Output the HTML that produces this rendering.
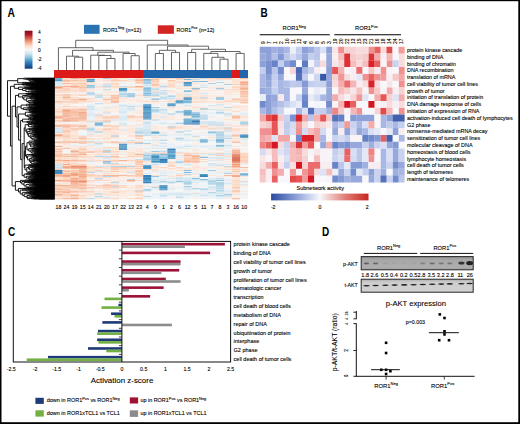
<!DOCTYPE html>
<html><head><meta charset="utf-8"><style>
html,body{margin:0;padding:0;background:#fff;}
body{width:520px;height:424px;overflow:hidden;}
svg{display:block;font-family:"Liberation Sans", sans-serif;}
text{stroke:#000;stroke-width:0.1px;}
</style></head><body>
<svg width="520" height="424" viewBox="0 0 520 424" shape-rendering="auto">
<rect x="0" y="0" width="520" height="424" fill="#fff"/>
<text transform="translate(7.5,16.75) scale(0.86,1)" font-size="11.9" font-weight="bold" fill="#000" style="stroke:none">A</text>
<rect x="84" y="24.8" width="15.6" height="9" fill="#2c73b4" />
<text x="103" y="31.6" font-size="5.3" fill="#000">ROR1<tspan font-size="3.6" dy="-2.4">Neg</tspan><tspan dy="2.4"> (n=12)</tspan></text>
<rect x="157.8" y="25.3" width="16.1" height="8.5" fill="#d42424" />
<text x="176.5" y="31.6" font-size="5.3" fill="#000">ROR1<tspan font-size="3.6" dy="-2.4">Pos</tspan><tspan dy="2.4"> (n=12)</tspan></text>
<defs><linearGradient id="keyA" x1="0" y1="0" x2="0" y2="1"><stop offset="0.00" stop-color="#7a0d22"/><stop offset="0.10" stop-color="#b2182b"/><stop offset="0.20" stop-color="#d6604d"/><stop offset="0.30" stop-color="#f4a582"/><stop offset="0.40" stop-color="#fddbc7"/><stop offset="0.50" stop-color="#f7f7f7"/><stop offset="0.60" stop-color="#d1e5f0"/><stop offset="0.70" stop-color="#92c5de"/><stop offset="0.80" stop-color="#4393c3"/><stop offset="0.90" stop-color="#2166ac"/><stop offset="1.00" stop-color="#0f3a6e"/></linearGradient></defs>
<rect x="24.7" y="30.7" width="7.8" height="38" fill="url(#keyA)" />
<text x="39.3" y="34" font-size="4.8" text-anchor="middle" font-weight="normal" fill="#000" >4</text>
<text x="39.3" y="43.2" font-size="4.8" text-anchor="middle" font-weight="normal" fill="#000" >2</text>
<text x="39.3" y="52.1" font-size="4.8" text-anchor="middle" font-weight="normal" fill="#000" >0</text>
<text x="39.3" y="60.9" font-size="4.8" text-anchor="middle" font-weight="normal" fill="#000" >-2</text>
<text x="39.3" y="70.1" font-size="4.8" text-anchor="middle" font-weight="normal" fill="#000" >-4</text>
<rect x="54.4" y="70.1" width="88.82" height="7.5" fill="#dc1a1a" shape-rendering="crispEdges"/>
<rect x="143.22" y="70.1" width="88.82" height="7.5" fill="#2166aa" shape-rendering="crispEdges"/>
<rect x="232.05" y="70.1" width="8.07" height="7.5" fill="#dc1a1a" shape-rendering="crispEdges"/>
<rect x="240.12" y="70.1" width="8.07" height="7.5" fill="#2166aa" shape-rendering="crispEdges"/>
<path d="M74.59 70.1V57.2H82.66V70.1" fill="none" stroke="#4a4a4a" stroke-width="0.85"/>
<path d="M66.51 70.1V56.2H78.62V57.2" fill="none" stroke="#4a4a4a" stroke-width="0.85"/>
<path d="M106.89 70.1V58.5H114.96V70.1" fill="none" stroke="#4a4a4a" stroke-width="0.85"/>
<path d="M98.81 70.1V55.5H110.92V58.5" fill="none" stroke="#4a4a4a" stroke-width="0.85"/>
<path d="M90.74 70.1V55.2H104.87V55.5" fill="none" stroke="#4a4a4a" stroke-width="0.85"/>
<path d="M131.11 70.1V55.7H139.19V70.1" fill="none" stroke="#4a4a4a" stroke-width="0.85"/>
<path d="M123.04 70.1V53.5H135.15V55.7" fill="none" stroke="#4a4a4a" stroke-width="0.85"/>
<path d="M97.8 55.2V52.2H129.09V53.5" fill="none" stroke="#4a4a4a" stroke-width="0.85"/>
<path d="M72.57 56.2V50.35H113.45V52.2" fill="none" stroke="#4a4a4a" stroke-width="0.85"/>
<path d="M58.44 70.1V47.7H93.01V50.35" fill="none" stroke="#4a4a4a" stroke-width="0.85"/>
<path d="M155.34 70.1V53.5H163.41V70.1" fill="none" stroke="#4a4a4a" stroke-width="0.85"/>
<path d="M171.49 70.1V52.4H179.56V70.1" fill="none" stroke="#4a4a4a" stroke-width="0.85"/>
<path d="M159.38 53.5V50.3H175.52V52.4" fill="none" stroke="#4a4a4a" stroke-width="0.85"/>
<path d="M187.64 70.1V52.5H195.71V70.1" fill="none" stroke="#4a4a4a" stroke-width="0.85"/>
<path d="M219.94 70.1V59.2H228.01V70.1" fill="none" stroke="#4a4a4a" stroke-width="0.85"/>
<path d="M211.86 70.1V57.3H223.97V59.2" fill="none" stroke="#4a4a4a" stroke-width="0.85"/>
<path d="M203.79 70.1V53.4H217.92V57.3" fill="none" stroke="#4a4a4a" stroke-width="0.85"/>
<path d="M236.09 70.1V53.4H244.16V70.1" fill="none" stroke="#4a4a4a" stroke-width="0.85"/>
<path d="M210.85 53.4V51.5H240.12V53.4" fill="none" stroke="#4a4a4a" stroke-width="0.85"/>
<path d="M191.68 52.5V49.3H225.49V51.5" fill="none" stroke="#4a4a4a" stroke-width="0.85"/>
<path d="M167.45 50.3V46.2H208.58V49.3" fill="none" stroke="#4a4a4a" stroke-width="0.85"/>
<path d="M147.26 70.1V45H188.02V46.2" fill="none" stroke="#4a4a4a" stroke-width="0.85"/>
<path d="M75.72 47.7V40.3H167.64V45" fill="none" stroke="#4a4a4a" stroke-width="0.85"/>
<text x="58.44" y="208.9" font-size="5.2" text-anchor="middle" font-weight="normal" fill="#000" >18</text>
<text x="66.51" y="208.9" font-size="5.2" text-anchor="middle" font-weight="normal" fill="#000" >24</text>
<text x="74.59" y="208.9" font-size="5.2" text-anchor="middle" font-weight="normal" fill="#000" >19</text>
<text x="82.66" y="208.9" font-size="5.2" text-anchor="middle" font-weight="normal" fill="#000" >15</text>
<text x="90.74" y="208.9" font-size="5.2" text-anchor="middle" font-weight="normal" fill="#000" >14</text>
<text x="98.81" y="208.9" font-size="5.2" text-anchor="middle" font-weight="normal" fill="#000" >21</text>
<text x="106.89" y="208.9" font-size="5.2" text-anchor="middle" font-weight="normal" fill="#000" >20</text>
<text x="114.96" y="208.9" font-size="5.2" text-anchor="middle" font-weight="normal" fill="#000" >17</text>
<text x="123.04" y="208.9" font-size="5.2" text-anchor="middle" font-weight="normal" fill="#000" >22</text>
<text x="131.11" y="208.9" font-size="5.2" text-anchor="middle" font-weight="normal" fill="#000" >13</text>
<text x="139.19" y="208.9" font-size="5.2" text-anchor="middle" font-weight="normal" fill="#000" >23</text>
<text x="147.26" y="208.9" font-size="5.2" text-anchor="middle" font-weight="normal" fill="#000" >4</text>
<text x="155.34" y="208.9" font-size="5.2" text-anchor="middle" font-weight="normal" fill="#000" >9</text>
<text x="163.41" y="208.9" font-size="5.2" text-anchor="middle" font-weight="normal" fill="#000" >1</text>
<text x="171.49" y="208.9" font-size="5.2" text-anchor="middle" font-weight="normal" fill="#000" >2</text>
<text x="179.56" y="208.9" font-size="5.2" text-anchor="middle" font-weight="normal" fill="#000" >6</text>
<text x="187.64" y="208.9" font-size="5.2" text-anchor="middle" font-weight="normal" fill="#000" >12</text>
<text x="195.71" y="208.9" font-size="5.2" text-anchor="middle" font-weight="normal" fill="#000" >5</text>
<text x="203.79" y="208.9" font-size="5.2" text-anchor="middle" font-weight="normal" fill="#000" >11</text>
<text x="211.86" y="208.9" font-size="5.2" text-anchor="middle" font-weight="normal" fill="#000" >7</text>
<text x="219.94" y="208.9" font-size="5.2" text-anchor="middle" font-weight="normal" fill="#000" >8</text>
<text x="228.01" y="208.9" font-size="5.2" text-anchor="middle" font-weight="normal" fill="#000" >3</text>
<text x="236.09" y="208.9" font-size="5.2" text-anchor="middle" font-weight="normal" fill="#000" >16</text>
<text x="244.16" y="208.9" font-size="5.2" text-anchor="middle" font-weight="normal" fill="#000" >10</text>
<defs><filter id="blA" x="-2%" y="-2%" width="104%" height="104%"><feGaussianBlur stdDeviation="0.35"/></filter></defs>
<g filter="url(#blA)"><path fill="#72aed2" d="M54.4 78h8.12v1.06h-8.12zM183.6 91.14h8.12v1.06h-8.12zM199.75 139.66h8.12v1.06h-8.12zM151.3 154.82h8.12v1.06h-8.12z"/>
<path fill="#fcdecc" d="M62.47 78h8.12v1.06h-8.12zM110.92 78h8.12v1.06h-8.12zM135.15 78h8.12v1.06h-8.12zM183.6 78h8.12v1.06h-8.12zM191.67 78h8.12v1.06h-8.12zM110.92 81.03h8.12v1.06h-8.12zM167.45 81.03h8.12v1.06h-8.12zM232.05 81.03h8.12v1.06h-8.12zM70.55 82.04h8.12v1.06h-8.12zM78.62 82.04h8.12v1.06h-8.12zM151.3 82.04h8.12v1.06h-8.12zM167.45 82.04h8.12v1.06h-8.12zM175.52 82.04h8.12v1.06h-8.12zM102.85 83.05h8.12v1.06h-8.12zM151.3 83.05h8.12v1.06h-8.12zM119 87.1h8.12v1.06h-8.12zM86.7 89.12h8.12v1.06h-8.12zM191.67 90.13h8.12v1.06h-8.12zM62.47 91.14h8.12v1.06h-8.12zM110.92 91.14h8.12v1.06h-8.12zM54.4 92.15h8.12v1.06h-8.12zM102.85 92.15h8.12v1.06h-8.12zM232.05 92.15h8.12v1.06h-8.12zM135.15 94.17h8.12v1.06h-8.12zM232.05 94.17h8.12v1.06h-8.12zM70.55 95.18h8.12v1.06h-8.12zM175.52 95.18h8.12v1.06h-8.12zM215.9 96.2h8.12v1.06h-8.12zM191.67 97.21h8.12v1.06h-8.12zM191.67 98.22h8.12v1.06h-8.12zM207.82 98.22h8.12v1.06h-8.12zM175.52 99.23h8.12v1.06h-8.12zM54.4 100.24h8.12v1.06h-8.12zM102.85 101.25h8.12v1.06h-8.12zM215.9 101.25h8.12v1.06h-8.12zM215.9 102.26h8.12v1.06h-8.12zM62.47 104.28h8.12v1.06h-8.12zM215.9 107.31h8.12v1.06h-8.12zM54.4 110.35h8.12v1.06h-8.12zM232.05 110.35h8.12v1.06h-8.12zM240.12 110.35h8.12v1.06h-8.12zM54.4 112.37h8.12v1.06h-8.12zM135.15 113.38h8.12v1.06h-8.12zM167.45 115.4h8.12v1.06h-8.12zM183.6 115.4h8.12v1.06h-8.12zM94.78 119.44h8.12v1.06h-8.12zM135.15 119.44h8.12v1.06h-8.12zM127.07 120.46h8.12v1.06h-8.12zM54.4 122.48h8.12v1.06h-8.12zM62.47 123.49h8.12v1.06h-8.12zM135.15 124.5h8.12v1.06h-8.12zM240.12 124.5h8.12v1.06h-8.12zM207.82 125.51h8.12v1.06h-8.12zM223.97 125.51h8.12v1.06h-8.12zM54.4 126.52h8.12v1.06h-8.12zM175.52 126.52h8.12v1.06h-8.12zM215.9 126.52h8.12v1.06h-8.12zM207.82 127.53h8.12v1.06h-8.12zM94.78 128.54h8.12v1.06h-8.12zM127.07 129.55h8.12v1.06h-8.12zM167.45 129.55h8.12v1.06h-8.12zM94.78 130.56h8.12v1.06h-8.12zM110.92 131.57h8.12v1.06h-8.12zM240.12 131.57h8.12v1.06h-8.12zM54.4 133.6h8.12v1.06h-8.12zM110.92 134.61h8.12v1.06h-8.12zM54.4 136.63h8.12v1.06h-8.12zM191.67 136.63h8.12v1.06h-8.12zM240.12 137.64h8.12v1.06h-8.12zM78.62 138.65h8.12v1.06h-8.12zM102.85 138.65h8.12v1.06h-8.12zM78.62 139.66h8.12v1.06h-8.12zM102.85 140.67h8.12v1.06h-8.12zM54.4 142.69h8.12v1.06h-8.12zM70.55 147.75h8.12v1.06h-8.12zM110.92 148.76h8.12v1.06h-8.12zM135.15 148.76h8.12v1.06h-8.12zM215.9 148.76h8.12v1.06h-8.12zM127.07 153.81h8.12v1.06h-8.12zM86.7 155.83h8.12v1.06h-8.12zM223.97 155.83h8.12v1.06h-8.12zM86.7 156.85h8.12v1.06h-8.12zM183.6 156.85h8.12v1.06h-8.12zM70.55 157.86h8.12v1.06h-8.12zM54.4 160.89h8.12v1.06h-8.12zM62.47 162.91h8.12v1.06h-8.12zM70.55 163.92h8.12v1.06h-8.12zM62.47 164.93h8.12v1.06h-8.12zM127.07 164.93h8.12v1.06h-8.12zM223.97 166.95h8.12v1.06h-8.12zM102.85 167.96h8.12v1.06h-8.12zM167.45 167.96h8.12v1.06h-8.12zM143.22 168.98h8.12v1.06h-8.12zM151.3 168.98h8.12v1.06h-8.12zM223.97 168.98h8.12v1.06h-8.12zM102.85 171h8.12v1.06h-8.12zM232.05 174.03h8.12v1.06h-8.12zM151.3 175.04h8.12v1.06h-8.12zM86.7 176.05h8.12v1.06h-8.12zM54.4 178.07h8.12v1.06h-8.12zM62.47 183.13h8.12v1.06h-8.12zM232.05 183.13h8.12v1.06h-8.12zM94.78 186.16h8.12v1.06h-8.12zM102.85 186.16h8.12v1.06h-8.12zM232.05 186.16h8.12v1.06h-8.12zM86.7 188.18h8.12v1.06h-8.12zM102.85 188.18h8.12v1.06h-8.12zM127.07 188.18h8.12v1.06h-8.12zM54.4 190.2h8.12v1.06h-8.12zM94.78 191.21h8.12v1.06h-8.12zM78.62 192.22h8.12v1.06h-8.12zM135.15 192.22h8.12v1.06h-8.12zM86.7 193.24h8.12v1.06h-8.12zM78.62 194.25h8.12v1.06h-8.12zM94.78 194.25h8.12v1.06h-8.12zM102.85 194.25h8.12v1.06h-8.12zM127.07 194.25h8.12v1.06h-8.12zM62.47 195.26h8.12v1.06h-8.12zM135.15 195.26h8.12v1.06h-8.12zM70.55 196.27h8.12v1.06h-8.12zM78.62 197.28h8.12v1.06h-8.12z"/>
<path fill="#f6a884" d="M70.55 78h8.12v1.06h-8.12zM62.47 94.17h8.12v1.06h-8.12zM54.4 115.4h8.12v1.06h-8.12zM78.62 115.4h8.12v1.06h-8.12zM102.85 117.42h8.12v1.06h-8.12zM54.4 141.68h8.12v1.06h-8.12zM102.85 150.78h8.12v1.06h-8.12zM78.62 151.79h8.12v1.06h-8.12zM62.47 159.88h8.12v1.06h-8.12zM70.55 175.04h8.12v1.06h-8.12zM78.62 176.05h8.12v1.06h-8.12zM232.05 176.05h8.12v1.06h-8.12zM78.62 184.14h8.12v1.06h-8.12zM54.4 191.21h8.12v1.06h-8.12z"/>
<path fill="#f6c0a2" d="M78.62 78h8.12v1.06h-8.12zM240.12 78h8.12v1.06h-8.12zM151.3 79.01h8.12v1.06h-8.12zM70.55 80.02h8.12v1.06h-8.12zM78.62 87.1h8.12v1.06h-8.12zM240.12 87.1h8.12v1.06h-8.12zM240.12 89.12h8.12v1.06h-8.12zM62.47 96.2h8.12v1.06h-8.12zM110.92 100.24h8.12v1.06h-8.12zM62.47 111.36h8.12v1.06h-8.12zM78.62 111.36h8.12v1.06h-8.12zM102.85 116.41h8.12v1.06h-8.12zM135.15 116.41h8.12v1.06h-8.12zM54.4 119.44h8.12v1.06h-8.12zM54.4 124.5h8.12v1.06h-8.12zM207.82 128.54h8.12v1.06h-8.12zM54.4 135.62h8.12v1.06h-8.12zM70.55 151.79h8.12v1.06h-8.12zM191.67 152.8h8.12v1.06h-8.12zM191.67 154.82h8.12v1.06h-8.12zM54.4 155.83h8.12v1.06h-8.12zM232.05 162.91h8.12v1.06h-8.12zM62.47 167.96h8.12v1.06h-8.12zM135.15 171h8.12v1.06h-8.12zM70.55 172.01h8.12v1.06h-8.12zM78.62 173.02h8.12v1.06h-8.12zM78.62 178.07h8.12v1.06h-8.12zM94.78 185.15h8.12v1.06h-8.12zM119 185.15h8.12v1.06h-8.12zM62.47 187.17h8.12v1.06h-8.12zM86.7 191.21h8.12v1.06h-8.12zM232.05 191.21h8.12v1.06h-8.12zM54.4 192.22h8.12v1.06h-8.12zM54.4 195.26h8.12v1.06h-8.12z"/>
<path fill="#fcccb4" d="M86.7 78h8.12v1.06h-8.12zM78.62 80.02h8.12v1.06h-8.12zM110.92 80.02h8.12v1.06h-8.12zM151.3 85.08h8.12v1.06h-8.12zM78.62 86.09h8.12v1.06h-8.12zM54.4 90.13h8.12v1.06h-8.12zM78.62 94.17h8.12v1.06h-8.12zM240.12 94.17h8.12v1.06h-8.12zM240.12 95.18h8.12v1.06h-8.12zM110.92 96.2h8.12v1.06h-8.12zM232.05 98.22h8.12v1.06h-8.12zM240.12 98.22h8.12v1.06h-8.12zM62.47 99.23h8.12v1.06h-8.12zM78.62 101.25h8.12v1.06h-8.12zM232.05 106.3h8.12v1.06h-8.12zM70.55 108.33h8.12v1.06h-8.12zM199.75 109.34h8.12v1.06h-8.12zM54.4 111.36h8.12v1.06h-8.12zM94.78 115.4h8.12v1.06h-8.12zM127.07 117.42h8.12v1.06h-8.12zM102.85 119.44h8.12v1.06h-8.12zM94.78 120.46h8.12v1.06h-8.12zM86.7 125.51h8.12v1.06h-8.12zM119 125.51h8.12v1.06h-8.12zM127.07 125.51h8.12v1.06h-8.12zM232.05 125.51h8.12v1.06h-8.12zM240.12 125.51h8.12v1.06h-8.12zM110.92 127.53h8.12v1.06h-8.12zM175.52 127.53h8.12v1.06h-8.12zM199.75 128.54h8.12v1.06h-8.12zM215.9 128.54h8.12v1.06h-8.12zM62.47 129.55h8.12v1.06h-8.12zM232.05 129.55h8.12v1.06h-8.12zM62.47 131.57h8.12v1.06h-8.12zM62.47 136.63h8.12v1.06h-8.12zM78.62 140.67h8.12v1.06h-8.12zM78.62 149.77h8.12v1.06h-8.12zM94.78 150.78h8.12v1.06h-8.12zM110.92 150.78h8.12v1.06h-8.12zM54.4 151.79h8.12v1.06h-8.12zM175.52 151.79h8.12v1.06h-8.12zM78.62 152.8h8.12v1.06h-8.12zM183.6 152.8h8.12v1.06h-8.12zM240.12 152.8h8.12v1.06h-8.12zM94.78 153.81h8.12v1.06h-8.12zM78.62 156.85h8.12v1.06h-8.12zM240.12 156.85h8.12v1.06h-8.12zM183.6 157.86h8.12v1.06h-8.12zM183.6 158.87h8.12v1.06h-8.12zM191.67 158.87h8.12v1.06h-8.12zM110.92 159.88h8.12v1.06h-8.12zM191.67 159.88h8.12v1.06h-8.12zM78.62 163.92h8.12v1.06h-8.12zM135.15 165.94h8.12v1.06h-8.12zM94.78 166.95h8.12v1.06h-8.12zM119 166.95h8.12v1.06h-8.12zM135.15 167.96h8.12v1.06h-8.12zM54.4 168.98h8.12v1.06h-8.12zM110.92 168.98h8.12v1.06h-8.12zM232.05 168.98h8.12v1.06h-8.12zM94.78 169.99h8.12v1.06h-8.12zM135.15 169.99h8.12v1.06h-8.12zM135.15 175.04h8.12v1.06h-8.12zM175.52 175.04h8.12v1.06h-8.12zM70.55 177.06h8.12v1.06h-8.12zM78.62 179.08h8.12v1.06h-8.12zM86.7 180.09h8.12v1.06h-8.12zM62.47 181.11h8.12v1.06h-8.12zM86.7 185.15h8.12v1.06h-8.12zM62.47 186.16h8.12v1.06h-8.12zM78.62 186.16h8.12v1.06h-8.12zM151.3 186.16h8.12v1.06h-8.12zM119 187.17h8.12v1.06h-8.12zM62.47 188.18h8.12v1.06h-8.12zM70.55 188.18h8.12v1.06h-8.12zM62.47 189.19h8.12v1.06h-8.12zM62.47 190.2h8.12v1.06h-8.12zM70.55 190.2h8.12v1.06h-8.12zM110.92 191.21h8.12v1.06h-8.12zM70.55 192.22h8.12v1.06h-8.12zM110.92 192.22h8.12v1.06h-8.12zM54.4 193.24h8.12v1.06h-8.12zM232.05 194.25h8.12v1.06h-8.12zM70.55 197.28h8.12v1.06h-8.12zM78.62 198.29h8.12v1.06h-8.12z"/>
<path fill="#fceade" d="M94.78 78h8.12v1.06h-8.12zM143.22 78h8.12v1.06h-8.12zM232.05 78h8.12v1.06h-8.12zM94.78 79.01h8.12v1.06h-8.12zM102.85 79.01h8.12v1.06h-8.12zM159.38 79.01h8.12v1.06h-8.12zM207.82 79.01h8.12v1.06h-8.12zM183.6 80.02h8.12v1.06h-8.12zM240.12 80.02h8.12v1.06h-8.12zM62.47 82.04h8.12v1.06h-8.12zM86.7 83.05h8.12v1.06h-8.12zM191.67 84.06h8.12v1.06h-8.12zM175.52 86.09h8.12v1.06h-8.12zM62.47 87.1h8.12v1.06h-8.12zM175.52 87.1h8.12v1.06h-8.12zM151.3 90.13h8.12v1.06h-8.12zM135.15 91.14h8.12v1.06h-8.12zM232.05 91.14h8.12v1.06h-8.12zM110.92 92.15h8.12v1.06h-8.12zM191.67 93.16h8.12v1.06h-8.12zM191.67 95.18h8.12v1.06h-8.12zM70.55 96.2h8.12v1.06h-8.12zM207.82 96.2h8.12v1.06h-8.12zM223.97 96.2h8.12v1.06h-8.12zM119 97.21h8.12v1.06h-8.12zM232.05 97.21h8.12v1.06h-8.12zM119 98.22h8.12v1.06h-8.12zM143.22 99.23h8.12v1.06h-8.12zM199.75 99.23h8.12v1.06h-8.12zM86.7 100.24h8.12v1.06h-8.12zM94.78 100.24h8.12v1.06h-8.12zM143.22 100.24h8.12v1.06h-8.12zM127.07 101.25h8.12v1.06h-8.12zM167.45 102.26h8.12v1.06h-8.12zM199.75 102.26h8.12v1.06h-8.12zM207.82 102.26h8.12v1.06h-8.12zM232.05 102.26h8.12v1.06h-8.12zM151.3 103.27h8.12v1.06h-8.12zM215.9 103.27h8.12v1.06h-8.12zM223.97 104.28h8.12v1.06h-8.12zM62.47 105.29h8.12v1.06h-8.12zM183.6 106.3h8.12v1.06h-8.12zM199.75 106.3h8.12v1.06h-8.12zM70.55 107.31h8.12v1.06h-8.12zM86.7 107.31h8.12v1.06h-8.12zM232.05 107.31h8.12v1.06h-8.12zM232.05 108.33h8.12v1.06h-8.12zM175.52 109.34h8.12v1.06h-8.12zM110.92 110.35h8.12v1.06h-8.12zM110.92 111.36h8.12v1.06h-8.12zM102.85 113.38h8.12v1.06h-8.12zM159.38 114.39h8.12v1.06h-8.12zM175.52 114.39h8.12v1.06h-8.12zM223.97 114.39h8.12v1.06h-8.12zM94.78 118.43h8.12v1.06h-8.12zM110.92 118.43h8.12v1.06h-8.12zM207.82 118.43h8.12v1.06h-8.12zM127.07 119.44h8.12v1.06h-8.12zM240.12 119.44h8.12v1.06h-8.12zM240.12 120.46h8.12v1.06h-8.12zM54.4 123.49h8.12v1.06h-8.12zM232.05 123.49h8.12v1.06h-8.12zM102.85 124.5h8.12v1.06h-8.12zM199.75 124.5h8.12v1.06h-8.12zM183.6 125.51h8.12v1.06h-8.12zM102.85 126.52h8.12v1.06h-8.12zM119 126.52h8.12v1.06h-8.12zM127.07 126.52h8.12v1.06h-8.12zM151.3 126.52h8.12v1.06h-8.12zM223.97 126.52h8.12v1.06h-8.12zM110.92 130.56h8.12v1.06h-8.12zM215.9 130.56h8.12v1.06h-8.12zM191.67 132.59h8.12v1.06h-8.12zM240.12 132.59h8.12v1.06h-8.12zM127.07 133.6h8.12v1.06h-8.12zM127.07 134.61h8.12v1.06h-8.12zM102.85 136.63h8.12v1.06h-8.12zM127.07 136.63h8.12v1.06h-8.12zM135.15 136.63h8.12v1.06h-8.12zM110.92 137.64h8.12v1.06h-8.12zM135.15 138.65h8.12v1.06h-8.12zM167.45 138.65h8.12v1.06h-8.12zM127.07 140.67h8.12v1.06h-8.12zM240.12 141.68h8.12v1.06h-8.12zM70.55 142.69h8.12v1.06h-8.12zM102.85 142.69h8.12v1.06h-8.12zM54.4 143.7h8.12v1.06h-8.12zM191.67 143.7h8.12v1.06h-8.12zM70.55 146.74h8.12v1.06h-8.12zM70.55 148.76h8.12v1.06h-8.12zM143.22 148.76h8.12v1.06h-8.12zM191.67 148.76h8.12v1.06h-8.12zM110.92 149.77h8.12v1.06h-8.12zM207.82 149.77h8.12v1.06h-8.12zM191.67 151.79h8.12v1.06h-8.12zM207.82 151.79h8.12v1.06h-8.12zM240.12 151.79h8.12v1.06h-8.12zM102.85 152.8h8.12v1.06h-8.12zM207.82 152.8h8.12v1.06h-8.12zM86.7 154.82h8.12v1.06h-8.12zM135.15 154.82h8.12v1.06h-8.12zM62.47 156.85h8.12v1.06h-8.12zM127.07 156.85h8.12v1.06h-8.12zM86.7 157.86h8.12v1.06h-8.12zM94.78 160.89h8.12v1.06h-8.12zM127.07 160.89h8.12v1.06h-8.12zM191.67 162.91h8.12v1.06h-8.12zM240.12 163.92h8.12v1.06h-8.12zM102.85 164.93h8.12v1.06h-8.12zM119 164.93h8.12v1.06h-8.12zM215.9 165.94h8.12v1.06h-8.12zM207.82 166.95h8.12v1.06h-8.12zM94.78 167.96h8.12v1.06h-8.12zM215.9 167.96h8.12v1.06h-8.12zM62.47 168.98h8.12v1.06h-8.12zM94.78 168.98h8.12v1.06h-8.12zM191.67 168.98h8.12v1.06h-8.12zM102.85 169.99h8.12v1.06h-8.12zM119 169.99h8.12v1.06h-8.12zM199.75 169.99h8.12v1.06h-8.12zM102.85 172.01h8.12v1.06h-8.12zM119 172.01h8.12v1.06h-8.12zM215.9 172.01h8.12v1.06h-8.12zM119 176.05h8.12v1.06h-8.12zM175.52 176.05h8.12v1.06h-8.12zM223.97 176.05h8.12v1.06h-8.12zM135.15 178.07h8.12v1.06h-8.12zM127.07 183.13h8.12v1.06h-8.12zM191.67 183.13h8.12v1.06h-8.12zM94.78 184.14h8.12v1.06h-8.12zM223.97 186.16h8.12v1.06h-8.12zM94.78 188.18h8.12v1.06h-8.12zM232.05 189.19h8.12v1.06h-8.12zM94.78 192.22h8.12v1.06h-8.12zM102.85 192.22h8.12v1.06h-8.12zM78.62 193.24h8.12v1.06h-8.12zM127.07 195.26h8.12v1.06h-8.12zM135.15 196.27h8.12v1.06h-8.12zM94.78 197.28h8.12v1.06h-8.12zM119 198.29h8.12v1.06h-8.12z"/>
<path fill="#a8d2e4" d="M102.85 78h8.12v1.06h-8.12zM86.7 86.09h8.12v1.06h-8.12zM143.22 92.15h8.12v1.06h-8.12zM143.22 94.17h8.12v1.06h-8.12zM94.78 95.18h8.12v1.06h-8.12zM94.78 97.21h8.12v1.06h-8.12zM86.7 106.3h8.12v1.06h-8.12zM159.38 116.41h8.12v1.06h-8.12zM86.7 121.47h8.12v1.06h-8.12zM240.12 121.47h8.12v1.06h-8.12zM240.12 122.48h8.12v1.06h-8.12zM223.97 127.53h8.12v1.06h-8.12zM183.6 133.6h8.12v1.06h-8.12zM135.15 134.61h8.12v1.06h-8.12zM151.3 134.61h8.12v1.06h-8.12zM110.92 135.62h8.12v1.06h-8.12zM183.6 145.73h8.12v1.06h-8.12zM102.85 149.77h8.12v1.06h-8.12zM102.85 151.79h8.12v1.06h-8.12zM207.82 153.81h8.12v1.06h-8.12zM159.38 155.83h8.12v1.06h-8.12zM159.38 157.86h8.12v1.06h-8.12zM102.85 162.91h8.12v1.06h-8.12zM119 165.94h8.12v1.06h-8.12zM127.07 179.08h8.12v1.06h-8.12zM167.45 182.12h8.12v1.06h-8.12zM215.9 185.15h8.12v1.06h-8.12zM110.92 186.16h8.12v1.06h-8.12zM151.3 187.17h8.12v1.06h-8.12zM215.9 188.18h8.12v1.06h-8.12zM175.52 197.28h8.12v1.06h-8.12z"/>
<path fill="#fce4d2" d="M119 78h8.12v1.06h-8.12zM232.05 79.01h8.12v1.06h-8.12zM232.05 80.02h8.12v1.06h-8.12zM232.05 83.05h8.12v1.06h-8.12zM86.7 84.06h8.12v1.06h-8.12zM110.92 87.1h8.12v1.06h-8.12zM167.45 87.1h8.12v1.06h-8.12zM191.67 87.1h8.12v1.06h-8.12zM207.82 87.1h8.12v1.06h-8.12zM183.6 88.11h8.12v1.06h-8.12zM54.4 89.12h8.12v1.06h-8.12zM102.85 90.13h8.12v1.06h-8.12zM175.52 92.15h8.12v1.06h-8.12zM223.97 93.16h8.12v1.06h-8.12zM102.85 94.17h8.12v1.06h-8.12zM110.92 94.17h8.12v1.06h-8.12zM183.6 95.18h8.12v1.06h-8.12zM207.82 95.18h8.12v1.06h-8.12zM191.67 96.2h8.12v1.06h-8.12zM78.62 97.21h8.12v1.06h-8.12zM54.4 98.22h8.12v1.06h-8.12zM70.55 98.22h8.12v1.06h-8.12zM54.4 99.23h8.12v1.06h-8.12zM191.67 99.23h8.12v1.06h-8.12zM62.47 100.24h8.12v1.06h-8.12zM232.05 100.24h8.12v1.06h-8.12zM78.62 102.26h8.12v1.06h-8.12zM102.85 102.26h8.12v1.06h-8.12zM191.67 102.26h8.12v1.06h-8.12zM54.4 103.27h8.12v1.06h-8.12zM70.55 103.27h8.12v1.06h-8.12zM102.85 103.27h8.12v1.06h-8.12zM102.85 106.3h8.12v1.06h-8.12zM54.4 113.38h8.12v1.06h-8.12zM54.4 114.39h8.12v1.06h-8.12zM183.6 116.41h8.12v1.06h-8.12zM240.12 116.41h8.12v1.06h-8.12zM240.12 117.42h8.12v1.06h-8.12zM54.4 118.43h8.12v1.06h-8.12zM102.85 118.43h8.12v1.06h-8.12zM127.07 118.43h8.12v1.06h-8.12zM151.3 118.43h8.12v1.06h-8.12zM223.97 119.44h8.12v1.06h-8.12zM232.05 120.46h8.12v1.06h-8.12zM70.55 131.57h8.12v1.06h-8.12zM54.4 132.59h8.12v1.06h-8.12zM119 137.64h8.12v1.06h-8.12zM54.4 138.65h8.12v1.06h-8.12zM86.7 142.69h8.12v1.06h-8.12zM70.55 145.73h8.12v1.06h-8.12zM86.7 145.73h8.12v1.06h-8.12zM54.4 147.75h8.12v1.06h-8.12zM102.85 147.75h8.12v1.06h-8.12zM232.05 147.75h8.12v1.06h-8.12zM240.12 148.76h8.12v1.06h-8.12zM54.4 149.77h8.12v1.06h-8.12zM191.67 149.77h8.12v1.06h-8.12zM119 151.79h8.12v1.06h-8.12zM135.15 151.79h8.12v1.06h-8.12zM151.3 151.79h8.12v1.06h-8.12zM86.7 153.81h8.12v1.06h-8.12zM175.52 154.82h8.12v1.06h-8.12zM223.97 154.82h8.12v1.06h-8.12zM135.15 156.85h8.12v1.06h-8.12zM54.4 157.86h8.12v1.06h-8.12zM167.45 162.91h8.12v1.06h-8.12zM119 163.92h8.12v1.06h-8.12zM135.15 164.93h8.12v1.06h-8.12zM151.3 165.94h8.12v1.06h-8.12zM183.6 167.96h8.12v1.06h-8.12zM232.05 167.96h8.12v1.06h-8.12zM70.55 168.98h8.12v1.06h-8.12zM119 168.98h8.12v1.06h-8.12zM240.12 168.98h8.12v1.06h-8.12zM86.7 169.99h8.12v1.06h-8.12zM110.92 169.99h8.12v1.06h-8.12zM232.05 169.99h8.12v1.06h-8.12zM127.07 171h8.12v1.06h-8.12zM62.47 172.01h8.12v1.06h-8.12zM183.6 175.04h8.12v1.06h-8.12zM207.82 175.04h8.12v1.06h-8.12zM54.4 177.06h8.12v1.06h-8.12zM102.85 177.06h8.12v1.06h-8.12zM54.4 179.08h8.12v1.06h-8.12zM232.05 179.08h8.12v1.06h-8.12zM62.47 184.14h8.12v1.06h-8.12zM127.07 187.17h8.12v1.06h-8.12zM135.15 189.19h8.12v1.06h-8.12zM86.7 190.2h8.12v1.06h-8.12zM110.92 190.2h8.12v1.06h-8.12zM191.67 192.22h8.12v1.06h-8.12zM70.55 193.24h8.12v1.06h-8.12zM86.7 195.26h8.12v1.06h-8.12zM62.47 197.28h8.12v1.06h-8.12zM135.15 197.28h8.12v1.06h-8.12zM94.78 198.29h8.12v1.06h-8.12z"/>
<path fill="#fcf0e4" d="M127.07 78h8.12v1.06h-8.12zM119 79.01h8.12v1.06h-8.12zM175.52 80.02h8.12v1.06h-8.12zM159.38 81.03h8.12v1.06h-8.12zM135.15 97.21h8.12v1.06h-8.12zM207.82 99.23h8.12v1.06h-8.12zM240.12 103.27h8.12v1.06h-8.12zM207.82 106.3h8.12v1.06h-8.12zM183.6 107.31h8.12v1.06h-8.12zM207.82 108.33h8.12v1.06h-8.12zM151.3 124.5h8.12v1.06h-8.12zM240.12 126.52h8.12v1.06h-8.12zM119 131.57h8.12v1.06h-8.12zM119 135.62h8.12v1.06h-8.12zM199.75 136.63h8.12v1.06h-8.12zM127.07 137.64h8.12v1.06h-8.12zM62.47 144.72h8.12v1.06h-8.12zM143.22 149.77h8.12v1.06h-8.12zM199.75 149.77h8.12v1.06h-8.12zM127.07 150.78h8.12v1.06h-8.12zM94.78 161.9h8.12v1.06h-8.12zM167.45 166.95h8.12v1.06h-8.12zM215.9 166.95h8.12v1.06h-8.12zM110.92 172.01h8.12v1.06h-8.12zM86.7 178.07h8.12v1.06h-8.12zM119 179.08h8.12v1.06h-8.12zM175.52 186.16h8.12v1.06h-8.12zM119 196.27h8.12v1.06h-8.12z"/>
<path fill="#fcd8c0" d="M151.3 78h8.12v1.06h-8.12zM110.92 83.05h8.12v1.06h-8.12zM135.15 83.05h8.12v1.06h-8.12zM94.78 86.09h8.12v1.06h-8.12zM110.92 86.09h8.12v1.06h-8.12zM127.07 87.1h8.12v1.06h-8.12zM78.62 89.12h8.12v1.06h-8.12zM62.47 92.15h8.12v1.06h-8.12zM54.4 97.21h8.12v1.06h-8.12zM86.7 98.22h8.12v1.06h-8.12zM167.45 101.25h8.12v1.06h-8.12zM207.82 101.25h8.12v1.06h-8.12zM240.12 101.25h8.12v1.06h-8.12zM54.4 106.3h8.12v1.06h-8.12zM78.62 106.3h8.12v1.06h-8.12zM240.12 106.3h8.12v1.06h-8.12zM191.67 107.31h8.12v1.06h-8.12zM183.6 109.34h8.12v1.06h-8.12zM102.85 115.4h8.12v1.06h-8.12zM240.12 115.4h8.12v1.06h-8.12zM94.78 117.42h8.12v1.06h-8.12zM223.97 118.43h8.12v1.06h-8.12zM62.47 132.59h8.12v1.06h-8.12zM62.47 134.61h8.12v1.06h-8.12zM70.55 135.62h8.12v1.06h-8.12zM110.92 136.63h8.12v1.06h-8.12zM127.07 142.69h8.12v1.06h-8.12zM232.05 145.73h8.12v1.06h-8.12zM78.62 150.78h8.12v1.06h-8.12zM110.92 151.79h8.12v1.06h-8.12zM159.38 152.8h8.12v1.06h-8.12zM175.52 152.8h8.12v1.06h-8.12zM102.85 153.81h8.12v1.06h-8.12zM240.12 154.82h8.12v1.06h-8.12zM78.62 155.83h8.12v1.06h-8.12zM135.15 155.83h8.12v1.06h-8.12zM62.47 157.86h8.12v1.06h-8.12zM240.12 157.86h8.12v1.06h-8.12zM240.12 158.87h8.12v1.06h-8.12zM240.12 160.89h8.12v1.06h-8.12zM167.45 161.9h8.12v1.06h-8.12zM54.4 162.91h8.12v1.06h-8.12zM70.55 162.91h8.12v1.06h-8.12zM110.92 163.92h8.12v1.06h-8.12zM167.45 165.94h8.12v1.06h-8.12zM86.7 166.95h8.12v1.06h-8.12zM159.38 166.95h8.12v1.06h-8.12zM175.52 166.95h8.12v1.06h-8.12zM119 167.96h8.12v1.06h-8.12zM135.15 172.01h8.12v1.06h-8.12zM94.78 176.05h8.12v1.06h-8.12zM127.07 176.05h8.12v1.06h-8.12zM62.47 178.07h8.12v1.06h-8.12zM232.05 180.09h8.12v1.06h-8.12zM110.92 181.11h8.12v1.06h-8.12zM54.4 184.14h8.12v1.06h-8.12zM232.05 185.15h8.12v1.06h-8.12zM135.15 187.17h8.12v1.06h-8.12zM78.62 189.19h8.12v1.06h-8.12z"/>
<path fill="#fcd2c0" d="M159.38 78h8.12v1.06h-8.12zM167.45 78h8.12v1.06h-8.12zM151.3 80.02h8.12v1.06h-8.12zM135.15 81.03h8.12v1.06h-8.12zM70.55 84.06h8.12v1.06h-8.12zM240.12 86.09h8.12v1.06h-8.12zM78.62 88.11h8.12v1.06h-8.12zM191.67 89.12h8.12v1.06h-8.12zM240.12 90.13h8.12v1.06h-8.12zM70.55 97.21h8.12v1.06h-8.12zM86.7 101.25h8.12v1.06h-8.12zM159.38 101.25h8.12v1.06h-8.12zM232.05 101.25h8.12v1.06h-8.12zM135.15 115.4h8.12v1.06h-8.12zM135.15 117.42h8.12v1.06h-8.12zM159.38 126.52h8.12v1.06h-8.12zM70.55 127.53h8.12v1.06h-8.12zM86.7 131.57h8.12v1.06h-8.12zM102.85 141.68h8.12v1.06h-8.12zM78.62 145.73h8.12v1.06h-8.12zM110.92 146.74h8.12v1.06h-8.12zM70.55 152.8h8.12v1.06h-8.12zM119 153.81h8.12v1.06h-8.12zM240.12 153.81h8.12v1.06h-8.12zM102.85 156.85h8.12v1.06h-8.12zM102.85 159.88h8.12v1.06h-8.12zM62.47 160.89h8.12v1.06h-8.12zM62.47 161.9h8.12v1.06h-8.12zM183.6 161.9h8.12v1.06h-8.12zM167.45 164.93h8.12v1.06h-8.12zM94.78 175.04h8.12v1.06h-8.12zM62.47 179.08h8.12v1.06h-8.12zM102.85 180.09h8.12v1.06h-8.12zM135.15 180.09h8.12v1.06h-8.12z"/>
<path fill="#fcc6ae" d="M175.52 78h8.12v1.06h-8.12zM135.15 79.01h8.12v1.06h-8.12zM62.47 81.03h8.12v1.06h-8.12zM240.12 81.03h8.12v1.06h-8.12zM78.62 83.05h8.12v1.06h-8.12zM70.55 87.1h8.12v1.06h-8.12zM70.55 90.13h8.12v1.06h-8.12zM78.62 91.14h8.12v1.06h-8.12zM240.12 92.15h8.12v1.06h-8.12zM62.47 95.18h8.12v1.06h-8.12zM78.62 98.22h8.12v1.06h-8.12zM110.92 99.23h8.12v1.06h-8.12zM240.12 99.23h8.12v1.06h-8.12zM240.12 100.24h8.12v1.06h-8.12zM62.47 101.25h8.12v1.06h-8.12zM70.55 101.25h8.12v1.06h-8.12zM151.3 101.25h8.12v1.06h-8.12zM78.62 108.33h8.12v1.06h-8.12zM70.55 109.34h8.12v1.06h-8.12zM62.47 117.42h8.12v1.06h-8.12zM78.62 119.44h8.12v1.06h-8.12zM191.67 128.54h8.12v1.06h-8.12zM78.62 135.62h8.12v1.06h-8.12zM70.55 137.64h8.12v1.06h-8.12zM127.07 141.68h8.12v1.06h-8.12zM78.62 147.75h8.12v1.06h-8.12zM70.55 149.77h8.12v1.06h-8.12zM86.7 150.78h8.12v1.06h-8.12zM183.6 153.81h8.12v1.06h-8.12zM78.62 159.88h8.12v1.06h-8.12zM183.6 159.88h8.12v1.06h-8.12zM135.15 160.89h8.12v1.06h-8.12zM135.15 163.92h8.12v1.06h-8.12zM110.92 166.95h8.12v1.06h-8.12zM232.05 166.95h8.12v1.06h-8.12zM70.55 169.99h8.12v1.06h-8.12zM110.92 171h8.12v1.06h-8.12zM232.05 171h8.12v1.06h-8.12zM62.47 174.03h8.12v1.06h-8.12zM127.07 175.04h8.12v1.06h-8.12zM110.92 176.05h8.12v1.06h-8.12zM110.92 185.15h8.12v1.06h-8.12zM135.15 185.15h8.12v1.06h-8.12zM127.07 190.2h8.12v1.06h-8.12zM135.15 198.29h8.12v1.06h-8.12z"/>
<path fill="#c6deea" d="M199.75 78h8.12v1.06h-8.12zM199.75 87.1h8.12v1.06h-8.12zM151.3 93.16h8.12v1.06h-8.12zM151.3 94.17h8.12v1.06h-8.12zM175.52 103.27h8.12v1.06h-8.12zM207.82 109.34h8.12v1.06h-8.12zM175.52 123.49h8.12v1.06h-8.12zM207.82 124.5h8.12v1.06h-8.12zM143.22 125.51h8.12v1.06h-8.12zM135.15 128.54h8.12v1.06h-8.12zM54.4 129.55h8.12v1.06h-8.12zM175.52 138.65h8.12v1.06h-8.12zM143.22 155.83h8.12v1.06h-8.12zM135.15 158.87h8.12v1.06h-8.12zM110.92 162.91h8.12v1.06h-8.12zM151.3 163.92h8.12v1.06h-8.12zM54.4 164.93h8.12v1.06h-8.12zM151.3 180.09h8.12v1.06h-8.12zM183.6 184.14h8.12v1.06h-8.12zM207.82 184.14h8.12v1.06h-8.12zM143.22 186.16h8.12v1.06h-8.12z"/>
<path fill="#fcd2ba" d="M207.82 78h8.12v1.06h-8.12zM119 80.02h8.12v1.06h-8.12zM70.55 83.05h8.12v1.06h-8.12zM232.05 84.06h8.12v1.06h-8.12zM70.55 85.08h8.12v1.06h-8.12zM78.62 85.08h8.12v1.06h-8.12zM127.07 86.09h8.12v1.06h-8.12zM232.05 87.1h8.12v1.06h-8.12zM62.47 88.11h8.12v1.06h-8.12zM62.47 89.12h8.12v1.06h-8.12zM62.47 90.13h8.12v1.06h-8.12zM78.62 90.13h8.12v1.06h-8.12zM54.4 91.14h8.12v1.06h-8.12zM151.3 91.14h8.12v1.06h-8.12zM54.4 95.18h8.12v1.06h-8.12zM183.6 96.2h8.12v1.06h-8.12zM62.47 98.22h8.12v1.06h-8.12zM175.52 98.22h8.12v1.06h-8.12zM199.75 98.22h8.12v1.06h-8.12zM70.55 100.24h8.12v1.06h-8.12zM199.75 101.25h8.12v1.06h-8.12zM54.4 102.26h8.12v1.06h-8.12zM62.47 102.26h8.12v1.06h-8.12zM70.55 102.26h8.12v1.06h-8.12zM167.45 107.31h8.12v1.06h-8.12zM54.4 108.33h8.12v1.06h-8.12zM62.47 108.33h8.12v1.06h-8.12zM110.92 116.41h8.12v1.06h-8.12zM86.7 120.46h8.12v1.06h-8.12zM78.62 122.48h8.12v1.06h-8.12zM70.55 124.5h8.12v1.06h-8.12zM110.92 128.54h8.12v1.06h-8.12zM78.62 136.63h8.12v1.06h-8.12zM86.7 137.64h8.12v1.06h-8.12zM102.85 137.64h8.12v1.06h-8.12zM232.05 137.64h8.12v1.06h-8.12zM54.4 140.67h8.12v1.06h-8.12zM70.55 140.67h8.12v1.06h-8.12zM110.92 140.67h8.12v1.06h-8.12zM62.47 142.69h8.12v1.06h-8.12zM102.85 146.74h8.12v1.06h-8.12zM151.3 152.8h8.12v1.06h-8.12zM199.75 152.8h8.12v1.06h-8.12zM70.55 154.82h8.12v1.06h-8.12zM127.07 155.83h8.12v1.06h-8.12zM240.12 155.83h8.12v1.06h-8.12zM110.92 156.85h8.12v1.06h-8.12zM54.4 158.87h8.12v1.06h-8.12zM127.07 159.88h8.12v1.06h-8.12zM135.15 159.88h8.12v1.06h-8.12zM78.62 160.89h8.12v1.06h-8.12zM110.92 160.89h8.12v1.06h-8.12zM240.12 161.9h8.12v1.06h-8.12zM110.92 167.96h8.12v1.06h-8.12zM62.47 169.99h8.12v1.06h-8.12zM70.55 171h8.12v1.06h-8.12zM70.55 176.05h8.12v1.06h-8.12zM135.15 176.05h8.12v1.06h-8.12zM62.47 177.06h8.12v1.06h-8.12zM94.78 180.09h8.12v1.06h-8.12zM240.12 181.11h8.12v1.06h-8.12zM54.4 183.13h8.12v1.06h-8.12zM78.62 183.13h8.12v1.06h-8.12zM110.92 184.14h8.12v1.06h-8.12zM232.05 184.14h8.12v1.06h-8.12zM54.4 186.16h8.12v1.06h-8.12zM94.78 187.17h8.12v1.06h-8.12zM78.62 195.26h8.12v1.06h-8.12zM62.47 196.27h8.12v1.06h-8.12z"/>
<path fill="#fcccae" d="M215.9 78h8.12v1.06h-8.12zM151.3 81.03h8.12v1.06h-8.12zM135.15 82.04h8.12v1.06h-8.12zM78.62 95.18h8.12v1.06h-8.12zM78.62 110.35h8.12v1.06h-8.12zM78.62 126.52h8.12v1.06h-8.12zM183.6 128.54h8.12v1.06h-8.12zM70.55 129.55h8.12v1.06h-8.12zM191.67 156.85h8.12v1.06h-8.12zM135.15 173.02h8.12v1.06h-8.12zM86.7 175.04h8.12v1.06h-8.12zM135.15 194.25h8.12v1.06h-8.12zM127.07 198.29h8.12v1.06h-8.12z"/>
<path fill="#fcc6a8" d="M223.97 78h8.12v1.06h-8.12zM167.45 80.02h8.12v1.06h-8.12zM54.4 94.17h8.12v1.06h-8.12zM191.67 101.25h8.12v1.06h-8.12zM223.97 101.25h8.12v1.06h-8.12zM62.47 106.3h8.12v1.06h-8.12zM223.97 109.34h8.12v1.06h-8.12zM78.62 127.53h8.12v1.06h-8.12zM102.85 129.55h8.12v1.06h-8.12zM135.15 137.64h8.12v1.06h-8.12zM86.7 141.68h8.12v1.06h-8.12zM78.62 148.76h8.12v1.06h-8.12zM54.4 152.8h8.12v1.06h-8.12zM135.15 161.9h8.12v1.06h-8.12zM135.15 174.03h8.12v1.06h-8.12zM102.85 187.17h8.12v1.06h-8.12zM54.4 198.29h8.12v1.06h-8.12zM110.92 198.29h8.12v1.06h-8.12z"/>
<path fill="#6caed2" d="M54.4 79.01h8.12v1.06h-8.12zM183.6 84.06h8.12v1.06h-8.12zM183.6 90.13h8.12v1.06h-8.12zM183.6 102.26h8.12v1.06h-8.12zM143.22 110.35h8.12v1.06h-8.12zM215.9 138.65h8.12v1.06h-8.12zM199.75 141.68h8.12v1.06h-8.12zM215.9 141.68h8.12v1.06h-8.12zM135.15 142.69h8.12v1.06h-8.12zM167.45 152.8h8.12v1.06h-8.12zM167.45 156.85h8.12v1.06h-8.12z"/>
<path fill="#fcd8c6" d="M62.47 79.01h8.12v1.06h-8.12zM78.62 79.01h8.12v1.06h-8.12zM110.92 79.01h8.12v1.06h-8.12zM175.52 79.01h8.12v1.06h-8.12zM78.62 81.03h8.12v1.06h-8.12zM86.7 82.04h8.12v1.06h-8.12zM78.62 84.06h8.12v1.06h-8.12zM167.45 84.06h8.12v1.06h-8.12zM167.45 85.08h8.12v1.06h-8.12zM167.45 86.09h8.12v1.06h-8.12zM223.97 89.12h8.12v1.06h-8.12zM232.05 89.12h8.12v1.06h-8.12zM94.78 94.17h8.12v1.06h-8.12zM102.85 95.18h8.12v1.06h-8.12zM135.15 95.18h8.12v1.06h-8.12zM143.22 101.25h8.12v1.06h-8.12zM70.55 106.3h8.12v1.06h-8.12zM135.15 106.3h8.12v1.06h-8.12zM232.05 111.36h8.12v1.06h-8.12zM151.3 115.4h8.12v1.06h-8.12zM167.45 118.43h8.12v1.06h-8.12zM70.55 123.49h8.12v1.06h-8.12zM223.97 124.5h8.12v1.06h-8.12zM199.75 125.51h8.12v1.06h-8.12zM62.47 127.53h8.12v1.06h-8.12zM62.47 128.54h8.12v1.06h-8.12zM110.92 129.55h8.12v1.06h-8.12zM70.55 130.56h8.12v1.06h-8.12zM232.05 130.56h8.12v1.06h-8.12zM102.85 131.57h8.12v1.06h-8.12zM62.47 133.6h8.12v1.06h-8.12zM54.4 137.64h8.12v1.06h-8.12zM94.78 137.64h8.12v1.06h-8.12zM94.78 141.68h8.12v1.06h-8.12zM110.92 142.69h8.12v1.06h-8.12zM94.78 151.79h8.12v1.06h-8.12zM127.07 151.79h8.12v1.06h-8.12zM143.22 151.79h8.12v1.06h-8.12zM159.38 151.79h8.12v1.06h-8.12zM183.6 155.83h8.12v1.06h-8.12zM54.4 156.85h8.12v1.06h-8.12zM70.55 156.85h8.12v1.06h-8.12zM70.55 158.87h8.12v1.06h-8.12zM199.75 158.87h8.12v1.06h-8.12zM94.78 159.88h8.12v1.06h-8.12zM70.55 160.89h8.12v1.06h-8.12zM135.15 162.91h8.12v1.06h-8.12zM127.07 167.96h8.12v1.06h-8.12zM86.7 171h8.12v1.06h-8.12zM86.7 174.03h8.12v1.06h-8.12zM127.07 181.11h8.12v1.06h-8.12zM86.7 184.14h8.12v1.06h-8.12zM135.15 186.16h8.12v1.06h-8.12zM110.92 188.18h8.12v1.06h-8.12zM232.05 188.18h8.12v1.06h-8.12zM102.85 189.19h8.12v1.06h-8.12zM78.62 190.2h8.12v1.06h-8.12zM119 191.21h8.12v1.06h-8.12zM102.85 198.29h8.12v1.06h-8.12z"/>
<path fill="#fcded2" d="M70.55 79.01h8.12v1.06h-8.12zM215.9 79.01h8.12v1.06h-8.12zM223.97 79.01h8.12v1.06h-8.12zM102.85 80.02h8.12v1.06h-8.12zM175.52 81.03h8.12v1.06h-8.12zM215.9 87.1h8.12v1.06h-8.12zM70.55 88.11h8.12v1.06h-8.12zM70.55 91.14h8.12v1.06h-8.12zM86.7 91.14h8.12v1.06h-8.12zM223.97 91.14h8.12v1.06h-8.12zM191.67 92.15h8.12v1.06h-8.12zM191.67 94.17h8.12v1.06h-8.12zM240.12 97.21h8.12v1.06h-8.12zM102.85 98.22h8.12v1.06h-8.12zM86.7 99.23h8.12v1.06h-8.12zM223.97 100.24h8.12v1.06h-8.12zM94.78 101.25h8.12v1.06h-8.12zM102.85 108.33h8.12v1.06h-8.12zM232.05 119.44h8.12v1.06h-8.12zM110.92 120.46h8.12v1.06h-8.12zM223.97 121.47h8.12v1.06h-8.12zM102.85 123.49h8.12v1.06h-8.12zM191.67 124.5h8.12v1.06h-8.12zM215.9 125.51h8.12v1.06h-8.12zM151.3 128.54h8.12v1.06h-8.12zM240.12 129.55h8.12v1.06h-8.12zM102.85 130.56h8.12v1.06h-8.12zM86.7 134.61h8.12v1.06h-8.12zM127.07 135.62h8.12v1.06h-8.12zM62.47 143.7h8.12v1.06h-8.12zM232.05 148.76h8.12v1.06h-8.12zM94.78 149.77h8.12v1.06h-8.12zM119 150.78h8.12v1.06h-8.12zM135.15 150.78h8.12v1.06h-8.12zM119 156.85h8.12v1.06h-8.12zM78.62 158.87h8.12v1.06h-8.12zM102.85 166.95h8.12v1.06h-8.12zM127.07 166.95h8.12v1.06h-8.12zM151.3 166.95h8.12v1.06h-8.12zM102.85 173.02h8.12v1.06h-8.12zM232.05 173.02h8.12v1.06h-8.12zM232.05 181.11h8.12v1.06h-8.12zM127.07 185.15h8.12v1.06h-8.12zM135.15 188.18h8.12v1.06h-8.12zM70.55 189.19h8.12v1.06h-8.12zM240.12 191.21h8.12v1.06h-8.12zM86.7 192.22h8.12v1.06h-8.12zM110.92 195.26h8.12v1.06h-8.12zM78.62 196.27h8.12v1.06h-8.12zM54.4 197.28h8.12v1.06h-8.12z"/>
<path fill="#5aa2cc" d="M86.7 79.01h8.12v1.06h-8.12zM86.7 81.03h8.12v1.06h-8.12zM183.6 114.39h8.12v1.06h-8.12zM183.6 120.46h8.12v1.06h-8.12z"/>
<path fill="#d8eaf0" d="M127.07 79.01h8.12v1.06h-8.12zM54.4 83.05h8.12v1.06h-8.12zM143.22 84.06h8.12v1.06h-8.12zM119 91.14h8.12v1.06h-8.12zM94.78 93.16h8.12v1.06h-8.12zM159.38 99.23h8.12v1.06h-8.12zM183.6 103.27h8.12v1.06h-8.12zM127.07 105.29h8.12v1.06h-8.12zM215.9 105.29h8.12v1.06h-8.12zM102.85 107.31h8.12v1.06h-8.12zM86.7 111.36h8.12v1.06h-8.12zM119 111.36h8.12v1.06h-8.12zM207.82 112.37h8.12v1.06h-8.12zM86.7 117.42h8.12v1.06h-8.12zM119 117.42h8.12v1.06h-8.12zM119 119.44h8.12v1.06h-8.12zM207.82 120.46h8.12v1.06h-8.12zM119 122.48h8.12v1.06h-8.12zM167.45 122.48h8.12v1.06h-8.12zM199.75 122.48h8.12v1.06h-8.12zM86.7 123.49h8.12v1.06h-8.12zM119 123.49h8.12v1.06h-8.12zM119 124.5h8.12v1.06h-8.12zM135.15 125.51h8.12v1.06h-8.12zM143.22 127.53h8.12v1.06h-8.12zM143.22 133.6h8.12v1.06h-8.12zM240.12 138.65h8.12v1.06h-8.12zM127.07 143.7h8.12v1.06h-8.12zM223.97 145.73h8.12v1.06h-8.12zM183.6 147.75h8.12v1.06h-8.12zM86.7 148.76h8.12v1.06h-8.12zM102.85 148.76h8.12v1.06h-8.12zM199.75 153.81h8.12v1.06h-8.12zM223.97 153.81h8.12v1.06h-8.12zM183.6 163.92h8.12v1.06h-8.12zM207.82 163.92h8.12v1.06h-8.12zM215.9 163.92h8.12v1.06h-8.12zM54.4 165.94h8.12v1.06h-8.12zM175.52 173.02h8.12v1.06h-8.12zM175.52 179.08h8.12v1.06h-8.12zM207.82 179.08h8.12v1.06h-8.12zM215.9 179.08h8.12v1.06h-8.12zM175.52 180.09h8.12v1.06h-8.12zM191.67 182.12h8.12v1.06h-8.12zM167.45 183.13h8.12v1.06h-8.12zM151.3 188.18h8.12v1.06h-8.12zM199.75 191.21h8.12v1.06h-8.12zM215.9 192.22h8.12v1.06h-8.12zM151.3 193.24h8.12v1.06h-8.12zM159.38 194.25h8.12v1.06h-8.12zM199.75 194.25h8.12v1.06h-8.12zM94.78 195.26h8.12v1.06h-8.12zM175.52 195.26h8.12v1.06h-8.12zM207.82 195.26h8.12v1.06h-8.12zM175.52 196.27h8.12v1.06h-8.12zM191.67 196.27h8.12v1.06h-8.12zM215.9 196.27h8.12v1.06h-8.12z"/>
<path fill="#84bad8" d="M143.22 79.01h8.12v1.06h-8.12zM143.22 95.18h8.12v1.06h-8.12zM151.3 99.23h8.12v1.06h-8.12zM175.52 122.48h8.12v1.06h-8.12zM207.82 132.59h8.12v1.06h-8.12zM151.3 150.78h8.12v1.06h-8.12zM183.6 172.01h8.12v1.06h-8.12zM223.97 194.25h8.12v1.06h-8.12z"/>
<path fill="#f6f6f6" d="M167.45 79.01h8.12v1.06h-8.12zM215.9 81.03h8.12v1.06h-8.12zM94.78 82.04h8.12v1.06h-8.12zM102.85 82.04h8.12v1.06h-8.12zM127.07 82.04h8.12v1.06h-8.12zM159.38 82.04h8.12v1.06h-8.12zM119 84.06h8.12v1.06h-8.12zM135.15 84.06h8.12v1.06h-8.12zM215.9 84.06h8.12v1.06h-8.12zM119 85.08h8.12v1.06h-8.12zM191.67 85.08h8.12v1.06h-8.12zM207.82 86.09h8.12v1.06h-8.12zM94.78 88.11h8.12v1.06h-8.12zM167.45 88.11h8.12v1.06h-8.12zM199.75 88.11h8.12v1.06h-8.12zM110.92 89.12h8.12v1.06h-8.12zM183.6 89.12h8.12v1.06h-8.12zM207.82 89.12h8.12v1.06h-8.12zM94.78 90.13h8.12v1.06h-8.12zM127.07 92.15h8.12v1.06h-8.12zM207.82 92.15h8.12v1.06h-8.12zM199.75 94.17h8.12v1.06h-8.12zM207.82 94.17h8.12v1.06h-8.12zM215.9 94.17h8.12v1.06h-8.12zM78.62 96.2h8.12v1.06h-8.12zM86.7 96.2h8.12v1.06h-8.12zM119 102.26h8.12v1.06h-8.12zM127.07 102.26h8.12v1.06h-8.12zM86.7 103.27h8.12v1.06h-8.12zM119 103.27h8.12v1.06h-8.12zM232.05 103.27h8.12v1.06h-8.12zM110.92 104.28h8.12v1.06h-8.12zM199.75 104.28h8.12v1.06h-8.12zM240.12 104.28h8.12v1.06h-8.12zM78.62 105.29h8.12v1.06h-8.12zM199.75 105.29h8.12v1.06h-8.12zM223.97 105.29h8.12v1.06h-8.12zM159.38 106.3h8.12v1.06h-8.12zM135.15 109.34h8.12v1.06h-8.12zM207.82 110.35h8.12v1.06h-8.12zM215.9 110.35h8.12v1.06h-8.12zM127.07 111.36h8.12v1.06h-8.12zM207.82 111.36h8.12v1.06h-8.12zM240.12 111.36h8.12v1.06h-8.12zM110.92 112.37h8.12v1.06h-8.12zM135.15 114.39h8.12v1.06h-8.12zM207.82 117.42h8.12v1.06h-8.12zM207.82 119.44h8.12v1.06h-8.12zM199.75 120.46h8.12v1.06h-8.12zM127.07 121.47h8.12v1.06h-8.12zM135.15 121.47h8.12v1.06h-8.12zM167.45 121.47h8.12v1.06h-8.12zM175.52 121.47h8.12v1.06h-8.12zM232.05 121.47h8.12v1.06h-8.12zM135.15 122.48h8.12v1.06h-8.12zM175.52 124.5h8.12v1.06h-8.12zM159.38 125.51h8.12v1.06h-8.12zM86.7 126.52h8.12v1.06h-8.12zM94.78 126.52h8.12v1.06h-8.12zM135.15 126.52h8.12v1.06h-8.12zM119 127.53h8.12v1.06h-8.12zM78.62 130.56h8.12v1.06h-8.12zM159.38 130.56h8.12v1.06h-8.12zM191.67 130.56h8.12v1.06h-8.12zM199.75 130.56h8.12v1.06h-8.12zM167.45 131.57h8.12v1.06h-8.12zM183.6 131.57h8.12v1.06h-8.12zM78.62 132.59h8.12v1.06h-8.12zM183.6 132.59h8.12v1.06h-8.12zM207.82 133.6h8.12v1.06h-8.12zM232.05 133.6h8.12v1.06h-8.12zM199.75 135.62h8.12v1.06h-8.12zM94.78 136.63h8.12v1.06h-8.12zM119 136.63h8.12v1.06h-8.12zM143.22 136.63h8.12v1.06h-8.12zM54.4 139.66h8.12v1.06h-8.12zM110.92 139.66h8.12v1.06h-8.12zM167.45 139.66h8.12v1.06h-8.12zM191.67 140.67h8.12v1.06h-8.12zM167.45 141.68h8.12v1.06h-8.12zM207.82 142.69h8.12v1.06h-8.12zM175.52 143.7h8.12v1.06h-8.12zM207.82 143.7h8.12v1.06h-8.12zM223.97 143.7h8.12v1.06h-8.12zM54.4 144.72h8.12v1.06h-8.12zM102.85 144.72h8.12v1.06h-8.12zM110.92 144.72h8.12v1.06h-8.12zM199.75 144.72h8.12v1.06h-8.12zM232.05 144.72h8.12v1.06h-8.12zM94.78 145.73h8.12v1.06h-8.12zM110.92 145.73h8.12v1.06h-8.12zM232.05 146.74h8.12v1.06h-8.12zM240.12 146.74h8.12v1.06h-8.12zM127.07 147.75h8.12v1.06h-8.12zM151.3 148.76h8.12v1.06h-8.12zM159.38 148.76h8.12v1.06h-8.12zM223.97 148.76h8.12v1.06h-8.12zM62.47 149.77h8.12v1.06h-8.12zM151.3 149.77h8.12v1.06h-8.12zM175.52 149.77h8.12v1.06h-8.12zM240.12 149.77h8.12v1.06h-8.12zM207.82 150.78h8.12v1.06h-8.12zM215.9 150.78h8.12v1.06h-8.12zM240.12 150.78h8.12v1.06h-8.12zM62.47 152.8h8.12v1.06h-8.12zM199.75 154.82h8.12v1.06h-8.12zM207.82 155.83h8.12v1.06h-8.12zM135.15 157.86h8.12v1.06h-8.12zM167.45 159.88h8.12v1.06h-8.12zM199.75 159.88h8.12v1.06h-8.12zM119 161.9h8.12v1.06h-8.12zM207.82 161.9h8.12v1.06h-8.12zM86.7 162.91h8.12v1.06h-8.12zM94.78 162.91h8.12v1.06h-8.12zM199.75 162.91h8.12v1.06h-8.12zM94.78 163.92h8.12v1.06h-8.12zM191.67 163.92h8.12v1.06h-8.12zM86.7 164.93h8.12v1.06h-8.12zM159.38 164.93h8.12v1.06h-8.12zM240.12 164.93h8.12v1.06h-8.12zM159.38 165.94h8.12v1.06h-8.12zM175.52 165.94h8.12v1.06h-8.12zM240.12 165.94h8.12v1.06h-8.12zM175.52 172.01h8.12v1.06h-8.12zM240.12 172.01h8.12v1.06h-8.12zM199.75 173.02h8.12v1.06h-8.12zM215.9 174.03h8.12v1.06h-8.12zM191.67 175.04h8.12v1.06h-8.12zM207.82 176.05h8.12v1.06h-8.12zM199.75 177.06h8.12v1.06h-8.12zM199.75 178.07h8.12v1.06h-8.12zM240.12 179.08h8.12v1.06h-8.12zM94.78 181.11h8.12v1.06h-8.12zM102.85 181.11h8.12v1.06h-8.12zM119 181.11h8.12v1.06h-8.12zM127.07 182.12h8.12v1.06h-8.12zM86.7 183.13h8.12v1.06h-8.12zM94.78 183.13h8.12v1.06h-8.12zM135.15 183.13h8.12v1.06h-8.12zM159.38 183.13h8.12v1.06h-8.12zM175.52 183.13h8.12v1.06h-8.12zM240.12 183.13h8.12v1.06h-8.12zM127.07 184.14h8.12v1.06h-8.12zM143.22 184.14h8.12v1.06h-8.12zM167.45 184.14h8.12v1.06h-8.12zM143.22 187.17h8.12v1.06h-8.12zM127.07 189.19h8.12v1.06h-8.12zM159.38 190.2h8.12v1.06h-8.12zM175.52 190.2h8.12v1.06h-8.12zM199.75 190.2h8.12v1.06h-8.12zM143.22 191.21h8.12v1.06h-8.12zM167.45 191.21h8.12v1.06h-8.12zM175.52 191.21h8.12v1.06h-8.12zM143.22 192.22h8.12v1.06h-8.12zM151.3 192.22h8.12v1.06h-8.12zM240.12 192.22h8.12v1.06h-8.12zM232.05 195.26h8.12v1.06h-8.12zM240.12 195.26h8.12v1.06h-8.12zM127.07 196.27h8.12v1.06h-8.12zM159.38 197.28h8.12v1.06h-8.12zM240.12 197.28h8.12v1.06h-8.12zM207.82 198.29h8.12v1.06h-8.12zM240.12 198.29h8.12v1.06h-8.12z"/>
<path fill="#7ebad8" d="M183.6 79.01h8.12v1.06h-8.12zM143.22 88.11h8.12v1.06h-8.12zM215.9 98.22h8.12v1.06h-8.12zM159.38 109.34h8.12v1.06h-8.12zM199.75 138.65h8.12v1.06h-8.12zM143.22 142.69h8.12v1.06h-8.12zM151.3 153.81h8.12v1.06h-8.12z"/>
<path fill="#c0deea" d="M191.67 79.01h8.12v1.06h-8.12zM54.4 81.03h8.12v1.06h-8.12zM102.85 89.12h8.12v1.06h-8.12zM151.3 92.15h8.12v1.06h-8.12zM159.38 94.17h8.12v1.06h-8.12zM119 95.18h8.12v1.06h-8.12zM94.78 96.2h8.12v1.06h-8.12zM119 96.2h8.12v1.06h-8.12zM159.38 96.2h8.12v1.06h-8.12zM143.22 97.21h8.12v1.06h-8.12zM159.38 97.21h8.12v1.06h-8.12zM183.6 105.29h8.12v1.06h-8.12zM215.9 109.34h8.12v1.06h-8.12zM143.22 121.47h8.12v1.06h-8.12zM159.38 123.49h8.12v1.06h-8.12zM86.7 127.53h8.12v1.06h-8.12zM143.22 130.56h8.12v1.06h-8.12zM54.4 131.57h8.12v1.06h-8.12zM191.67 135.62h8.12v1.06h-8.12zM127.07 139.66h8.12v1.06h-8.12zM143.22 139.66h8.12v1.06h-8.12zM86.7 140.67h8.12v1.06h-8.12zM151.3 144.72h8.12v1.06h-8.12zM223.97 144.72h8.12v1.06h-8.12zM143.22 152.8h8.12v1.06h-8.12zM223.97 165.94h8.12v1.06h-8.12zM54.4 166.95h8.12v1.06h-8.12zM207.82 182.12h8.12v1.06h-8.12zM223.97 183.13h8.12v1.06h-8.12zM207.82 187.17h8.12v1.06h-8.12zM167.45 193.24h8.12v1.06h-8.12zM199.75 195.26h8.12v1.06h-8.12zM223.97 195.26h8.12v1.06h-8.12z"/>
<path fill="#f6f0f0" d="M199.75 79.01h8.12v1.06h-8.12zM207.82 82.04h8.12v1.06h-8.12zM199.75 83.05h8.12v1.06h-8.12zM159.38 84.06h8.12v1.06h-8.12zM207.82 84.06h8.12v1.06h-8.12zM232.05 85.08h8.12v1.06h-8.12zM199.75 86.09h8.12v1.06h-8.12zM215.9 86.09h8.12v1.06h-8.12zM223.97 86.09h8.12v1.06h-8.12zM86.7 88.11h8.12v1.06h-8.12zM127.07 88.11h8.12v1.06h-8.12zM159.38 88.11h8.12v1.06h-8.12zM199.75 89.12h8.12v1.06h-8.12zM199.75 91.14h8.12v1.06h-8.12zM199.75 92.15h8.12v1.06h-8.12zM102.85 93.16h8.12v1.06h-8.12zM167.45 93.16h8.12v1.06h-8.12zM86.7 95.18h8.12v1.06h-8.12zM102.85 96.2h8.12v1.06h-8.12zM207.82 97.21h8.12v1.06h-8.12zM127.07 98.22h8.12v1.06h-8.12zM159.38 100.24h8.12v1.06h-8.12zM191.67 100.24h8.12v1.06h-8.12zM191.67 103.27h8.12v1.06h-8.12zM207.82 103.27h8.12v1.06h-8.12zM102.85 104.28h8.12v1.06h-8.12zM70.55 105.29h8.12v1.06h-8.12zM215.9 106.3h8.12v1.06h-8.12zM127.07 107.31h8.12v1.06h-8.12zM110.92 108.33h8.12v1.06h-8.12zM151.3 108.33h8.12v1.06h-8.12zM175.52 108.33h8.12v1.06h-8.12zM110.92 109.34h8.12v1.06h-8.12zM223.97 111.36h8.12v1.06h-8.12zM110.92 113.38h8.12v1.06h-8.12zM240.12 114.39h8.12v1.06h-8.12zM175.52 115.4h8.12v1.06h-8.12zM207.82 115.4h8.12v1.06h-8.12zM215.9 116.41h8.12v1.06h-8.12zM167.45 117.42h8.12v1.06h-8.12zM62.47 122.48h8.12v1.06h-8.12zM78.62 123.49h8.12v1.06h-8.12zM110.92 123.49h8.12v1.06h-8.12zM191.67 125.51h8.12v1.06h-8.12zM191.67 127.53h8.12v1.06h-8.12zM223.97 129.55h8.12v1.06h-8.12zM175.52 130.56h8.12v1.06h-8.12zM223.97 131.57h8.12v1.06h-8.12zM127.07 132.59h8.12v1.06h-8.12zM167.45 132.59h8.12v1.06h-8.12zM223.97 132.59h8.12v1.06h-8.12zM167.45 133.6h8.12v1.06h-8.12zM102.85 134.61h8.12v1.06h-8.12zM119 134.61h8.12v1.06h-8.12zM143.22 135.62h8.12v1.06h-8.12zM86.7 136.63h8.12v1.06h-8.12zM159.38 136.63h8.12v1.06h-8.12zM207.82 137.64h8.12v1.06h-8.12zM110.92 138.65h8.12v1.06h-8.12zM223.97 138.65h8.12v1.06h-8.12zM86.7 139.66h8.12v1.06h-8.12zM135.15 139.66h8.12v1.06h-8.12zM167.45 140.67h8.12v1.06h-8.12zM159.38 141.68h8.12v1.06h-8.12zM191.67 142.69h8.12v1.06h-8.12zM199.75 142.69h8.12v1.06h-8.12zM78.62 143.7h8.12v1.06h-8.12zM135.15 146.74h8.12v1.06h-8.12zM127.07 149.77h8.12v1.06h-8.12zM159.38 149.77h8.12v1.06h-8.12zM191.67 150.78h8.12v1.06h-8.12zM175.52 155.83h8.12v1.06h-8.12zM127.07 157.86h8.12v1.06h-8.12zM94.78 158.87h8.12v1.06h-8.12zM86.7 161.9h8.12v1.06h-8.12zM119 162.91h8.12v1.06h-8.12zM143.22 162.91h8.12v1.06h-8.12zM223.97 162.91h8.12v1.06h-8.12zM199.75 165.94h8.12v1.06h-8.12zM151.3 172.01h8.12v1.06h-8.12zM94.78 173.02h8.12v1.06h-8.12zM159.38 174.03h8.12v1.06h-8.12zM223.97 174.03h8.12v1.06h-8.12zM110.92 178.07h8.12v1.06h-8.12zM119 178.07h8.12v1.06h-8.12zM86.7 179.08h8.12v1.06h-8.12zM110.92 183.13h8.12v1.06h-8.12zM175.52 185.15h8.12v1.06h-8.12zM86.7 186.16h8.12v1.06h-8.12zM183.6 187.17h8.12v1.06h-8.12zM175.52 188.18h8.12v1.06h-8.12zM94.78 189.19h8.12v1.06h-8.12zM167.45 189.19h8.12v1.06h-8.12zM159.38 191.21h8.12v1.06h-8.12zM159.38 192.22h8.12v1.06h-8.12zM183.6 192.22h8.12v1.06h-8.12zM86.7 196.27h8.12v1.06h-8.12zM102.85 196.27h8.12v1.06h-8.12zM167.45 198.29h8.12v1.06h-8.12z"/>
<path fill="#fce4d8" d="M240.12 79.01h8.12v1.06h-8.12zM127.07 80.02h8.12v1.06h-8.12zM207.82 80.02h8.12v1.06h-8.12zM119 81.03h8.12v1.06h-8.12zM127.07 81.03h8.12v1.06h-8.12zM183.6 81.03h8.12v1.06h-8.12zM159.38 83.05h8.12v1.06h-8.12zM167.45 83.05h8.12v1.06h-8.12zM191.67 83.05h8.12v1.06h-8.12zM62.47 84.06h8.12v1.06h-8.12zM62.47 85.08h8.12v1.06h-8.12zM110.92 85.08h8.12v1.06h-8.12zM151.3 86.09h8.12v1.06h-8.12zM183.6 86.09h8.12v1.06h-8.12zM94.78 87.1h8.12v1.06h-8.12zM102.85 87.1h8.12v1.06h-8.12zM151.3 87.1h8.12v1.06h-8.12zM175.52 88.11h8.12v1.06h-8.12zM232.05 88.11h8.12v1.06h-8.12zM199.75 90.13h8.12v1.06h-8.12zM207.82 90.13h8.12v1.06h-8.12zM215.9 90.13h8.12v1.06h-8.12zM223.97 90.13h8.12v1.06h-8.12zM167.45 91.14h8.12v1.06h-8.12zM191.67 91.14h8.12v1.06h-8.12zM70.55 92.15h8.12v1.06h-8.12zM223.97 92.15h8.12v1.06h-8.12zM175.52 93.16h8.12v1.06h-8.12zM175.52 94.17h8.12v1.06h-8.12zM223.97 94.17h8.12v1.06h-8.12zM54.4 96.2h8.12v1.06h-8.12zM143.22 96.2h8.12v1.06h-8.12zM151.3 96.2h8.12v1.06h-8.12zM199.75 96.2h8.12v1.06h-8.12zM119 99.23h8.12v1.06h-8.12zM135.15 99.23h8.12v1.06h-8.12zM223.97 99.23h8.12v1.06h-8.12zM135.15 100.24h8.12v1.06h-8.12zM151.3 100.24h8.12v1.06h-8.12zM199.75 100.24h8.12v1.06h-8.12zM119 101.25h8.12v1.06h-8.12zM135.15 102.26h8.12v1.06h-8.12zM54.4 104.28h8.12v1.06h-8.12zM110.92 106.3h8.12v1.06h-8.12zM191.67 106.3h8.12v1.06h-8.12zM78.62 107.31h8.12v1.06h-8.12zM110.92 107.31h8.12v1.06h-8.12zM199.75 107.31h8.12v1.06h-8.12zM127.07 109.34h8.12v1.06h-8.12zM167.45 109.34h8.12v1.06h-8.12zM191.67 109.34h8.12v1.06h-8.12zM135.15 110.35h8.12v1.06h-8.12zM135.15 112.37h8.12v1.06h-8.12zM127.07 113.38h8.12v1.06h-8.12zM232.05 113.38h8.12v1.06h-8.12zM151.3 114.39h8.12v1.06h-8.12zM151.3 116.41h8.12v1.06h-8.12zM167.45 116.41h8.12v1.06h-8.12zM215.9 118.43h8.12v1.06h-8.12zM232.05 118.43h8.12v1.06h-8.12zM143.22 119.44h8.12v1.06h-8.12zM167.45 119.44h8.12v1.06h-8.12zM54.4 121.47h8.12v1.06h-8.12zM135.15 123.49h8.12v1.06h-8.12zM151.3 125.51h8.12v1.06h-8.12zM167.45 125.51h8.12v1.06h-8.12zM175.52 125.51h8.12v1.06h-8.12zM207.82 126.52h8.12v1.06h-8.12zM232.05 126.52h8.12v1.06h-8.12zM102.85 127.53h8.12v1.06h-8.12zM127.07 127.53h8.12v1.06h-8.12zM151.3 127.53h8.12v1.06h-8.12zM119 128.54h8.12v1.06h-8.12zM159.38 128.54h8.12v1.06h-8.12zM175.52 128.54h8.12v1.06h-8.12zM119 130.56h8.12v1.06h-8.12zM127.07 130.56h8.12v1.06h-8.12zM127.07 131.57h8.12v1.06h-8.12zM70.55 132.59h8.12v1.06h-8.12zM110.92 132.59h8.12v1.06h-8.12zM199.75 132.59h8.12v1.06h-8.12zM110.92 133.6h8.12v1.06h-8.12zM86.7 135.62h8.12v1.06h-8.12zM102.85 135.62h8.12v1.06h-8.12zM70.55 138.65h8.12v1.06h-8.12zM232.05 138.65h8.12v1.06h-8.12zM62.47 139.66h8.12v1.06h-8.12zM70.55 139.66h8.12v1.06h-8.12zM94.78 140.67h8.12v1.06h-8.12zM135.15 140.67h8.12v1.06h-8.12zM151.3 143.7h8.12v1.06h-8.12zM62.47 145.73h8.12v1.06h-8.12zM54.4 146.74h8.12v1.06h-8.12zM78.62 146.74h8.12v1.06h-8.12zM94.78 147.75h8.12v1.06h-8.12zM94.78 148.76h8.12v1.06h-8.12zM127.07 148.76h8.12v1.06h-8.12zM135.15 149.77h8.12v1.06h-8.12zM183.6 151.79h8.12v1.06h-8.12zM127.07 154.82h8.12v1.06h-8.12zM94.78 156.85h8.12v1.06h-8.12zM62.47 158.87h8.12v1.06h-8.12zM110.92 158.87h8.12v1.06h-8.12zM175.52 158.87h8.12v1.06h-8.12zM215.9 158.87h8.12v1.06h-8.12zM223.97 158.87h8.12v1.06h-8.12zM119 160.89h8.12v1.06h-8.12zM143.22 160.89h8.12v1.06h-8.12zM70.55 161.9h8.12v1.06h-8.12zM143.22 161.9h8.12v1.06h-8.12zM78.62 162.91h8.12v1.06h-8.12zM102.85 163.92h8.12v1.06h-8.12zM167.45 163.92h8.12v1.06h-8.12zM110.92 164.93h8.12v1.06h-8.12zM191.67 164.93h8.12v1.06h-8.12zM135.15 166.95h8.12v1.06h-8.12zM191.67 166.95h8.12v1.06h-8.12zM175.52 167.96h8.12v1.06h-8.12zM86.7 168.98h8.12v1.06h-8.12zM127.07 168.98h8.12v1.06h-8.12zM183.6 168.98h8.12v1.06h-8.12zM151.3 169.99h8.12v1.06h-8.12zM175.52 169.99h8.12v1.06h-8.12zM240.12 169.99h8.12v1.06h-8.12zM119 171h8.12v1.06h-8.12zM240.12 171h8.12v1.06h-8.12zM232.05 172.01h8.12v1.06h-8.12zM110.92 173.02h8.12v1.06h-8.12zM127.07 173.02h8.12v1.06h-8.12zM119 174.03h8.12v1.06h-8.12zM191.67 174.03h8.12v1.06h-8.12zM167.45 176.05h8.12v1.06h-8.12zM86.7 177.06h8.12v1.06h-8.12zM232.05 178.07h8.12v1.06h-8.12zM119 180.09h8.12v1.06h-8.12zM54.4 181.11h8.12v1.06h-8.12zM86.7 181.11h8.12v1.06h-8.12zM62.47 182.12h8.12v1.06h-8.12zM86.7 182.12h8.12v1.06h-8.12zM240.12 185.15h8.12v1.06h-8.12zM119 190.2h8.12v1.06h-8.12zM119 192.22h8.12v1.06h-8.12zM62.47 193.24h8.12v1.06h-8.12zM119 193.24h8.12v1.06h-8.12zM135.15 193.24h8.12v1.06h-8.12zM102.85 195.26h8.12v1.06h-8.12zM119 195.26h8.12v1.06h-8.12zM54.4 196.27h8.12v1.06h-8.12z"/>
<path fill="#4e9cc6" d="M54.4 80.02h8.12v1.06h-8.12zM175.52 100.24h8.12v1.06h-8.12zM183.6 112.37h8.12v1.06h-8.12zM119 146.74h8.12v1.06h-8.12zM167.45 153.81h8.12v1.06h-8.12zM199.75 174.03h8.12v1.06h-8.12z"/>
<path fill="#f6ba9c" d="M62.47 80.02h8.12v1.06h-8.12zM135.15 80.02h8.12v1.06h-8.12zM62.47 83.05h8.12v1.06h-8.12zM240.12 83.05h8.12v1.06h-8.12zM54.4 86.09h8.12v1.06h-8.12zM70.55 99.23h8.12v1.06h-8.12zM232.05 99.23h8.12v1.06h-8.12zM110.92 102.26h8.12v1.06h-8.12zM70.55 111.36h8.12v1.06h-8.12zM70.55 115.4h8.12v1.06h-8.12zM110.92 115.4h8.12v1.06h-8.12zM54.4 120.46h8.12v1.06h-8.12zM78.62 120.46h8.12v1.06h-8.12zM102.85 120.46h8.12v1.06h-8.12zM199.75 126.52h8.12v1.06h-8.12zM102.85 128.54h8.12v1.06h-8.12zM135.15 135.62h8.12v1.06h-8.12zM232.05 135.62h8.12v1.06h-8.12zM62.47 140.67h8.12v1.06h-8.12zM78.62 141.68h8.12v1.06h-8.12zM110.92 141.68h8.12v1.06h-8.12zM119 141.68h8.12v1.06h-8.12zM70.55 153.81h8.12v1.06h-8.12zM110.92 153.81h8.12v1.06h-8.12zM62.47 155.83h8.12v1.06h-8.12zM110.92 155.83h8.12v1.06h-8.12zM191.67 157.86h8.12v1.06h-8.12zM70.55 159.88h8.12v1.06h-8.12zM78.62 172.01h8.12v1.06h-8.12zM62.47 173.02h8.12v1.06h-8.12zM223.97 175.04h8.12v1.06h-8.12zM54.4 176.05h8.12v1.06h-8.12zM78.62 177.06h8.12v1.06h-8.12zM70.55 187.17h8.12v1.06h-8.12zM78.62 187.17h8.12v1.06h-8.12z"/>
<path fill="#78b4d8" d="M86.7 80.02h8.12v1.06h-8.12zM215.9 139.66h8.12v1.06h-8.12zM215.9 140.67h8.12v1.06h-8.12zM151.3 161.9h8.12v1.06h-8.12zM240.12 174.03h8.12v1.06h-8.12z"/>
<path fill="#fceae4" d="M94.78 80.02h8.12v1.06h-8.12zM191.67 80.02h8.12v1.06h-8.12zM94.78 81.03h8.12v1.06h-8.12zM207.82 81.03h8.12v1.06h-8.12zM223.97 82.04h8.12v1.06h-8.12zM232.05 82.04h8.12v1.06h-8.12zM94.78 83.05h8.12v1.06h-8.12zM94.78 84.06h8.12v1.06h-8.12zM175.52 84.06h8.12v1.06h-8.12zM135.15 85.08h8.12v1.06h-8.12zM159.38 87.1h8.12v1.06h-8.12zM110.92 88.11h8.12v1.06h-8.12zM207.82 88.11h8.12v1.06h-8.12zM94.78 89.12h8.12v1.06h-8.12zM215.9 89.12h8.12v1.06h-8.12zM127.07 90.13h8.12v1.06h-8.12zM102.85 91.14h8.12v1.06h-8.12zM175.52 91.14h8.12v1.06h-8.12zM207.82 91.14h8.12v1.06h-8.12zM167.45 92.15h8.12v1.06h-8.12zM215.9 92.15h8.12v1.06h-8.12zM207.82 93.16h8.12v1.06h-8.12zM159.38 95.18h8.12v1.06h-8.12zM215.9 95.18h8.12v1.06h-8.12zM223.97 95.18h8.12v1.06h-8.12zM135.15 96.2h8.12v1.06h-8.12zM86.7 97.21h8.12v1.06h-8.12zM127.07 97.21h8.12v1.06h-8.12zM135.15 98.22h8.12v1.06h-8.12zM223.97 98.22h8.12v1.06h-8.12zM94.78 99.23h8.12v1.06h-8.12zM127.07 99.23h8.12v1.06h-8.12zM119 100.24h8.12v1.06h-8.12zM127.07 100.24h8.12v1.06h-8.12zM135.15 101.25h8.12v1.06h-8.12zM143.22 102.26h8.12v1.06h-8.12zM151.3 102.26h8.12v1.06h-8.12zM223.97 102.26h8.12v1.06h-8.12zM62.47 103.27h8.12v1.06h-8.12zM127.07 103.27h8.12v1.06h-8.12zM191.67 104.28h8.12v1.06h-8.12zM232.05 105.29h8.12v1.06h-8.12zM240.12 105.29h8.12v1.06h-8.12zM94.78 106.3h8.12v1.06h-8.12zM175.52 106.3h8.12v1.06h-8.12zM54.4 107.31h8.12v1.06h-8.12zM62.47 107.31h8.12v1.06h-8.12zM159.38 107.31h8.12v1.06h-8.12zM175.52 107.31h8.12v1.06h-8.12zM240.12 107.31h8.12v1.06h-8.12zM94.78 108.33h8.12v1.06h-8.12zM240.12 108.33h8.12v1.06h-8.12zM240.12 109.34h8.12v1.06h-8.12zM191.67 110.35h8.12v1.06h-8.12zM135.15 111.36h8.12v1.06h-8.12zM94.78 112.37h8.12v1.06h-8.12zM94.78 113.38h8.12v1.06h-8.12zM102.85 114.39h8.12v1.06h-8.12zM159.38 115.4h8.12v1.06h-8.12zM151.3 117.42h8.12v1.06h-8.12zM135.15 118.43h8.12v1.06h-8.12zM175.52 118.43h8.12v1.06h-8.12zM175.52 119.44h8.12v1.06h-8.12zM78.62 121.47h8.12v1.06h-8.12zM127.07 124.5h8.12v1.06h-8.12zM167.45 124.5h8.12v1.06h-8.12zM183.6 124.5h8.12v1.06h-8.12zM232.05 124.5h8.12v1.06h-8.12zM191.67 126.52h8.12v1.06h-8.12zM94.78 127.53h8.12v1.06h-8.12zM199.75 127.53h8.12v1.06h-8.12zM151.3 129.55h8.12v1.06h-8.12zM159.38 129.55h8.12v1.06h-8.12zM215.9 129.55h8.12v1.06h-8.12zM151.3 130.56h8.12v1.06h-8.12zM119 132.59h8.12v1.06h-8.12zM70.55 133.6h8.12v1.06h-8.12zM119 133.6h8.12v1.06h-8.12zM70.55 136.63h8.12v1.06h-8.12zM223.97 136.63h8.12v1.06h-8.12zM94.78 138.65h8.12v1.06h-8.12zM151.3 138.65h8.12v1.06h-8.12zM175.52 141.68h8.12v1.06h-8.12zM191.67 141.68h8.12v1.06h-8.12zM223.97 141.68h8.12v1.06h-8.12zM232.05 142.69h8.12v1.06h-8.12zM240.12 142.69h8.12v1.06h-8.12zM143.22 143.7h8.12v1.06h-8.12zM240.12 143.7h8.12v1.06h-8.12zM143.22 144.72h8.12v1.06h-8.12zM240.12 145.73h8.12v1.06h-8.12zM86.7 146.74h8.12v1.06h-8.12zM86.7 147.75h8.12v1.06h-8.12zM183.6 148.76h8.12v1.06h-8.12zM86.7 149.77h8.12v1.06h-8.12zM110.92 152.8h8.12v1.06h-8.12zM207.82 154.82h8.12v1.06h-8.12zM119 155.83h8.12v1.06h-8.12zM199.75 155.83h8.12v1.06h-8.12zM110.92 157.86h8.12v1.06h-8.12zM127.07 158.87h8.12v1.06h-8.12zM167.45 158.87h8.12v1.06h-8.12zM223.97 160.89h8.12v1.06h-8.12zM86.7 163.92h8.12v1.06h-8.12zM191.67 165.94h8.12v1.06h-8.12zM199.75 166.95h8.12v1.06h-8.12zM191.67 167.96h8.12v1.06h-8.12zM199.75 167.96h8.12v1.06h-8.12zM240.12 167.96h8.12v1.06h-8.12zM167.45 168.98h8.12v1.06h-8.12zM199.75 168.98h8.12v1.06h-8.12zM127.07 169.99h8.12v1.06h-8.12zM159.38 169.99h8.12v1.06h-8.12zM191.67 169.99h8.12v1.06h-8.12zM94.78 172.01h8.12v1.06h-8.12zM86.7 173.02h8.12v1.06h-8.12zM102.85 174.03h8.12v1.06h-8.12zM175.52 174.03h8.12v1.06h-8.12zM167.45 175.04h8.12v1.06h-8.12zM191.67 176.05h8.12v1.06h-8.12zM215.9 176.05h8.12v1.06h-8.12zM110.92 177.06h8.12v1.06h-8.12zM135.15 177.06h8.12v1.06h-8.12zM232.05 177.06h8.12v1.06h-8.12zM102.85 178.07h8.12v1.06h-8.12zM127.07 178.07h8.12v1.06h-8.12zM102.85 179.08h8.12v1.06h-8.12zM135.15 184.14h8.12v1.06h-8.12zM143.22 185.15h8.12v1.06h-8.12zM127.07 186.16h8.12v1.06h-8.12zM167.45 186.16h8.12v1.06h-8.12zM240.12 186.16h8.12v1.06h-8.12zM110.92 189.19h8.12v1.06h-8.12zM207.82 190.2h8.12v1.06h-8.12zM127.07 191.21h8.12v1.06h-8.12zM127.07 192.22h8.12v1.06h-8.12zM119 194.25h8.12v1.06h-8.12zM232.05 196.27h8.12v1.06h-8.12zM119 197.28h8.12v1.06h-8.12zM223.97 197.28h8.12v1.06h-8.12zM191.67 198.29h8.12v1.06h-8.12zM223.97 198.29h8.12v1.06h-8.12z"/>
<path fill="#96c6de" d="M143.22 80.02h8.12v1.06h-8.12zM143.22 87.1h8.12v1.06h-8.12zM143.22 89.12h8.12v1.06h-8.12zM143.22 90.13h8.12v1.06h-8.12zM215.9 99.23h8.12v1.06h-8.12zM223.97 107.31h8.12v1.06h-8.12zM151.3 110.35h8.12v1.06h-8.12zM167.45 126.52h8.12v1.06h-8.12zM86.7 128.54h8.12v1.06h-8.12zM135.15 131.57h8.12v1.06h-8.12zM175.52 131.57h8.12v1.06h-8.12zM143.22 154.82h8.12v1.06h-8.12zM151.3 176.05h8.12v1.06h-8.12zM159.38 181.11h8.12v1.06h-8.12zM175.52 181.11h8.12v1.06h-8.12zM143.22 196.27h8.12v1.06h-8.12z"/>
<path fill="#f6f6f0" d="M159.38 80.02h8.12v1.06h-8.12zM223.97 81.03h8.12v1.06h-8.12zM135.15 88.11h8.12v1.06h-8.12zM167.45 89.12h8.12v1.06h-8.12zM175.52 90.13h8.12v1.06h-8.12zM215.9 91.14h8.12v1.06h-8.12zM232.05 93.16h8.12v1.06h-8.12zM232.05 95.18h8.12v1.06h-8.12zM232.05 96.2h8.12v1.06h-8.12zM151.3 97.21h8.12v1.06h-8.12zM207.82 100.24h8.12v1.06h-8.12zM159.38 102.26h8.12v1.06h-8.12zM70.55 104.28h8.12v1.06h-8.12zM78.62 104.28h8.12v1.06h-8.12zM94.78 104.28h8.12v1.06h-8.12zM167.45 106.3h8.12v1.06h-8.12zM223.97 108.33h8.12v1.06h-8.12zM232.05 109.34h8.12v1.06h-8.12zM167.45 110.35h8.12v1.06h-8.12zM94.78 111.36h8.12v1.06h-8.12zM207.82 114.39h8.12v1.06h-8.12zM175.52 117.42h8.12v1.06h-8.12zM223.97 117.42h8.12v1.06h-8.12zM151.3 120.46h8.12v1.06h-8.12zM223.97 120.46h8.12v1.06h-8.12zM110.92 121.47h8.12v1.06h-8.12zM110.92 122.48h8.12v1.06h-8.12zM159.38 124.5h8.12v1.06h-8.12zM232.05 127.53h8.12v1.06h-8.12zM86.7 132.59h8.12v1.06h-8.12zM94.78 133.6h8.12v1.06h-8.12zM167.45 136.63h8.12v1.06h-8.12zM143.22 137.64h8.12v1.06h-8.12zM191.67 137.64h8.12v1.06h-8.12zM127.07 138.65h8.12v1.06h-8.12zM183.6 141.68h8.12v1.06h-8.12zM191.67 146.74h8.12v1.06h-8.12zM183.6 149.77h8.12v1.06h-8.12zM215.9 151.79h8.12v1.06h-8.12zM86.7 152.8h8.12v1.06h-8.12zM135.15 152.8h8.12v1.06h-8.12zM119 154.82h8.12v1.06h-8.12zM78.62 157.86h8.12v1.06h-8.12zM223.97 159.88h8.12v1.06h-8.12zM78.62 161.9h8.12v1.06h-8.12zM127.07 163.92h8.12v1.06h-8.12zM199.75 164.93h8.12v1.06h-8.12zM183.6 165.94h8.12v1.06h-8.12zM223.97 169.99h8.12v1.06h-8.12zM143.22 171h8.12v1.06h-8.12zM119 173.02h8.12v1.06h-8.12zM127.07 177.06h8.12v1.06h-8.12zM240.12 177.06h8.12v1.06h-8.12zM167.45 179.08h8.12v1.06h-8.12zM119 184.14h8.12v1.06h-8.12zM175.52 184.14h8.12v1.06h-8.12zM223.97 185.15h8.12v1.06h-8.12zM199.75 186.16h8.12v1.06h-8.12zM119 188.18h8.12v1.06h-8.12zM151.3 191.21h8.12v1.06h-8.12zM127.07 197.28h8.12v1.06h-8.12zM191.67 197.28h8.12v1.06h-8.12z"/>
<path fill="#f6f0ea" d="M199.75 80.02h8.12v1.06h-8.12zM110.92 82.04h8.12v1.06h-8.12zM199.75 82.04h8.12v1.06h-8.12zM119 83.05h8.12v1.06h-8.12zM215.9 83.05h8.12v1.06h-8.12zM223.97 83.05h8.12v1.06h-8.12zM127.07 84.06h8.12v1.06h-8.12zM183.6 87.1h8.12v1.06h-8.12zM223.97 87.1h8.12v1.06h-8.12zM102.85 88.11h8.12v1.06h-8.12zM175.52 89.12h8.12v1.06h-8.12zM86.7 90.13h8.12v1.06h-8.12zM110.92 90.13h8.12v1.06h-8.12zM135.15 90.13h8.12v1.06h-8.12zM127.07 91.14h8.12v1.06h-8.12zM159.38 91.14h8.12v1.06h-8.12zM78.62 92.15h8.12v1.06h-8.12zM183.6 92.15h8.12v1.06h-8.12zM54.4 93.16h8.12v1.06h-8.12zM110.92 93.16h8.12v1.06h-8.12zM183.6 93.16h8.12v1.06h-8.12zM215.9 93.16h8.12v1.06h-8.12zM167.45 94.17h8.12v1.06h-8.12zM94.78 98.22h8.12v1.06h-8.12zM167.45 99.23h8.12v1.06h-8.12zM102.85 100.24h8.12v1.06h-8.12zM215.9 100.24h8.12v1.06h-8.12zM86.7 102.26h8.12v1.06h-8.12zM78.62 103.27h8.12v1.06h-8.12zM223.97 103.27h8.12v1.06h-8.12zM159.38 104.28h8.12v1.06h-8.12zM191.67 105.29h8.12v1.06h-8.12zM151.3 106.3h8.12v1.06h-8.12zM223.97 106.3h8.12v1.06h-8.12zM94.78 107.31h8.12v1.06h-8.12zM135.15 107.31h8.12v1.06h-8.12zM207.82 107.31h8.12v1.06h-8.12zM135.15 108.33h8.12v1.06h-8.12zM167.45 108.33h8.12v1.06h-8.12zM191.67 108.33h8.12v1.06h-8.12zM215.9 108.33h8.12v1.06h-8.12zM102.85 109.34h8.12v1.06h-8.12zM102.85 110.35h8.12v1.06h-8.12zM223.97 110.35h8.12v1.06h-8.12zM127.07 112.37h8.12v1.06h-8.12zM110.92 114.39h8.12v1.06h-8.12zM167.45 114.39h8.12v1.06h-8.12zM215.9 115.4h8.12v1.06h-8.12zM175.52 116.41h8.12v1.06h-8.12zM223.97 116.41h8.12v1.06h-8.12zM191.67 118.43h8.12v1.06h-8.12zM240.12 118.43h8.12v1.06h-8.12zM199.75 119.44h8.12v1.06h-8.12zM159.38 120.46h8.12v1.06h-8.12zM70.55 121.47h8.12v1.06h-8.12zM102.85 122.48h8.12v1.06h-8.12zM86.7 124.5h8.12v1.06h-8.12zM110.92 124.5h8.12v1.06h-8.12zM159.38 127.53h8.12v1.06h-8.12zM240.12 127.53h8.12v1.06h-8.12zM175.52 129.55h8.12v1.06h-8.12zM191.67 129.55h8.12v1.06h-8.12zM199.75 129.55h8.12v1.06h-8.12zM240.12 130.56h8.12v1.06h-8.12zM102.85 132.59h8.12v1.06h-8.12zM175.52 132.59h8.12v1.06h-8.12zM191.67 133.6h8.12v1.06h-8.12zM240.12 133.6h8.12v1.06h-8.12zM175.52 136.63h8.12v1.06h-8.12zM183.6 136.63h8.12v1.06h-8.12zM232.05 136.63h8.12v1.06h-8.12zM151.3 137.64h8.12v1.06h-8.12zM159.38 137.64h8.12v1.06h-8.12zM167.45 137.64h8.12v1.06h-8.12zM183.6 137.64h8.12v1.06h-8.12zM191.67 138.65h8.12v1.06h-8.12zM207.82 138.65h8.12v1.06h-8.12zM102.85 139.66h8.12v1.06h-8.12zM232.05 139.66h8.12v1.06h-8.12zM151.3 141.68h8.12v1.06h-8.12zM119 142.69h8.12v1.06h-8.12zM151.3 142.69h8.12v1.06h-8.12zM135.15 145.73h8.12v1.06h-8.12zM62.47 146.74h8.12v1.06h-8.12zM151.3 146.74h8.12v1.06h-8.12zM199.75 147.75h8.12v1.06h-8.12zM62.47 148.76h8.12v1.06h-8.12zM119 149.77h8.12v1.06h-8.12zM223.97 149.77h8.12v1.06h-8.12zM62.47 150.78h8.12v1.06h-8.12zM199.75 151.79h8.12v1.06h-8.12zM223.97 151.79h8.12v1.06h-8.12zM94.78 154.82h8.12v1.06h-8.12zM102.85 154.82h8.12v1.06h-8.12zM110.92 154.82h8.12v1.06h-8.12zM94.78 157.86h8.12v1.06h-8.12zM207.82 158.87h8.12v1.06h-8.12zM207.82 160.89h8.12v1.06h-8.12zM215.9 160.89h8.12v1.06h-8.12zM110.92 161.9h8.12v1.06h-8.12zM127.07 161.9h8.12v1.06h-8.12zM199.75 161.9h8.12v1.06h-8.12zM215.9 161.9h8.12v1.06h-8.12zM223.97 161.9h8.12v1.06h-8.12zM94.78 164.93h8.12v1.06h-8.12zM183.6 166.95h8.12v1.06h-8.12zM151.3 167.96h8.12v1.06h-8.12zM159.38 167.96h8.12v1.06h-8.12zM223.97 167.96h8.12v1.06h-8.12zM102.85 168.98h8.12v1.06h-8.12zM159.38 168.98h8.12v1.06h-8.12zM175.52 168.98h8.12v1.06h-8.12zM167.45 169.99h8.12v1.06h-8.12zM215.9 169.99h8.12v1.06h-8.12zM167.45 171h8.12v1.06h-8.12zM175.52 171h8.12v1.06h-8.12zM94.78 174.03h8.12v1.06h-8.12zM110.92 174.03h8.12v1.06h-8.12zM151.3 174.03h8.12v1.06h-8.12zM215.9 175.04h8.12v1.06h-8.12zM119 177.06h8.12v1.06h-8.12zM159.38 177.06h8.12v1.06h-8.12zM240.12 178.07h8.12v1.06h-8.12zM110.92 179.08h8.12v1.06h-8.12zM110.92 180.09h8.12v1.06h-8.12zM54.4 182.12h8.12v1.06h-8.12zM119 182.12h8.12v1.06h-8.12zM135.15 182.12h8.12v1.06h-8.12zM102.85 183.13h8.12v1.06h-8.12zM191.67 186.16h8.12v1.06h-8.12zM167.45 187.17h8.12v1.06h-8.12zM191.67 187.17h8.12v1.06h-8.12zM223.97 187.17h8.12v1.06h-8.12zM240.12 187.17h8.12v1.06h-8.12zM119 189.19h8.12v1.06h-8.12zM94.78 190.2h8.12v1.06h-8.12zM102.85 190.2h8.12v1.06h-8.12zM183.6 190.2h8.12v1.06h-8.12zM110.92 193.24h8.12v1.06h-8.12zM127.07 193.24h8.12v1.06h-8.12zM232.05 193.24h8.12v1.06h-8.12zM110.92 196.27h8.12v1.06h-8.12zM86.7 197.28h8.12v1.06h-8.12zM110.92 197.28h8.12v1.06h-8.12zM232.05 197.28h8.12v1.06h-8.12z"/>
<path fill="#eaf0f6" d="M215.9 80.02h8.12v1.06h-8.12zM191.67 82.04h8.12v1.06h-8.12zM175.52 83.05h8.12v1.06h-8.12zM199.75 84.06h8.12v1.06h-8.12zM94.78 85.08h8.12v1.06h-8.12zM175.52 85.08h8.12v1.06h-8.12zM143.22 86.09h8.12v1.06h-8.12zM127.07 89.12h8.12v1.06h-8.12zM70.55 93.16h8.12v1.06h-8.12zM78.62 93.16h8.12v1.06h-8.12zM175.52 97.21h8.12v1.06h-8.12zM223.97 97.21h8.12v1.06h-8.12zM143.22 103.27h8.12v1.06h-8.12zM159.38 103.27h8.12v1.06h-8.12zM127.07 104.28h8.12v1.06h-8.12zM135.15 104.28h8.12v1.06h-8.12zM183.6 104.28h8.12v1.06h-8.12zM54.4 105.29h8.12v1.06h-8.12zM110.92 105.29h8.12v1.06h-8.12zM183.6 108.33h8.12v1.06h-8.12zM94.78 110.35h8.12v1.06h-8.12zM191.67 111.36h8.12v1.06h-8.12zM199.75 112.37h8.12v1.06h-8.12zM223.97 112.37h8.12v1.06h-8.12zM240.12 112.37h8.12v1.06h-8.12zM119 113.38h8.12v1.06h-8.12zM175.52 113.38h8.12v1.06h-8.12zM199.75 113.38h8.12v1.06h-8.12zM207.82 113.38h8.12v1.06h-8.12zM159.38 117.42h8.12v1.06h-8.12zM159.38 119.44h8.12v1.06h-8.12zM151.3 121.47h8.12v1.06h-8.12zM159.38 121.47h8.12v1.06h-8.12zM127.07 122.48h8.12v1.06h-8.12zM232.05 122.48h8.12v1.06h-8.12zM151.3 123.49h8.12v1.06h-8.12zM78.62 129.55h8.12v1.06h-8.12zM207.82 129.55h8.12v1.06h-8.12zM167.45 130.56h8.12v1.06h-8.12zM207.82 130.56h8.12v1.06h-8.12zM199.75 131.57h8.12v1.06h-8.12zM232.05 132.59h8.12v1.06h-8.12zM135.15 133.6h8.12v1.06h-8.12zM78.62 134.61h8.12v1.06h-8.12zM191.67 134.61h8.12v1.06h-8.12zM151.3 135.62h8.12v1.06h-8.12zM159.38 135.62h8.12v1.06h-8.12zM167.45 135.62h8.12v1.06h-8.12zM159.38 138.65h8.12v1.06h-8.12zM240.12 140.67h8.12v1.06h-8.12zM110.92 143.7h8.12v1.06h-8.12zM167.45 143.7h8.12v1.06h-8.12zM183.6 143.7h8.12v1.06h-8.12zM127.07 144.72h8.12v1.06h-8.12zM159.38 144.72h8.12v1.06h-8.12zM167.45 144.72h8.12v1.06h-8.12zM175.52 144.72h8.12v1.06h-8.12zM183.6 144.72h8.12v1.06h-8.12zM191.67 144.72h8.12v1.06h-8.12zM143.22 145.73h8.12v1.06h-8.12zM151.3 145.73h8.12v1.06h-8.12zM167.45 146.74h8.12v1.06h-8.12zM199.75 146.74h8.12v1.06h-8.12zM207.82 146.74h8.12v1.06h-8.12zM215.9 146.74h8.12v1.06h-8.12zM223.97 146.74h8.12v1.06h-8.12zM223.97 147.75h8.12v1.06h-8.12zM207.82 148.76h8.12v1.06h-8.12zM175.52 150.78h8.12v1.06h-8.12zM215.9 155.83h8.12v1.06h-8.12zM119 157.86h8.12v1.06h-8.12zM223.97 157.86h8.12v1.06h-8.12zM102.85 158.87h8.12v1.06h-8.12zM167.45 160.89h8.12v1.06h-8.12zM127.07 162.91h8.12v1.06h-8.12zM151.3 162.91h8.12v1.06h-8.12zM159.38 162.91h8.12v1.06h-8.12zM183.6 162.91h8.12v1.06h-8.12zM151.3 164.93h8.12v1.06h-8.12zM175.52 164.93h8.12v1.06h-8.12zM143.22 169.99h8.12v1.06h-8.12zM215.9 171h8.12v1.06h-8.12zM159.38 172.01h8.12v1.06h-8.12zM167.45 173.02h8.12v1.06h-8.12zM183.6 173.02h8.12v1.06h-8.12zM207.82 173.02h8.12v1.06h-8.12zM159.38 176.05h8.12v1.06h-8.12zM207.82 177.06h8.12v1.06h-8.12zM151.3 178.07h8.12v1.06h-8.12zM135.15 179.08h8.12v1.06h-8.12zM159.38 180.09h8.12v1.06h-8.12zM240.12 180.09h8.12v1.06h-8.12zM199.75 181.11h8.12v1.06h-8.12zM223.97 181.11h8.12v1.06h-8.12zM94.78 182.12h8.12v1.06h-8.12zM199.75 182.12h8.12v1.06h-8.12zM223.97 182.12h8.12v1.06h-8.12zM119 183.13h8.12v1.06h-8.12zM151.3 183.13h8.12v1.06h-8.12zM191.67 184.14h8.12v1.06h-8.12zM151.3 185.15h8.12v1.06h-8.12zM167.45 185.15h8.12v1.06h-8.12zM183.6 185.15h8.12v1.06h-8.12zM223.97 188.18h8.12v1.06h-8.12zM151.3 189.19h8.12v1.06h-8.12zM167.45 190.2h8.12v1.06h-8.12zM183.6 191.21h8.12v1.06h-8.12zM191.67 191.21h8.12v1.06h-8.12zM207.82 191.21h8.12v1.06h-8.12zM167.45 192.22h8.12v1.06h-8.12zM199.75 192.22h8.12v1.06h-8.12zM240.12 193.24h8.12v1.06h-8.12zM143.22 194.25h8.12v1.06h-8.12zM240.12 194.25h8.12v1.06h-8.12zM151.3 195.26h8.12v1.06h-8.12zM183.6 196.27h8.12v1.06h-8.12zM199.75 196.27h8.12v1.06h-8.12zM240.12 196.27h8.12v1.06h-8.12zM151.3 198.29h8.12v1.06h-8.12zM159.38 198.29h8.12v1.06h-8.12zM175.52 198.29h8.12v1.06h-8.12zM183.6 198.29h8.12v1.06h-8.12zM199.75 198.29h8.12v1.06h-8.12z"/>
<path fill="#f0f6f6" d="M223.97 80.02h8.12v1.06h-8.12zM127.07 83.05h8.12v1.06h-8.12zM127.07 85.08h8.12v1.06h-8.12zM223.97 85.08h8.12v1.06h-8.12zM223.97 88.11h8.12v1.06h-8.12zM159.38 89.12h8.12v1.06h-8.12zM94.78 91.14h8.12v1.06h-8.12zM94.78 92.15h8.12v1.06h-8.12zM135.15 92.15h8.12v1.06h-8.12zM62.47 93.16h8.12v1.06h-8.12zM167.45 97.21h8.12v1.06h-8.12zM143.22 98.22h8.12v1.06h-8.12zM94.78 102.26h8.12v1.06h-8.12zM135.15 103.27h8.12v1.06h-8.12zM199.75 103.27h8.12v1.06h-8.12zM207.82 104.28h8.12v1.06h-8.12zM94.78 105.29h8.12v1.06h-8.12zM102.85 105.29h8.12v1.06h-8.12zM151.3 105.29h8.12v1.06h-8.12zM199.75 110.35h8.12v1.06h-8.12zM167.45 111.36h8.12v1.06h-8.12zM151.3 112.37h8.12v1.06h-8.12zM167.45 112.37h8.12v1.06h-8.12zM232.05 112.37h8.12v1.06h-8.12zM127.07 114.39h8.12v1.06h-8.12zM215.9 114.39h8.12v1.06h-8.12zM183.6 117.42h8.12v1.06h-8.12zM86.7 118.43h8.12v1.06h-8.12zM167.45 120.46h8.12v1.06h-8.12zM175.52 120.46h8.12v1.06h-8.12zM62.47 121.47h8.12v1.06h-8.12zM70.55 122.48h8.12v1.06h-8.12zM86.7 122.48h8.12v1.06h-8.12zM223.97 122.48h8.12v1.06h-8.12zM127.07 123.49h8.12v1.06h-8.12zM183.6 127.53h8.12v1.06h-8.12zM183.6 129.55h8.12v1.06h-8.12zM78.62 131.57h8.12v1.06h-8.12zM191.67 131.57h8.12v1.06h-8.12zM94.78 132.59h8.12v1.06h-8.12zM78.62 133.6h8.12v1.06h-8.12zM151.3 133.6h8.12v1.06h-8.12zM159.38 133.6h8.12v1.06h-8.12zM199.75 133.6h8.12v1.06h-8.12zM175.52 135.62h8.12v1.06h-8.12zM207.82 135.62h8.12v1.06h-8.12zM119 138.65h8.12v1.06h-8.12zM143.22 138.65h8.12v1.06h-8.12zM143.22 140.67h8.12v1.06h-8.12zM159.38 140.67h8.12v1.06h-8.12zM175.52 140.67h8.12v1.06h-8.12zM207.82 140.67h8.12v1.06h-8.12zM143.22 141.68h8.12v1.06h-8.12zM207.82 141.68h8.12v1.06h-8.12zM175.52 142.69h8.12v1.06h-8.12zM183.6 142.69h8.12v1.06h-8.12zM102.85 143.7h8.12v1.06h-8.12zM135.15 143.7h8.12v1.06h-8.12zM199.75 143.7h8.12v1.06h-8.12zM232.05 143.7h8.12v1.06h-8.12zM102.85 145.73h8.12v1.06h-8.12zM127.07 145.73h8.12v1.06h-8.12zM143.22 146.74h8.12v1.06h-8.12zM159.38 146.74h8.12v1.06h-8.12zM183.6 146.74h8.12v1.06h-8.12zM240.12 147.75h8.12v1.06h-8.12zM175.52 148.76h8.12v1.06h-8.12zM199.75 148.76h8.12v1.06h-8.12zM183.6 150.78h8.12v1.06h-8.12zM62.47 151.79h8.12v1.06h-8.12zM175.52 157.86h8.12v1.06h-8.12zM199.75 157.86h8.12v1.06h-8.12zM119 158.87h8.12v1.06h-8.12zM175.52 163.92h8.12v1.06h-8.12zM199.75 163.92h8.12v1.06h-8.12zM207.82 167.96h8.12v1.06h-8.12zM207.82 168.98h8.12v1.06h-8.12zM199.75 171h8.12v1.06h-8.12zM207.82 172.01h8.12v1.06h-8.12zM151.3 173.02h8.12v1.06h-8.12zM127.07 174.03h8.12v1.06h-8.12zM143.22 174.03h8.12v1.06h-8.12zM167.45 174.03h8.12v1.06h-8.12zM207.82 174.03h8.12v1.06h-8.12zM183.6 176.05h8.12v1.06h-8.12zM223.97 177.06h8.12v1.06h-8.12zM223.97 178.07h8.12v1.06h-8.12zM135.15 181.11h8.12v1.06h-8.12zM143.22 183.13h8.12v1.06h-8.12zM199.75 183.13h8.12v1.06h-8.12zM159.38 184.14h8.12v1.06h-8.12zM199.75 184.14h8.12v1.06h-8.12zM207.82 185.15h8.12v1.06h-8.12zM199.75 187.17h8.12v1.06h-8.12zM240.12 188.18h8.12v1.06h-8.12zM175.52 189.19h8.12v1.06h-8.12zM191.67 189.19h8.12v1.06h-8.12zM191.67 190.2h8.12v1.06h-8.12zM240.12 190.2h8.12v1.06h-8.12zM223.97 192.22h8.12v1.06h-8.12zM191.67 195.26h8.12v1.06h-8.12zM167.45 196.27h8.12v1.06h-8.12zM143.22 197.28h8.12v1.06h-8.12zM151.3 197.28h8.12v1.06h-8.12zM167.45 197.28h8.12v1.06h-8.12zM183.6 197.28h8.12v1.06h-8.12z"/>
<path fill="#fcdec6" d="M70.55 81.03h8.12v1.06h-8.12zM110.92 84.06h8.12v1.06h-8.12zM232.05 86.09h8.12v1.06h-8.12zM135.15 87.1h8.12v1.06h-8.12zM135.15 89.12h8.12v1.06h-8.12zM167.45 90.13h8.12v1.06h-8.12zM232.05 90.13h8.12v1.06h-8.12zM70.55 94.17h8.12v1.06h-8.12zM199.75 95.18h8.12v1.06h-8.12zM175.52 96.2h8.12v1.06h-8.12zM102.85 97.21h8.12v1.06h-8.12zM78.62 100.24h8.12v1.06h-8.12zM167.45 100.24h8.12v1.06h-8.12zM54.4 109.34h8.12v1.06h-8.12zM102.85 111.36h8.12v1.06h-8.12zM94.78 116.41h8.12v1.06h-8.12zM159.38 118.43h8.12v1.06h-8.12zM135.15 120.46h8.12v1.06h-8.12zM78.62 124.5h8.12v1.06h-8.12zM70.55 126.52h8.12v1.06h-8.12zM110.92 126.52h8.12v1.06h-8.12zM183.6 126.52h8.12v1.06h-8.12zM127.07 128.54h8.12v1.06h-8.12zM167.45 128.54h8.12v1.06h-8.12zM240.12 128.54h8.12v1.06h-8.12zM94.78 129.55h8.12v1.06h-8.12zM102.85 133.6h8.12v1.06h-8.12zM70.55 134.61h8.12v1.06h-8.12zM94.78 135.62h8.12v1.06h-8.12zM151.3 136.63h8.12v1.06h-8.12zM207.82 136.63h8.12v1.06h-8.12zM62.47 137.64h8.12v1.06h-8.12zM62.47 138.65h8.12v1.06h-8.12zM86.7 138.65h8.12v1.06h-8.12zM110.92 147.75h8.12v1.06h-8.12zM127.07 152.8h8.12v1.06h-8.12zM62.47 154.82h8.12v1.06h-8.12zM78.62 154.82h8.12v1.06h-8.12zM86.7 159.88h8.12v1.06h-8.12zM199.75 160.89h8.12v1.06h-8.12zM54.4 161.9h8.12v1.06h-8.12zM86.7 165.94h8.12v1.06h-8.12zM86.7 167.96h8.12v1.06h-8.12zM232.05 182.12h8.12v1.06h-8.12zM119 186.16h8.12v1.06h-8.12zM102.85 191.21h8.12v1.06h-8.12zM232.05 192.22h8.12v1.06h-8.12zM102.85 193.24h8.12v1.06h-8.12zM86.7 194.25h8.12v1.06h-8.12zM110.92 194.25h8.12v1.06h-8.12z"/>
<path fill="#fce4de" d="M102.85 81.03h8.12v1.06h-8.12zM70.55 89.12h8.12v1.06h-8.12zM232.05 131.57h8.12v1.06h-8.12zM159.38 132.59h8.12v1.06h-8.12zM94.78 134.61h8.12v1.06h-8.12zM135.15 147.75h8.12v1.06h-8.12zM215.9 149.77h8.12v1.06h-8.12zM94.78 152.8h8.12v1.06h-8.12zM86.7 158.87h8.12v1.06h-8.12zM135.15 168.98h8.12v1.06h-8.12zM240.12 176.05h8.12v1.06h-8.12zM94.78 177.06h8.12v1.06h-8.12zM94.78 179.08h8.12v1.06h-8.12zM102.85 182.12h8.12v1.06h-8.12z"/>
<path fill="#b4d8ea" d="M143.22 81.03h8.12v1.06h-8.12zM215.9 82.04h8.12v1.06h-8.12zM199.75 97.21h8.12v1.06h-8.12zM94.78 103.27h8.12v1.06h-8.12zM119 105.29h8.12v1.06h-8.12zM151.3 111.36h8.12v1.06h-8.12zM199.75 117.42h8.12v1.06h-8.12zM223.97 130.56h8.12v1.06h-8.12zM135.15 132.59h8.12v1.06h-8.12zM215.9 132.59h8.12v1.06h-8.12zM159.38 142.69h8.12v1.06h-8.12zM159.38 150.78h8.12v1.06h-8.12zM94.78 155.83h8.12v1.06h-8.12zM175.52 160.89h8.12v1.06h-8.12zM110.92 165.94h8.12v1.06h-8.12zM127.07 165.94h8.12v1.06h-8.12zM102.85 176.05h8.12v1.06h-8.12zM207.82 180.09h8.12v1.06h-8.12zM183.6 181.11h8.12v1.06h-8.12zM94.78 193.24h8.12v1.06h-8.12zM159.38 195.26h8.12v1.06h-8.12z"/>
<path fill="#90c6de" d="M191.67 81.03h8.12v1.06h-8.12zM86.7 85.08h8.12v1.06h-8.12zM159.38 156.85h8.12v1.06h-8.12zM215.9 180.09h8.12v1.06h-8.12zM183.6 183.13h8.12v1.06h-8.12zM215.9 183.13h8.12v1.06h-8.12zM191.67 188.18h8.12v1.06h-8.12z"/>
<path fill="#84c0d8" d="M199.75 81.03h8.12v1.06h-8.12zM191.67 178.07h8.12v1.06h-8.12zM199.75 179.08h8.12v1.06h-8.12z"/>
<path fill="#deeaf0" d="M54.4 82.04h8.12v1.06h-8.12zM54.4 84.06h8.12v1.06h-8.12zM54.4 85.08h8.12v1.06h-8.12zM159.38 85.08h8.12v1.06h-8.12zM199.75 85.08h8.12v1.06h-8.12zM86.7 104.28h8.12v1.06h-8.12zM119 104.28h8.12v1.06h-8.12zM135.15 105.29h8.12v1.06h-8.12zM119 106.3h8.12v1.06h-8.12zM86.7 109.34h8.12v1.06h-8.12zM127.07 110.35h8.12v1.06h-8.12zM159.38 110.35h8.12v1.06h-8.12zM159.38 111.36h8.12v1.06h-8.12zM199.75 111.36h8.12v1.06h-8.12zM215.9 111.36h8.12v1.06h-8.12zM159.38 113.38h8.12v1.06h-8.12zM86.7 114.39h8.12v1.06h-8.12zM207.82 116.41h8.12v1.06h-8.12zM86.7 119.44h8.12v1.06h-8.12zM119 120.46h8.12v1.06h-8.12zM215.9 120.46h8.12v1.06h-8.12zM94.78 121.47h8.12v1.06h-8.12zM215.9 123.49h8.12v1.06h-8.12zM143.22 124.5h8.12v1.06h-8.12zM159.38 131.57h8.12v1.06h-8.12zM183.6 134.61h8.12v1.06h-8.12zM223.97 140.67h8.12v1.06h-8.12zM94.78 143.7h8.12v1.06h-8.12zM86.7 144.72h8.12v1.06h-8.12zM94.78 144.72h8.12v1.06h-8.12zM135.15 144.72h8.12v1.06h-8.12zM191.67 145.73h8.12v1.06h-8.12zM127.07 146.74h8.12v1.06h-8.12zM143.22 147.75h8.12v1.06h-8.12zM175.52 147.75h8.12v1.06h-8.12zM207.82 147.75h8.12v1.06h-8.12zM215.9 147.75h8.12v1.06h-8.12zM223.97 150.78h8.12v1.06h-8.12zM207.82 156.85h8.12v1.06h-8.12zM215.9 156.85h8.12v1.06h-8.12zM207.82 157.86h8.12v1.06h-8.12zM207.82 159.88h8.12v1.06h-8.12zM215.9 159.88h8.12v1.06h-8.12zM175.52 162.91h8.12v1.06h-8.12zM143.22 163.92h8.12v1.06h-8.12zM223.97 163.92h8.12v1.06h-8.12zM207.82 164.93h8.12v1.06h-8.12zM151.3 171h8.12v1.06h-8.12zM223.97 171h8.12v1.06h-8.12zM159.38 173.02h8.12v1.06h-8.12zM191.67 173.02h8.12v1.06h-8.12zM167.45 178.07h8.12v1.06h-8.12zM207.82 178.07h8.12v1.06h-8.12zM159.38 179.08h8.12v1.06h-8.12zM183.6 179.08h8.12v1.06h-8.12zM191.67 180.09h8.12v1.06h-8.12zM175.52 182.12h8.12v1.06h-8.12zM240.12 182.12h8.12v1.06h-8.12zM143.22 188.18h8.12v1.06h-8.12zM207.82 188.18h8.12v1.06h-8.12zM175.52 192.22h8.12v1.06h-8.12zM199.75 193.24h8.12v1.06h-8.12zM215.9 194.25h8.12v1.06h-8.12zM215.9 198.29h8.12v1.06h-8.12z"/>
<path fill="#f0f0f6" d="M119 82.04h8.12v1.06h-8.12zM207.82 85.08h8.12v1.06h-8.12zM135.15 93.16h8.12v1.06h-8.12zM151.3 104.28h8.12v1.06h-8.12zM232.05 104.28h8.12v1.06h-8.12zM175.52 105.29h8.12v1.06h-8.12zM175.52 110.35h8.12v1.06h-8.12zM232.05 114.39h8.12v1.06h-8.12zM215.9 117.42h8.12v1.06h-8.12zM215.9 119.44h8.12v1.06h-8.12zM199.75 137.64h8.12v1.06h-8.12zM119 139.66h8.12v1.06h-8.12zM151.3 140.67h8.12v1.06h-8.12zM183.6 140.67h8.12v1.06h-8.12zM167.45 142.69h8.12v1.06h-8.12zM70.55 143.7h8.12v1.06h-8.12zM159.38 143.7h8.12v1.06h-8.12zM78.62 144.72h8.12v1.06h-8.12zM207.82 144.72h8.12v1.06h-8.12zM199.75 150.78h8.12v1.06h-8.12zM119 152.8h8.12v1.06h-8.12zM215.9 162.91h8.12v1.06h-8.12zM223.97 164.93h8.12v1.06h-8.12zM215.9 168.98h8.12v1.06h-8.12zM143.22 172.01h8.12v1.06h-8.12zM191.67 172.01h8.12v1.06h-8.12zM199.75 172.01h8.12v1.06h-8.12zM223.97 180.09h8.12v1.06h-8.12zM240.12 189.19h8.12v1.06h-8.12zM151.3 190.2h8.12v1.06h-8.12zM143.22 193.24h8.12v1.06h-8.12zM143.22 195.26h8.12v1.06h-8.12zM199.75 197.28h8.12v1.06h-8.12zM207.82 197.28h8.12v1.06h-8.12z"/>
<path fill="#a2cce4" d="M143.22 82.04h8.12v1.06h-8.12zM86.7 87.1h8.12v1.06h-8.12zM215.9 88.11h8.12v1.06h-8.12zM86.7 93.16h8.12v1.06h-8.12zM127.07 94.17h8.12v1.06h-8.12zM127.07 95.18h8.12v1.06h-8.12zM151.3 95.18h8.12v1.06h-8.12zM127.07 96.2h8.12v1.06h-8.12zM151.3 98.22h8.12v1.06h-8.12zM151.3 109.34h8.12v1.06h-8.12zM86.7 129.55h8.12v1.06h-8.12zM215.9 131.57h8.12v1.06h-8.12zM223.97 137.64h8.12v1.06h-8.12zM207.82 169.99h8.12v1.06h-8.12zM240.12 175.04h8.12v1.06h-8.12zM207.82 183.13h8.12v1.06h-8.12zM215.9 184.14h8.12v1.06h-8.12zM199.75 189.19h8.12v1.06h-8.12zM143.22 190.2h8.12v1.06h-8.12z"/>
<path fill="#4896c6" d="M183.6 82.04h8.12v1.06h-8.12zM119 88.11h8.12v1.06h-8.12zM119 89.12h8.12v1.06h-8.12zM175.52 102.26h8.12v1.06h-8.12zM183.6 122.48h8.12v1.06h-8.12zM94.78 123.49h8.12v1.06h-8.12zM167.45 149.77h8.12v1.06h-8.12zM151.3 155.83h8.12v1.06h-8.12zM143.22 165.94h8.12v1.06h-8.12zM54.4 173.02h8.12v1.06h-8.12zM143.22 177.06h8.12v1.06h-8.12zM143.22 179.08h8.12v1.06h-8.12zM143.22 180.09h8.12v1.06h-8.12z"/>
<path fill="#f6a88a" d="M240.12 82.04h8.12v1.06h-8.12zM240.12 91.14h8.12v1.06h-8.12zM62.47 97.21h8.12v1.06h-8.12zM70.55 113.38h8.12v1.06h-8.12zM78.62 118.43h8.12v1.06h-8.12zM62.47 126.52h8.12v1.06h-8.12zM70.55 141.68h8.12v1.06h-8.12zM232.05 149.77h8.12v1.06h-8.12zM62.47 163.92h8.12v1.06h-8.12zM62.47 176.05h8.12v1.06h-8.12zM78.62 180.09h8.12v1.06h-8.12zM102.85 185.15h8.12v1.06h-8.12zM62.47 198.29h8.12v1.06h-8.12z"/>
<path fill="#aed2e4" d="M143.22 83.05h8.12v1.06h-8.12zM207.82 83.05h8.12v1.06h-8.12zM223.97 84.06h8.12v1.06h-8.12zM86.7 92.15h8.12v1.06h-8.12zM127.07 106.3h8.12v1.06h-8.12zM199.75 115.4h8.12v1.06h-8.12zM143.22 122.48h8.12v1.06h-8.12zM215.9 124.5h8.12v1.06h-8.12zM94.78 131.57h8.12v1.06h-8.12zM215.9 133.6h8.12v1.06h-8.12zM215.9 135.62h8.12v1.06h-8.12zM159.38 139.66h8.12v1.06h-8.12zM94.78 142.69h8.12v1.06h-8.12zM159.38 154.82h8.12v1.06h-8.12zM102.85 161.9h8.12v1.06h-8.12zM223.97 173.02h8.12v1.06h-8.12zM207.82 181.11h8.12v1.06h-8.12zM183.6 182.12h8.12v1.06h-8.12zM215.9 186.16h8.12v1.06h-8.12zM94.78 196.27h8.12v1.06h-8.12zM86.7 198.29h8.12v1.06h-8.12z"/>
<path fill="#549cc6" d="M183.6 83.05h8.12v1.06h-8.12zM183.6 97.21h8.12v1.06h-8.12zM183.6 101.25h8.12v1.06h-8.12zM143.22 111.36h8.12v1.06h-8.12zM119 144.72h8.12v1.06h-8.12zM167.45 154.82h8.12v1.06h-8.12zM167.45 155.83h8.12v1.06h-8.12zM143.22 167.96h8.12v1.06h-8.12z"/>
<path fill="#d2e4f0" d="M102.85 84.06h8.12v1.06h-8.12zM102.85 85.08h8.12v1.06h-8.12zM143.22 85.08h8.12v1.06h-8.12zM119 108.33h8.12v1.06h-8.12zM119 110.35h8.12v1.06h-8.12zM102.85 112.37h8.12v1.06h-8.12zM119 112.37h8.12v1.06h-8.12zM175.52 112.37h8.12v1.06h-8.12zM86.7 115.4h8.12v1.06h-8.12zM223.97 115.4h8.12v1.06h-8.12zM110.92 119.44h8.12v1.06h-8.12zM159.38 122.48h8.12v1.06h-8.12zM207.82 122.48h8.12v1.06h-8.12zM143.22 123.49h8.12v1.06h-8.12zM54.4 127.53h8.12v1.06h-8.12zM135.15 127.53h8.12v1.06h-8.12zM54.4 128.54h8.12v1.06h-8.12zM143.22 128.54h8.12v1.06h-8.12zM54.4 130.56h8.12v1.06h-8.12zM86.7 133.6h8.12v1.06h-8.12zM151.3 139.66h8.12v1.06h-8.12zM191.67 139.66h8.12v1.06h-8.12zM207.82 139.66h8.12v1.06h-8.12zM159.38 145.73h8.12v1.06h-8.12zM199.75 145.73h8.12v1.06h-8.12zM175.52 146.74h8.12v1.06h-8.12zM159.38 147.75h8.12v1.06h-8.12zM223.97 152.8h8.12v1.06h-8.12zM215.9 157.86h8.12v1.06h-8.12zM207.82 162.91h8.12v1.06h-8.12zM215.9 164.93h8.12v1.06h-8.12zM94.78 171h8.12v1.06h-8.12zM127.07 172.01h8.12v1.06h-8.12zM175.52 177.06h8.12v1.06h-8.12zM183.6 178.07h8.12v1.06h-8.12zM191.67 179.08h8.12v1.06h-8.12zM167.45 181.11h8.12v1.06h-8.12zM240.12 184.14h8.12v1.06h-8.12zM167.45 188.18h8.12v1.06h-8.12zM183.6 188.18h8.12v1.06h-8.12zM207.82 189.19h8.12v1.06h-8.12zM223.97 191.21h8.12v1.06h-8.12zM159.38 193.24h8.12v1.06h-8.12zM175.52 193.24h8.12v1.06h-8.12zM183.6 193.24h8.12v1.06h-8.12zM191.67 193.24h8.12v1.06h-8.12zM223.97 193.24h8.12v1.06h-8.12zM167.45 194.25h8.12v1.06h-8.12zM183.6 194.25h8.12v1.06h-8.12zM159.38 196.27h8.12v1.06h-8.12zM223.97 196.27h8.12v1.06h-8.12zM102.85 197.28h8.12v1.06h-8.12z"/>
<path fill="#f6c0a8" d="M151.3 84.06h8.12v1.06h-8.12zM70.55 116.41h8.12v1.06h-8.12zM127.07 116.41h8.12v1.06h-8.12zM110.92 117.42h8.12v1.06h-8.12zM110.92 125.51h8.12v1.06h-8.12zM167.45 127.53h8.12v1.06h-8.12zM223.97 128.54h8.12v1.06h-8.12zM62.47 135.62h8.12v1.06h-8.12zM135.15 141.68h8.12v1.06h-8.12zM78.62 142.69h8.12v1.06h-8.12zM215.9 152.8h8.12v1.06h-8.12zM54.4 153.81h8.12v1.06h-8.12zM70.55 155.83h8.12v1.06h-8.12zM191.67 160.89h8.12v1.06h-8.12zM78.62 168.98h8.12v1.06h-8.12zM78.62 169.99h8.12v1.06h-8.12zM119 175.04h8.12v1.06h-8.12zM70.55 182.12h8.12v1.06h-8.12zM86.7 187.17h8.12v1.06h-8.12zM232.05 190.2h8.12v1.06h-8.12zM62.47 194.25h8.12v1.06h-8.12zM70.55 194.25h8.12v1.06h-8.12z"/>
<path fill="#f6b496" d="M240.12 84.06h8.12v1.06h-8.12zM240.12 93.16h8.12v1.06h-8.12zM62.47 109.34h8.12v1.06h-8.12zM78.62 109.34h8.12v1.06h-8.12zM62.47 112.37h8.12v1.06h-8.12zM62.47 113.38h8.12v1.06h-8.12zM70.55 114.39h8.12v1.06h-8.12zM62.47 116.41h8.12v1.06h-8.12zM70.55 117.42h8.12v1.06h-8.12zM70.55 118.43h8.12v1.06h-8.12zM62.47 124.5h8.12v1.06h-8.12zM102.85 125.51h8.12v1.06h-8.12zM70.55 128.54h8.12v1.06h-8.12zM78.62 128.54h8.12v1.06h-8.12zM232.05 141.68h8.12v1.06h-8.12zM62.47 147.75h8.12v1.06h-8.12zM54.4 150.78h8.12v1.06h-8.12zM86.7 151.79h8.12v1.06h-8.12zM62.47 153.81h8.12v1.06h-8.12zM191.67 155.83h8.12v1.06h-8.12zM119 159.88h8.12v1.06h-8.12zM183.6 160.89h8.12v1.06h-8.12zM232.05 164.93h8.12v1.06h-8.12zM70.55 167.96h8.12v1.06h-8.12zM78.62 167.96h8.12v1.06h-8.12zM78.62 171h8.12v1.06h-8.12zM54.4 174.03h8.12v1.06h-8.12zM78.62 175.04h8.12v1.06h-8.12zM102.85 175.04h8.12v1.06h-8.12zM70.55 179.08h8.12v1.06h-8.12zM62.47 180.09h8.12v1.06h-8.12zM70.55 180.09h8.12v1.06h-8.12zM78.62 182.12h8.12v1.06h-8.12zM70.55 184.14h8.12v1.06h-8.12zM70.55 186.16h8.12v1.06h-8.12zM54.4 188.18h8.12v1.06h-8.12zM62.47 191.21h8.12v1.06h-8.12zM70.55 191.21h8.12v1.06h-8.12zM62.47 192.22h8.12v1.06h-8.12z"/>
<path fill="#549ccc" d="M183.6 85.08h8.12v1.06h-8.12z"/>
<path fill="#e4f0f6" d="M215.9 85.08h8.12v1.06h-8.12zM191.67 86.09h8.12v1.06h-8.12zM110.92 103.27h8.12v1.06h-8.12zM175.52 104.28h8.12v1.06h-8.12zM86.7 105.29h8.12v1.06h-8.12zM159.38 105.29h8.12v1.06h-8.12zM119 107.31h8.12v1.06h-8.12zM159.38 108.33h8.12v1.06h-8.12zM94.78 109.34h8.12v1.06h-8.12zM119 109.34h8.12v1.06h-8.12zM86.7 110.35h8.12v1.06h-8.12zM151.3 113.38h8.12v1.06h-8.12zM215.9 113.38h8.12v1.06h-8.12zM119 114.39h8.12v1.06h-8.12zM119 115.4h8.12v1.06h-8.12zM86.7 116.41h8.12v1.06h-8.12zM119 121.47h8.12v1.06h-8.12zM215.9 121.47h8.12v1.06h-8.12zM151.3 122.48h8.12v1.06h-8.12zM175.52 133.6h8.12v1.06h-8.12zM223.97 133.6h8.12v1.06h-8.12zM167.45 134.61h8.12v1.06h-8.12zM175.52 134.61h8.12v1.06h-8.12zM199.75 134.61h8.12v1.06h-8.12zM223.97 134.61h8.12v1.06h-8.12zM183.6 135.62h8.12v1.06h-8.12zM183.6 138.65h8.12v1.06h-8.12zM94.78 139.66h8.12v1.06h-8.12zM240.12 139.66h8.12v1.06h-8.12zM119 140.67h8.12v1.06h-8.12zM215.9 142.69h8.12v1.06h-8.12zM223.97 142.69h8.12v1.06h-8.12zM86.7 143.7h8.12v1.06h-8.12zM70.55 144.72h8.12v1.06h-8.12zM240.12 144.72h8.12v1.06h-8.12zM167.45 145.73h8.12v1.06h-8.12zM175.52 145.73h8.12v1.06h-8.12zM94.78 146.74h8.12v1.06h-8.12zM191.67 147.75h8.12v1.06h-8.12zM143.22 150.78h8.12v1.06h-8.12zM175.52 153.81h8.12v1.06h-8.12zM191.67 153.81h8.12v1.06h-8.12zM223.97 156.85h8.12v1.06h-8.12zM175.52 159.88h8.12v1.06h-8.12zM240.12 162.91h8.12v1.06h-8.12zM159.38 163.92h8.12v1.06h-8.12zM183.6 164.93h8.12v1.06h-8.12zM207.82 165.94h8.12v1.06h-8.12zM159.38 171h8.12v1.06h-8.12zM183.6 171h8.12v1.06h-8.12zM191.67 171h8.12v1.06h-8.12zM207.82 171h8.12v1.06h-8.12zM167.45 172.01h8.12v1.06h-8.12zM223.97 172.01h8.12v1.06h-8.12zM215.9 173.02h8.12v1.06h-8.12zM151.3 177.06h8.12v1.06h-8.12zM167.45 177.06h8.12v1.06h-8.12zM183.6 177.06h8.12v1.06h-8.12zM191.67 177.06h8.12v1.06h-8.12zM215.9 177.06h8.12v1.06h-8.12zM159.38 178.07h8.12v1.06h-8.12zM151.3 179.08h8.12v1.06h-8.12zM167.45 180.09h8.12v1.06h-8.12zM151.3 181.11h8.12v1.06h-8.12zM191.67 181.11h8.12v1.06h-8.12zM215.9 181.11h8.12v1.06h-8.12zM151.3 184.14h8.12v1.06h-8.12zM223.97 184.14h8.12v1.06h-8.12zM191.67 185.15h8.12v1.06h-8.12zM199.75 185.15h8.12v1.06h-8.12zM175.52 187.17h8.12v1.06h-8.12zM86.7 189.19h8.12v1.06h-8.12zM223.97 189.19h8.12v1.06h-8.12zM223.97 190.2h8.12v1.06h-8.12zM207.82 193.24h8.12v1.06h-8.12zM151.3 194.25h8.12v1.06h-8.12zM207.82 194.25h8.12v1.06h-8.12zM167.45 195.26h8.12v1.06h-8.12zM183.6 195.26h8.12v1.06h-8.12zM151.3 196.27h8.12v1.06h-8.12zM207.82 196.27h8.12v1.06h-8.12zM215.9 197.28h8.12v1.06h-8.12zM143.22 198.29h8.12v1.06h-8.12z"/>
<path fill="#fcccba" d="M240.12 85.08h8.12v1.06h-8.12zM54.4 88.11h8.12v1.06h-8.12zM232.05 128.54h8.12v1.06h-8.12zM232.05 140.67h8.12v1.06h-8.12zM215.9 154.82h8.12v1.06h-8.12zM240.12 159.88h8.12v1.06h-8.12zM191.67 161.9h8.12v1.06h-8.12zM78.62 164.93h8.12v1.06h-8.12zM102.85 184.14h8.12v1.06h-8.12zM54.4 187.17h8.12v1.06h-8.12zM110.92 187.17h8.12v1.06h-8.12z"/>
<path fill="#f6ae90" d="M62.47 86.09h8.12v1.06h-8.12zM70.55 86.09h8.12v1.06h-8.12zM135.15 86.09h8.12v1.06h-8.12zM110.92 97.21h8.12v1.06h-8.12zM102.85 99.23h8.12v1.06h-8.12zM110.92 101.25h8.12v1.06h-8.12zM62.47 114.39h8.12v1.06h-8.12zM78.62 116.41h8.12v1.06h-8.12zM232.05 117.42h8.12v1.06h-8.12zM62.47 119.44h8.12v1.06h-8.12zM70.55 125.51h8.12v1.06h-8.12zM62.47 130.56h8.12v1.06h-8.12zM232.05 150.78h8.12v1.06h-8.12zM232.05 152.8h8.12v1.06h-8.12zM62.47 165.94h8.12v1.06h-8.12zM78.62 174.03h8.12v1.06h-8.12zM232.05 175.04h8.12v1.06h-8.12zM78.62 185.15h8.12v1.06h-8.12zM232.05 198.29h8.12v1.06h-8.12z"/>
<path fill="#bad8ea" d="M102.85 86.09h8.12v1.06h-8.12zM159.38 86.09h8.12v1.06h-8.12zM151.3 89.12h8.12v1.06h-8.12zM159.38 90.13h8.12v1.06h-8.12zM167.45 95.18h8.12v1.06h-8.12zM159.38 98.22h8.12v1.06h-8.12zM167.45 98.22h8.12v1.06h-8.12zM94.78 114.39h8.12v1.06h-8.12zM199.75 114.39h8.12v1.06h-8.12zM199.75 121.47h8.12v1.06h-8.12zM207.82 121.47h8.12v1.06h-8.12zM215.9 122.48h8.12v1.06h-8.12zM207.82 123.49h8.12v1.06h-8.12zM135.15 130.56h8.12v1.06h-8.12zM183.6 130.56h8.12v1.06h-8.12zM143.22 134.61h8.12v1.06h-8.12zM159.38 134.61h8.12v1.06h-8.12zM215.9 136.63h8.12v1.06h-8.12zM215.9 137.64h8.12v1.06h-8.12zM143.22 153.81h8.12v1.06h-8.12zM143.22 156.85h8.12v1.06h-8.12zM175.52 161.9h8.12v1.06h-8.12zM86.7 172.01h8.12v1.06h-8.12zM183.6 174.03h8.12v1.06h-8.12zM94.78 178.07h8.12v1.06h-8.12zM110.92 182.12h8.12v1.06h-8.12zM215.9 187.17h8.12v1.06h-8.12zM199.75 188.18h8.12v1.06h-8.12z"/>
<path fill="#c6def0" d="M119 86.09h8.12v1.06h-8.12zM119 92.15h8.12v1.06h-8.12zM199.75 93.16h8.12v1.06h-8.12zM183.6 94.17h8.12v1.06h-8.12zM86.7 108.33h8.12v1.06h-8.12zM127.07 108.33h8.12v1.06h-8.12zM86.7 113.38h8.12v1.06h-8.12zM199.75 123.49h8.12v1.06h-8.12zM86.7 130.56h8.12v1.06h-8.12zM143.22 131.57h8.12v1.06h-8.12zM143.22 132.59h8.12v1.06h-8.12zM223.97 135.62h8.12v1.06h-8.12zM167.45 147.75h8.12v1.06h-8.12zM102.85 155.83h8.12v1.06h-8.12zM143.22 159.88h8.12v1.06h-8.12zM215.9 178.07h8.12v1.06h-8.12z"/>
<path fill="#f09c78" d="M54.4 87.1h8.12v1.06h-8.12zM78.62 99.23h8.12v1.06h-8.12zM62.47 115.4h8.12v1.06h-8.12zM78.62 125.51h8.12v1.06h-8.12zM70.55 150.78h8.12v1.06h-8.12zM78.62 153.81h8.12v1.06h-8.12zM232.05 163.92h8.12v1.06h-8.12zM70.55 174.03h8.12v1.06h-8.12z"/>
<path fill="#cce4f0" d="M151.3 88.11h8.12v1.06h-8.12zM159.38 93.16h8.12v1.06h-8.12zM215.9 104.28h8.12v1.06h-8.12zM207.82 105.29h8.12v1.06h-8.12zM240.12 113.38h8.12v1.06h-8.12zM119 116.41h8.12v1.06h-8.12zM119 118.43h8.12v1.06h-8.12zM94.78 125.51h8.12v1.06h-8.12zM143.22 126.52h8.12v1.06h-8.12zM215.9 127.53h8.12v1.06h-8.12zM119 129.55h8.12v1.06h-8.12zM135.15 129.55h8.12v1.06h-8.12zM175.52 139.66h8.12v1.06h-8.12zM183.6 139.66h8.12v1.06h-8.12zM151.3 147.75h8.12v1.06h-8.12zM215.9 153.81h8.12v1.06h-8.12zM94.78 165.94h8.12v1.06h-8.12zM102.85 165.94h8.12v1.06h-8.12zM54.4 167.96h8.12v1.06h-8.12zM159.38 175.04h8.12v1.06h-8.12zM175.52 178.07h8.12v1.06h-8.12zM183.6 180.09h8.12v1.06h-8.12zM199.75 180.09h8.12v1.06h-8.12zM151.3 182.12h8.12v1.06h-8.12zM159.38 182.12h8.12v1.06h-8.12zM207.82 186.16h8.12v1.06h-8.12zM183.6 189.19h8.12v1.06h-8.12zM215.9 189.19h8.12v1.06h-8.12zM215.9 191.21h8.12v1.06h-8.12zM215.9 193.24h8.12v1.06h-8.12zM175.52 194.25h8.12v1.06h-8.12z"/>
<path fill="#8ac0de" d="M191.67 88.11h8.12v1.06h-8.12zM143.22 91.14h8.12v1.06h-8.12zM127.07 93.16h8.12v1.06h-8.12zM175.52 111.36h8.12v1.06h-8.12zM240.12 123.49h8.12v1.06h-8.12zM199.75 156.85h8.12v1.06h-8.12zM183.6 186.16h8.12v1.06h-8.12z"/>
<path fill="#f6ae8a" d="M240.12 88.11h8.12v1.06h-8.12zM78.62 113.38h8.12v1.06h-8.12zM70.55 119.44h8.12v1.06h-8.12zM78.62 137.64h8.12v1.06h-8.12zM54.4 148.76h8.12v1.06h-8.12zM70.55 173.02h8.12v1.06h-8.12zM54.4 175.04h8.12v1.06h-8.12zM70.55 178.07h8.12v1.06h-8.12zM127.07 180.09h8.12v1.06h-8.12z"/>
<path fill="#4290c0" d="M119 90.13h8.12v1.06h-8.12zM167.45 105.29h8.12v1.06h-8.12zM143.22 115.4h8.12v1.06h-8.12zM191.67 116.41h8.12v1.06h-8.12zM183.6 119.44h8.12v1.06h-8.12zM183.6 121.47h8.12v1.06h-8.12zM240.12 135.62h8.12v1.06h-8.12zM240.12 136.63h8.12v1.06h-8.12zM119 147.75h8.12v1.06h-8.12zM167.45 150.78h8.12v1.06h-8.12zM151.3 160.89h8.12v1.06h-8.12zM159.38 160.89h8.12v1.06h-8.12zM143.22 166.95h8.12v1.06h-8.12zM54.4 171h8.12v1.06h-8.12zM159.38 186.16h8.12v1.06h-8.12zM159.38 187.17h8.12v1.06h-8.12z"/>
<path fill="#c0d8ea" d="M159.38 92.15h8.12v1.06h-8.12zM143.22 129.55h8.12v1.06h-8.12zM135.15 190.2h8.12v1.06h-8.12z"/>
<path fill="#b4d2e4" d="M119 93.16h8.12v1.06h-8.12zM86.7 94.17h8.12v1.06h-8.12zM119 94.17h8.12v1.06h-8.12zM223.97 113.38h8.12v1.06h-8.12zM199.75 116.41h8.12v1.06h-8.12zM151.3 119.44h8.12v1.06h-8.12zM102.85 121.47h8.12v1.06h-8.12zM215.9 182.12h8.12v1.06h-8.12z"/>
<path fill="#66a8d2" d="M143.22 93.16h8.12v1.06h-8.12zM199.75 140.67h8.12v1.06h-8.12zM143.22 164.93h8.12v1.06h-8.12z"/>
<path fill="#f6b490" d="M110.92 95.18h8.12v1.06h-8.12zM240.12 102.26h8.12v1.06h-8.12zM70.55 112.37h8.12v1.06h-8.12zM54.4 159.88h8.12v1.06h-8.12zM62.47 171h8.12v1.06h-8.12zM110.92 175.04h8.12v1.06h-8.12zM70.55 185.15h8.12v1.06h-8.12zM78.62 188.18h8.12v1.06h-8.12zM54.4 189.19h8.12v1.06h-8.12z"/>
<path fill="#9ccce4" d="M167.45 96.2h8.12v1.06h-8.12zM167.45 113.38h8.12v1.06h-8.12zM199.75 118.43h8.12v1.06h-8.12zM175.52 137.64h8.12v1.06h-8.12zM143.22 158.87h8.12v1.06h-8.12zM143.22 189.19h8.12v1.06h-8.12z"/>
<path fill="#f6baa2" d="M240.12 96.2h8.12v1.06h-8.12zM110.92 98.22h8.12v1.06h-8.12zM54.4 101.25h8.12v1.06h-8.12zM70.55 110.35h8.12v1.06h-8.12zM127.07 115.4h8.12v1.06h-8.12zM232.05 115.4h8.12v1.06h-8.12zM232.05 134.61h8.12v1.06h-8.12zM62.47 141.68h8.12v1.06h-8.12zM54.4 154.82h8.12v1.06h-8.12zM183.6 154.82h8.12v1.06h-8.12zM70.55 164.93h8.12v1.06h-8.12zM240.12 166.95h8.12v1.06h-8.12zM232.05 187.17h8.12v1.06h-8.12zM78.62 191.21h8.12v1.06h-8.12zM135.15 191.21h8.12v1.06h-8.12z"/>
<path fill="#90c0de" d="M215.9 97.21h8.12v1.06h-8.12zM191.67 112.37h8.12v1.06h-8.12zM102.85 160.89h8.12v1.06h-8.12zM183.6 169.99h8.12v1.06h-8.12zM240.12 173.02h8.12v1.06h-8.12z"/>
<path fill="#3684ba" d="M183.6 98.22h8.12v1.06h-8.12zM167.45 104.28h8.12v1.06h-8.12zM143.22 106.3h8.12v1.06h-8.12zM143.22 107.31h8.12v1.06h-8.12zM183.6 123.49h8.12v1.06h-8.12zM191.67 123.49h8.12v1.06h-8.12zM143.22 175.04h8.12v1.06h-8.12zM143.22 176.05h8.12v1.06h-8.12zM199.75 176.05h8.12v1.06h-8.12z"/>
<path fill="#3c8ac0" d="M183.6 99.23h8.12v1.06h-8.12zM175.52 101.25h8.12v1.06h-8.12zM143.22 105.29h8.12v1.06h-8.12zM143.22 108.33h8.12v1.06h-8.12zM143.22 112.37h8.12v1.06h-8.12zM183.6 113.38h8.12v1.06h-8.12zM143.22 114.39h8.12v1.06h-8.12zM143.22 117.42h8.12v1.06h-8.12zM240.12 134.61h8.12v1.06h-8.12zM159.38 161.9h8.12v1.06h-8.12zM199.75 175.04h8.12v1.06h-8.12zM159.38 189.19h8.12v1.06h-8.12z"/>
<path fill="#8ac0d8" d="M183.6 100.24h8.12v1.06h-8.12zM151.3 107.31h8.12v1.06h-8.12zM215.9 144.72h8.12v1.06h-8.12zM215.9 145.73h8.12v1.06h-8.12z"/>
<path fill="#60a8cc" d="M167.45 103.27h8.12v1.06h-8.12zM183.6 110.35h8.12v1.06h-8.12zM191.67 115.4h8.12v1.06h-8.12zM94.78 122.48h8.12v1.06h-8.12zM151.3 131.57h8.12v1.06h-8.12zM151.3 132.59h8.12v1.06h-8.12zM167.45 157.86h8.12v1.06h-8.12zM151.3 158.87h8.12v1.06h-8.12z"/>
<path fill="#4e96c6" d="M143.22 104.28h8.12v1.06h-8.12zM143.22 118.43h8.12v1.06h-8.12zM159.38 188.18h8.12v1.06h-8.12z"/>
<path fill="#9cccde" d="M199.75 108.33h8.12v1.06h-8.12zM191.67 117.42h8.12v1.06h-8.12zM215.9 190.2h8.12v1.06h-8.12zM207.82 192.22h8.12v1.06h-8.12zM215.9 195.26h8.12v1.06h-8.12z"/>
<path fill="#3c90c0" d="M143.22 109.34h8.12v1.06h-8.12zM119 145.73h8.12v1.06h-8.12zM151.3 156.85h8.12v1.06h-8.12z"/>
<path fill="#f09678" d="M62.47 110.35h8.12v1.06h-8.12zM78.62 112.37h8.12v1.06h-8.12zM232.05 161.9h8.12v1.06h-8.12zM70.55 165.94h8.12v1.06h-8.12zM70.55 181.11h8.12v1.06h-8.12zM70.55 198.29h8.12v1.06h-8.12z"/>
<path fill="#54a2cc" d="M183.6 111.36h8.12v1.06h-8.12z"/>
<path fill="#e4eaf6" d="M86.7 112.37h8.12v1.06h-8.12zM143.22 120.46h8.12v1.06h-8.12zM223.97 123.49h8.12v1.06h-8.12zM215.9 143.7h8.12v1.06h-8.12zM175.52 156.85h8.12v1.06h-8.12zM143.22 173.02h8.12v1.06h-8.12zM223.97 179.08h8.12v1.06h-8.12z"/>
<path fill="#d8e4f0" d="M159.38 112.37h8.12v1.06h-8.12zM167.45 123.49h8.12v1.06h-8.12zM102.85 157.86h8.12v1.06h-8.12zM86.7 160.89h8.12v1.06h-8.12zM54.4 163.92h8.12v1.06h-8.12z"/>
<path fill="#a8cce4" d="M215.9 112.37h8.12v1.06h-8.12zM215.9 134.61h8.12v1.06h-8.12zM143.22 157.86h8.12v1.06h-8.12z"/>
<path fill="#307eba" d="M143.22 113.38h8.12v1.06h-8.12zM119 143.7h8.12v1.06h-8.12zM143.22 178.07h8.12v1.06h-8.12z"/>
<path fill="#72b4d2" d="M191.67 113.38h8.12v1.06h-8.12zM191.67 114.39h8.12v1.06h-8.12zM151.3 159.88h8.12v1.06h-8.12z"/>
<path fill="#f0a27e" d="M78.62 114.39h8.12v1.06h-8.12zM78.62 117.42h8.12v1.06h-8.12zM70.55 120.46h8.12v1.06h-8.12zM54.4 145.73h8.12v1.06h-8.12zM232.05 151.79h8.12v1.06h-8.12zM135.15 153.81h8.12v1.06h-8.12zM54.4 180.09h8.12v1.06h-8.12zM54.4 185.15h8.12v1.06h-8.12zM62.47 185.15h8.12v1.06h-8.12zM70.55 195.26h8.12v1.06h-8.12z"/>
<path fill="#f09c7e" d="M54.4 116.41h8.12v1.06h-8.12zM62.47 118.43h8.12v1.06h-8.12zM70.55 166.95h8.12v1.06h-8.12zM78.62 166.95h8.12v1.06h-8.12zM62.47 175.04h8.12v1.06h-8.12z"/>
<path fill="#3078b4" d="M143.22 116.41h8.12v1.06h-8.12zM191.67 120.46h8.12v1.06h-8.12zM191.67 121.47h8.12v1.06h-8.12zM159.38 158.87h8.12v1.06h-8.12z"/>
<path fill="#f6a27e" d="M232.05 116.41h8.12v1.06h-8.12zM232.05 165.94h8.12v1.06h-8.12zM70.55 183.13h8.12v1.06h-8.12zM54.4 194.25h8.12v1.06h-8.12z"/>
<path fill="#ea9678" d="M54.4 117.42h8.12v1.06h-8.12z"/>
<path fill="#60a2cc" d="M183.6 118.43h8.12v1.06h-8.12zM94.78 124.5h8.12v1.06h-8.12zM159.38 153.81h8.12v1.06h-8.12zM143.22 181.11h8.12v1.06h-8.12z"/>
<path fill="#367eba" d="M191.67 119.44h8.12v1.06h-8.12zM191.67 122.48h8.12v1.06h-8.12zM54.4 169.99h8.12v1.06h-8.12zM54.4 172.01h8.12v1.06h-8.12zM143.22 182.12h8.12v1.06h-8.12zM159.38 185.15h8.12v1.06h-8.12z"/>
<path fill="#ea8a6c" d="M62.47 120.46h8.12v1.06h-8.12zM78.62 165.94h8.12v1.06h-8.12z"/>
<path fill="#ea9072" d="M54.4 125.51h8.12v1.06h-8.12zM54.4 134.61h8.12v1.06h-8.12zM78.62 181.11h8.12v1.06h-8.12z"/>
<path fill="#f6a284" d="M62.47 125.51h8.12v1.06h-8.12zM62.47 166.95h8.12v1.06h-8.12z"/>
<path fill="#78b4d2" d="M207.82 131.57h8.12v1.06h-8.12z"/>
<path fill="#e4eaf0" d="M207.82 134.61h8.12v1.06h-8.12zM223.97 139.66h8.12v1.06h-8.12zM207.82 145.73h8.12v1.06h-8.12zM191.67 194.25h8.12v1.06h-8.12z"/>
<path fill="#307eb4" d="M119 148.76h8.12v1.06h-8.12z"/>
<path fill="#2466ae" d="M167.45 148.76h8.12v1.06h-8.12z"/>
<path fill="#3c84ba" d="M167.45 151.79h8.12v1.06h-8.12zM159.38 159.88h8.12v1.06h-8.12z"/>
<path fill="#e4846c" d="M232.05 153.81h8.12v1.06h-8.12z"/>
<path fill="#e47e66" d="M232.05 154.82h8.12v1.06h-8.12z"/>
<path fill="#e47e60" d="M232.05 155.83h8.12v1.06h-8.12z"/>
<path fill="#de7860" d="M232.05 156.85h8.12v1.06h-8.12zM232.05 157.86h8.12v1.06h-8.12z"/>
<path fill="#66a8cc" d="M151.3 157.86h8.12v1.06h-8.12z"/>
<path fill="#d86c54" d="M232.05 158.87h8.12v1.06h-8.12z"/>
<path fill="#d8664e" d="M232.05 159.88h8.12v1.06h-8.12z"/>
<path fill="#e48466" d="M232.05 160.89h8.12v1.06h-8.12z"/></g>
<path d="M54.6 78.45L32.12 78.45L32.12 78.76L54.6 78.76M54.6 79.36L32.94 79.36L32.94 79.67L54.6 79.67M54.6 80.58L35.65 80.58L35.65 80.88L54.6 80.88M54.6 80.27L34.48 80.27L34.48 80.73L35.65 80.73M54.6 79.97L32.85 79.97L32.85 80.5L34.48 80.5M54.6 81.79L37.33 81.79L37.33 82.09L54.6 82.09M54.6 81.49L35.18 81.49L35.18 81.94L37.33 81.94M54.6 81.18L32.4 81.18L32.4 81.71L35.18 81.71M32.85 80.24L29.92 80.24L29.92 81.45L32.4 81.45M32.94 79.52L29.58 79.52L29.58 80.84L29.92 80.84M54.6 79.06L28.45 79.06L28.45 80.18L29.58 80.18M32.12 78.61L26.29 78.61L26.29 79.62L28.45 79.62M54.6 78.15L23.67 78.15L23.67 79.11L26.29 79.11M54.6 82.7L36.3 82.7L36.3 83L54.6 83M54.6 83.31L31.4 83.31L31.4 83.61L54.6 83.61M36.3 82.85L25.63 82.85L25.63 83.46L31.4 83.46M54.6 82.4L22.56 82.4L22.56 83.16L25.63 83.16M23.67 78.63L17.68 78.63L17.68 82.78L22.56 82.78M54.6 84.22L28.34 84.22L28.34 84.52L54.6 84.52M54.6 86.04L35.47 86.04L35.47 86.34L54.6 86.34M54.6 85.73L32.51 85.73L32.51 86.19L35.47 86.19M54.6 85.43L31.07 85.43L31.07 85.96L32.51 85.96M54.6 85.13L28.24 85.13L28.24 85.69L31.07 85.69M54.6 84.82L26.2 84.82L26.2 85.41L28.24 85.41M28.34 84.37L23.07 84.37L23.07 85.12L26.2 85.12M54.6 83.91L21.91 83.91L21.91 84.74L23.07 84.74M54.6 86.64L29.44 86.64L29.44 86.95L54.6 86.95M54.6 87.86L34.51 87.86L34.51 88.16L54.6 88.16M54.6 87.55L30.32 87.55L30.32 88.01L34.51 88.01M54.6 87.25L26.62 87.25L26.62 87.78L30.32 87.78M29.44 86.79L24.54 86.79L24.54 87.51L26.62 87.51M54.6 89.07L35.9 89.07L35.9 89.37L54.6 89.37M54.6 90.58L37.77 90.58L37.77 90.89L54.6 90.89M54.6 90.28L36.37 90.28L36.37 90.74L37.77 90.74M54.6 89.98L35.39 89.98L35.39 90.51L36.37 90.51M54.6 89.68L31.48 89.68L31.48 90.24L35.39 90.24M35.9 89.22L29.95 89.22L29.95 89.96L31.48 89.96M54.6 88.77L28.52 88.77L28.52 89.59L29.95 89.59M54.6 91.49L34.71 91.49L34.71 91.8L54.6 91.8M54.6 92.1L36.74 92.1L36.74 92.4L54.6 92.4M54.6 92.71L36.28 92.71L36.28 93.01L54.6 93.01M36.74 92.25L32.77 92.25L32.77 92.86L36.28 92.86M34.71 91.65L31.43 91.65L31.43 92.56L32.77 92.56M54.6 91.19L27.95 91.19L27.95 92.1L31.43 92.1M28.52 89.18L25.88 89.18L25.88 91.65L27.95 91.65M54.6 88.46L22.55 88.46L22.55 90.41L25.88 90.41M24.54 87.15L18.56 87.15L18.56 89.44L22.55 89.44M21.91 84.33L14.24 84.33L14.24 88.3L18.56 88.3M54.6 93.31L29.48 93.31L29.48 93.62L54.6 93.62M54.6 94.22L31.49 94.22L31.49 94.53L54.6 94.53M54.6 93.92L27.69 93.92L27.69 94.38L31.49 94.38M29.48 93.47L25.58 93.47L25.58 94.15L27.69 94.15M54.6 95.13L34.82 95.13L34.82 95.44L54.6 95.44M54.6 94.83L32.19 94.83L32.19 95.29L34.82 95.29M54.6 96.04L35.42 96.04L35.42 96.35L54.6 96.35M54.6 95.74L31.25 95.74L31.25 96.19L35.42 96.19M32.19 95.06L26.86 95.06L26.86 95.97L31.25 95.97M54.6 96.95L33.81 96.95L33.81 97.26L54.6 97.26M54.6 96.65L29.24 96.65L29.24 97.1L33.81 97.1M54.6 97.56L35.6 97.56L35.6 97.86L54.6 97.86M54.6 98.17L34.5 98.17L34.5 98.47L54.6 98.47M54.6 99.38L36.93 99.38L36.93 99.68L54.6 99.68M54.6 99.08L35.7 99.08L35.7 99.53L36.93 99.53M54.6 98.77L34.41 98.77L34.41 99.3L35.7 99.3M34.5 98.32L31 98.32L31 99.04L34.41 99.04M35.6 97.71L30.13 97.71L30.13 98.68L31 98.68M54.6 99.99L33.33 99.99L33.33 100.29L54.6 100.29M54.6 100.59L36.93 100.59L36.93 100.9L54.6 100.9M54.6 101.5L35.41 101.5L35.41 101.81L54.6 101.81M54.6 101.2L33.82 101.2L33.82 101.65L35.41 101.65M36.93 100.74L32.63 100.74L32.63 101.43L33.82 101.43M33.33 100.14L30.33 100.14L30.33 101.08L32.63 101.08M54.6 102.41L36.72 102.41L36.72 102.71L54.6 102.71M54.6 103.02L34.32 103.02L34.32 103.32L54.6 103.32M36.72 102.56L33.27 102.56L33.27 103.17L34.32 103.17M54.6 102.11L29.03 102.11L29.03 102.87L33.27 102.87M30.33 100.61L28.18 100.61L28.18 102.49L29.03 102.49M30.13 98.19L26.65 98.19L26.65 101.55L28.18 101.55M29.24 96.88L23.83 96.88L23.83 99.87L26.65 99.87M26.86 95.51L22.67 95.51L22.67 98.37L23.83 98.37M25.58 93.81L18.56 93.81L18.56 96.94L22.67 96.94M54.6 103.93L34.84 103.93L34.84 104.23L54.6 104.23M54.6 103.62L33.86 103.62L33.86 104.08L34.84 104.08M54.6 104.53L31.35 104.53L31.35 104.84L54.6 104.84M33.86 103.85L29.02 103.85L29.02 104.69L31.35 104.69M54.6 105.14L34.53 105.14L34.53 105.44L54.6 105.44M54.6 106.05L36.75 106.05L36.75 106.35L54.6 106.35M54.6 105.75L36.09 105.75L36.09 106.2L36.75 106.2M54.6 106.96L35.46 106.96L35.46 107.26L54.6 107.26M54.6 106.66L32.84 106.66L32.84 107.11L35.46 107.11M36.09 105.97L31.53 105.97L31.53 106.88L32.84 106.88M34.53 105.29L28.99 105.29L28.99 106.43L31.53 106.43M29.02 104.27L26.47 104.27L26.47 105.86L28.99 105.86M54.6 108.48L34.39 108.48L34.39 108.78L54.6 108.78M54.6 108.17L32.41 108.17L32.41 108.63L34.39 108.63M54.6 107.87L30.08 107.87L30.08 108.4L32.41 108.4M54.6 107.57L28.01 107.57L28.01 108.14L30.08 108.14M54.6 109.39L32.81 109.39L32.81 109.69L54.6 109.69M54.6 109.99L33.44 109.99L33.44 110.3L54.6 110.3M54.6 110.9L33.6 110.9L33.6 111.21L54.6 111.21M54.6 110.6L32.38 110.6L32.38 111.05L33.6 111.05M33.44 110.14L29.5 110.14L29.5 110.83L32.38 110.83M32.81 109.54L29.05 109.54L29.05 110.49L29.5 110.49M54.6 109.08L26.37 109.08L26.37 110.01L29.05 110.01M28.01 107.85L23.31 107.85L23.31 109.55L26.37 109.55M26.47 105.07L21.12 105.07L21.12 108.7L23.31 108.7M54.6 111.51L30.57 111.51L30.57 111.81L54.6 111.81M54.6 112.12L33.37 112.12L33.37 112.42L54.6 112.42M54.6 113.03L38.35 113.03L38.35 113.33L54.6 113.33M54.6 113.94L36.4 113.94L36.4 114.24L54.6 114.24M54.6 113.63L34.7 113.63L34.7 114.09L36.4 114.09M38.35 113.18L33.04 113.18L33.04 113.86L34.7 113.86M54.6 112.72L31.82 112.72L31.82 113.52L33.04 113.52M33.37 112.27L30.51 112.27L30.51 113.12L31.82 113.12M30.57 111.66L29.15 111.66L29.15 112.69L30.51 112.69M54.6 114.54L36.35 114.54L36.35 114.84L54.6 114.84M54.6 115.15L31.84 115.15L31.84 115.45L54.6 115.45M36.35 114.69L30.37 114.69L30.37 115.3L31.84 115.3M54.6 116.06L33.35 116.06L33.35 116.36L54.6 116.36M54.6 115.75L32.74 115.75L32.74 116.21L33.35 116.21M54.6 116.97L34.89 116.97L34.89 117.27L54.6 117.27M54.6 116.66L33.83 116.66L33.83 117.12L34.89 117.12M54.6 117.57L33.72 117.57L33.72 117.88L54.6 117.88M33.83 116.89L30.37 116.89L30.37 117.73L33.72 117.73M32.74 115.98L28.66 115.98L28.66 117.31L30.37 117.31M30.37 115L27.18 115L27.18 116.65L28.66 116.65M29.15 112.18L25.38 112.18L25.38 115.82L27.18 115.82M54.6 118.79L37.11 118.79L37.11 119.09L54.6 119.09M54.6 118.48L32.64 118.48L32.64 118.94L37.11 118.94M54.6 118.18L31.39 118.18L31.39 118.71L32.64 118.71M54.6 119.39L32.81 119.39L32.81 119.7L54.6 119.7M54.6 120.3L35.61 120.3L35.61 120.61L54.6 120.61M54.6 120L32.46 120L32.46 120.45L35.61 120.45M32.81 119.55L30.07 119.55L30.07 120.23L32.46 120.23M31.39 118.45L28.7 118.45L28.7 119.89L30.07 119.89M54.6 120.91L35.91 120.91L35.91 121.21L54.6 121.21M54.6 121.52L35.61 121.52L35.61 121.82L54.6 121.82M35.91 121.06L32.49 121.06L32.49 121.67L35.61 121.67M54.6 122.43L36.01 122.43L36.01 122.73L54.6 122.73M54.6 123.03L33.7 123.03L33.7 123.34L54.6 123.34M36.01 122.58L31.21 122.58L31.21 123.18L33.7 123.18M54.6 122.12L27.92 122.12L27.92 122.88L31.21 122.88M32.49 121.36L26.92 121.36L26.92 122.5L27.92 122.5M28.7 119.17L22.49 119.17L22.49 121.93L26.92 121.93M54.6 123.94L34.2 123.94L34.2 124.25L54.6 124.25M54.6 124.55L37.03 124.55L37.03 124.85L54.6 124.85M54.6 125.46L39.48 125.46L39.48 125.76L54.6 125.76M54.6 125.16L36.43 125.16L36.43 125.61L39.48 125.61M37.03 124.7L33.41 124.7L33.41 125.38L36.43 125.38M34.2 124.09L31.43 124.09L31.43 125.04L33.41 125.04M54.6 126.07L34.28 126.07L34.28 126.37L54.6 126.37M54.6 126.67L37.18 126.67L37.18 126.97L54.6 126.97M54.6 127.58L38.39 127.58L38.39 127.88L54.6 127.88M54.6 127.28L34.69 127.28L34.69 127.73L38.39 127.73M37.18 126.82L33.68 126.82L33.68 127.51L34.69 127.51M34.28 126.22L31.43 126.22L31.43 127.16L33.68 127.16M31.43 124.57L28.6 124.57L28.6 126.69L31.43 126.69M54.6 123.64L28.12 123.64L28.12 125.63L28.6 125.63M54.6 128.49L34.27 128.49L34.27 128.79L54.6 128.79M54.6 128.19L32.11 128.19L32.11 128.64L34.27 128.64M54.6 129.1L35.36 129.1L35.36 129.4L54.6 129.4M54.6 129.7L35.24 129.7L35.24 130.01L54.6 130.01M35.36 129.25L31.84 129.25L31.84 129.86L35.24 129.86M32.11 128.42L28.77 128.42L28.77 129.55L31.84 129.55M54.6 130.31L34.95 130.31L34.95 130.61L54.6 130.61M54.6 131.22L37.1 131.22L37.1 131.52L54.6 131.52M54.6 130.92L34.72 130.92L34.72 131.37L37.1 131.37M34.95 130.46L32.38 130.46L32.38 131.14L34.72 131.14M54.6 132.13L34.21 132.13L34.21 132.43L54.6 132.43M54.6 131.83L32.22 131.83L32.22 132.28L34.21 132.28M32.38 130.8L29.49 130.8L29.49 132.05L32.22 132.05M54.6 133.34L38.24 133.34L38.24 133.65L54.6 133.65M54.6 133.04L36.3 133.04L36.3 133.49L38.24 133.49M54.6 132.74L34.65 132.74L34.65 133.27L36.3 133.27M54.6 133.95L33.64 133.95L33.64 134.25L54.6 134.25M34.65 133L31.8 133L31.8 134.1L33.64 134.1M54.6 134.56L37.27 134.56L37.27 134.86L54.6 134.86M54.6 135.47L37.91 135.47L37.91 135.77L54.6 135.77M54.6 135.16L34.78 135.16L34.78 135.62L37.91 135.62M37.27 134.71L32.94 134.71L32.94 135.39L34.78 135.39M54.6 136.07L37.74 136.07L37.74 136.38L54.6 136.38M54.6 137.29L38.51 137.29L38.51 137.59L54.6 137.59M54.6 136.98L36.51 136.98L36.51 137.44L38.51 137.44M54.6 136.68L35.07 136.68L35.07 137.21L36.51 137.21M37.74 136.22L33.52 136.22L33.52 136.94L35.07 136.94M54.6 138.2L37.47 138.2L37.47 138.5L54.6 138.5M54.6 137.89L36.72 137.89L36.72 138.35L37.47 138.35M54.6 138.8L39.21 138.8L39.21 139.1L54.6 139.1M54.6 139.41L38.47 139.41L38.47 139.71L54.6 139.71M39.21 138.95L37.28 138.95L37.28 139.56L38.47 139.56M54.6 140.32L39.91 140.32L39.91 140.62L54.6 140.62M54.6 140.01L35.87 140.01L35.87 140.47L39.91 140.47M37.28 139.26L34.21 139.26L34.21 140.24L35.87 140.24M36.72 138.12L32.65 138.12L32.65 139.75L34.21 139.75M33.52 136.58L31.23 136.58L31.23 138.93L32.65 138.93M32.94 135.05L30.07 135.05L30.07 137.76L31.23 137.76M31.8 133.55L28.34 133.55L28.34 136.4L30.07 136.4M29.49 131.43L27.75 131.43L27.75 134.98L28.34 134.98M28.77 128.98L26.72 128.98L26.72 133.2L27.75 133.2M28.12 124.63L25.18 124.63L25.18 131.09L26.72 131.09M54.6 140.92L34.2 140.92L34.2 141.23L54.6 141.23M54.6 141.53L39 141.53L39 141.83L54.6 141.83M54.6 142.14L37.77 142.14L37.77 142.44L54.6 142.44M39 141.68L34.69 141.68L34.69 142.29L37.77 142.29M54.6 142.74L37.39 142.74L37.39 143.05L54.6 143.05M54.6 143.65L37.08 143.65L37.08 143.96L54.6 143.96M54.6 143.35L36.08 143.35L36.08 143.81L37.08 143.81M37.39 142.9L33.25 142.9L33.25 143.58L36.08 143.58M34.69 141.99L31.26 141.99L31.26 143.24L33.25 143.24M54.6 144.26L35.42 144.26L35.42 144.56L54.6 144.56M54.6 144.87L38.25 144.87L38.25 145.17L54.6 145.17M54.6 145.47L36.48 145.47L36.48 145.78L54.6 145.78M38.25 145.02L34.32 145.02L34.32 145.62L36.48 145.62M35.42 144.41L33.27 144.41L33.27 145.32L34.32 145.32M54.6 146.38L38.85 146.38L38.85 146.69L54.6 146.69M54.6 146.08L36.27 146.08L36.27 146.53L38.85 146.53M54.6 146.99L37.98 146.99L37.98 147.29L54.6 147.29M54.6 147.9L40.01 147.9L40.01 148.2L54.6 148.2M54.6 147.6L37.05 147.6L37.05 148.05L40.01 148.05M37.98 147.14L34.79 147.14L34.79 147.82L37.05 147.82M36.27 146.31L33.24 146.31L33.24 147.48L34.79 147.48M33.27 144.87L30.73 144.87L30.73 146.89L33.24 146.89M31.26 142.61L30.19 142.61L30.19 145.88L30.73 145.88M34.2 141.08L29.12 141.08L29.12 144.25L30.19 144.25M54.6 148.51L32.06 148.51L32.06 148.81L54.6 148.81M54.6 149.42L36.32 149.42L36.32 149.72L54.6 149.72M54.6 149.11L34.95 149.11L34.95 149.57L36.32 149.57M54.6 150.02L37.2 150.02L37.2 150.33L54.6 150.33M54.6 150.63L35.9 150.63L35.9 150.93L54.6 150.93M37.2 150.17L33.9 150.17L33.9 150.78L35.9 150.78M34.95 149.34L32.21 149.34L32.21 150.48L33.9 150.48M54.6 151.23L37.64 151.23L37.64 151.54L54.6 151.54M54.6 151.84L35.65 151.84L35.65 152.14L54.6 152.14M37.64 151.39L34.1 151.39L34.1 151.99L35.65 151.99M54.6 152.45L36.44 152.45L36.44 152.75L54.6 152.75M54.6 153.05L37.87 153.05L37.87 153.36L54.6 153.36M54.6 153.66L37.45 153.66L37.45 153.96L54.6 153.96M37.87 153.21L36.17 153.21L36.17 153.81L37.45 153.81M36.44 152.6L34.05 152.6L34.05 153.51L36.17 153.51M34.1 151.69L31.89 151.69L31.89 153.05L34.05 153.05M32.21 149.91L30.87 149.91L30.87 152.37L31.89 152.37M32.06 148.66L28.79 148.66L28.79 151.14L30.87 151.14M29.12 142.66L26.98 142.66L26.98 149.9L28.79 149.9M54.6 154.87L35.02 154.87L35.02 155.18L54.6 155.18M54.6 154.57L31.73 154.57L31.73 155.03L35.02 155.03M54.6 154.27L30.18 154.27L30.18 154.8L31.73 154.8M54.6 155.48L35.59 155.48L35.59 155.78L54.6 155.78M54.6 156.39L37.75 156.39L37.75 156.69L54.6 156.69M54.6 156.09L32.83 156.09L32.83 156.54L37.75 156.54M35.59 155.63L31.75 155.63L31.75 156.31L32.83 156.31M54.6 157.3L38.61 157.3L38.61 157.6L54.6 157.6M54.6 157L35.6 157L35.6 157.45L38.61 157.45M54.6 158.21L38.84 158.21L38.84 158.51L54.6 158.51M54.6 157.91L35.5 157.91L35.5 158.36L38.84 158.36M35.6 157.22L33.66 157.22L33.66 158.13L35.5 158.13M54.6 159.12L37.53 159.12L37.53 159.42L54.6 159.42M54.6 158.82L33.65 158.82L33.65 159.27L37.53 159.27M33.66 157.68L31.16 157.68L31.16 159.04L33.65 159.04M54.6 159.73L36.68 159.73L36.68 160.03L54.6 160.03M54.6 160.33L35.89 160.33L35.89 160.64L54.6 160.64M36.68 159.88L32.66 159.88L32.66 160.48L35.89 160.48M54.6 160.94L37.36 160.94L37.36 161.24L54.6 161.24M54.6 161.55L39.5 161.55L39.5 161.85L54.6 161.85M54.6 162.15L38.93 162.15L38.93 162.46L54.6 162.46M39.5 161.7L36.73 161.7L36.73 162.3L38.93 162.3M37.36 161.09L33.6 161.09L33.6 162L36.73 162M54.6 163.06L39.85 163.06L39.85 163.36L54.6 163.36M54.6 162.76L37.39 162.76L37.39 163.21L39.85 163.21M54.6 163.97L37.26 163.97L37.26 164.27L54.6 164.27M54.6 163.67L34.89 163.67L34.89 164.12L37.26 164.12M37.39 162.99L33.43 162.99L33.43 163.9L34.89 163.9M33.6 161.55L31.13 161.55L31.13 163.44L33.43 163.44M32.66 160.18L30.29 160.18L30.29 162.49L31.13 162.49M31.16 158.36L29.63 158.36L29.63 161.34L30.29 161.34M31.75 155.97L27.64 155.97L27.64 159.85L29.63 159.85M30.18 154.53L26.6 154.53L26.6 157.91L27.64 157.91M26.98 146.28L25.52 146.28L25.52 156.22L26.6 156.22M54.6 164.58L34.34 164.58L34.34 164.88L54.6 164.88M54.6 165.49L36.54 165.49L36.54 165.79L54.6 165.79M54.6 165.18L30.65 165.18L30.65 165.64L36.54 165.64M34.34 164.73L28.58 164.73L28.58 165.41L30.65 165.41M54.6 166.4L35.16 166.4L35.16 166.7L54.6 166.7M54.6 166.09L31.66 166.09L31.66 166.55L35.16 166.55M54.6 167L33.86 167L33.86 167.31L54.6 167.31M54.6 167.61L37.1 167.61L37.1 167.91L54.6 167.91M54.6 168.52L39.71 168.52L39.71 168.82L54.6 168.82M54.6 168.22L35.12 168.22L35.12 168.67L39.71 168.67M37.1 167.76L33.8 167.76L33.8 168.44L35.12 168.44M33.86 167.16L32.02 167.16L32.02 168.1L33.8 168.1M54.6 169.43L36.02 169.43L36.02 169.73L54.6 169.73M54.6 169.13L33.55 169.13L33.55 169.58L36.02 169.58M54.6 170.04L35.92 170.04L35.92 170.34L54.6 170.34M54.6 170.64L35.58 170.64L35.58 170.95L54.6 170.95M35.92 170.19L32.35 170.19L32.35 170.79L35.58 170.79M33.55 169.35L31.06 169.35L31.06 170.49L32.35 170.49M32.02 167.63L29.37 167.63L29.37 169.92L31.06 169.92M31.66 166.32L28.49 166.32L28.49 168.78L29.37 168.78M54.6 171.25L34.19 171.25L34.19 171.55L54.6 171.55M54.6 171.86L32.86 171.86L32.86 172.16L54.6 172.16M34.19 171.4L31.64 171.4L31.64 172.01L32.86 172.01M54.6 172.77L36.18 172.77L36.18 173.07L54.6 173.07M54.6 172.46L30.43 172.46L30.43 172.92L36.18 172.92M31.64 171.7L28.36 171.7L28.36 172.69L30.43 172.69M28.49 167.55L26.82 167.55L26.82 172.2L28.36 172.2M28.58 165.07L24.94 165.07L24.94 169.87L26.82 169.87M25.52 151.25L24.27 151.25L24.27 167.47L24.94 167.47M25.18 127.86L24.16 127.86L24.16 159.36L24.27 159.36M54.6 173.37L33.96 173.37L33.96 173.68L54.6 173.68M54.6 174.28L35.36 174.28L35.36 174.59L54.6 174.59M54.6 173.98L31.69 173.98L31.69 174.43L35.36 174.43M54.6 175.19L35.67 175.19L35.67 175.49L54.6 175.49M54.6 174.89L31.38 174.89L31.38 175.34L35.67 175.34M31.69 174.21L29.41 174.21L29.41 175.12L31.38 175.12M33.96 173.52L26.4 173.52L26.4 174.66L29.41 174.66M54.6 175.8L34.91 175.8L34.91 176.1L54.6 176.1M54.6 176.71L37.52 176.71L37.52 177.01L54.6 177.01M54.6 176.4L32.75 176.4L32.75 176.86L37.52 176.86M34.91 175.95L29.64 175.95L29.64 176.63L32.75 176.63M54.6 177.62L34.31 177.62L34.31 177.92L54.6 177.92M54.6 177.31L32.72 177.31L32.72 177.77L34.31 177.77M54.6 178.22L35.65 178.22L35.65 178.53L54.6 178.53M54.6 178.83L34.33 178.83L34.33 179.13L54.6 179.13M35.65 178.38L31.5 178.38L31.5 178.98L34.33 178.98M32.72 177.54L28.31 177.54L28.31 178.68L31.5 178.68M29.64 176.29L26.37 176.29L26.37 178.11L28.31 178.11M26.4 174.09L24.15 174.09L24.15 177.2L26.37 177.2M24.16 143.61L22.13 143.61L22.13 175.65L24.15 175.65M22.49 120.55L20.61 120.55L20.61 159.63L22.13 159.63M25.38 114L18.59 114L18.59 140.09L20.61 140.09M21.12 106.88L17.04 106.88L17.04 127.04L18.59 127.04M18.56 95.38L15.48 95.38L15.48 116.96L17.04 116.96M54.6 179.44L32.1 179.44L32.1 179.74L54.6 179.74M54.6 180.04L29.83 180.04L29.83 180.35L54.6 180.35M32.1 179.59L29.13 179.59L29.13 180.2L29.83 180.2M54.6 180.65L27.68 180.65L27.68 180.95L54.6 180.95M29.13 179.89L25.33 179.89L25.33 180.8L27.68 180.8M54.6 181.56L33.54 181.56L33.54 181.86L54.6 181.86M54.6 181.26L28 181.26L28 181.71L33.54 181.71M54.6 183.08L36.09 183.08L36.09 183.38L54.6 183.38M54.6 182.77L33.13 182.77L33.13 183.23L36.09 183.23M54.6 182.47L31.26 182.47L31.26 183L33.13 183M54.6 182.17L26.84 182.17L26.84 182.73L31.26 182.73M54.6 183.99L35.03 183.99L35.03 184.29L54.6 184.29M54.6 183.68L32.43 183.68L32.43 184.14L35.03 184.14M54.6 184.59L33.51 184.59L33.51 184.9L54.6 184.9M54.6 185.2L35.52 185.2L35.52 185.5L54.6 185.5M54.6 186.11L37.17 186.11L37.17 186.41L54.6 186.41M54.6 185.81L34.74 185.81L34.74 186.26L37.17 186.26M35.52 185.35L31.97 185.35L31.97 186.03L34.74 186.03M33.51 184.74L30.35 184.74L30.35 185.69L31.97 185.69M32.43 183.91L28.93 183.91L28.93 185.22L30.35 185.22M54.6 186.72L33.73 186.72L33.73 187.02L54.6 187.02M54.6 187.62L36.33 187.62L36.33 187.93L54.6 187.93M54.6 187.32L31.05 187.32L31.05 187.78L36.33 187.78M33.73 186.87L27.25 186.87L27.25 187.55L31.05 187.55M28.93 184.56L25.99 184.56L25.99 187.21L27.25 187.21M26.84 182.45L24.02 182.45L24.02 185.89L25.99 185.89M28 181.48L21.87 181.48L21.87 184.17L24.02 184.17M25.33 180.35L20.48 180.35L20.48 182.83L21.87 182.83M54.6 188.53L27.81 188.53L27.81 188.84L54.6 188.84M54.6 188.23L23.69 188.23L23.69 188.69L27.81 188.69M54.6 189.44L35.54 189.44L35.54 189.75L54.6 189.75M54.6 189.14L28.62 189.14L28.62 189.6L35.54 189.6M54.6 190.05L33.02 190.05L33.02 190.35L54.6 190.35M54.6 190.66L33.89 190.66L33.89 190.96L54.6 190.96M54.6 191.57L34.67 191.57L34.67 191.87L54.6 191.87M54.6 191.26L30.95 191.26L30.95 191.72L34.67 191.72M33.89 190.81L29.36 190.81L29.36 191.49L30.95 191.49M33.02 190.2L26.68 190.2L26.68 191.15L29.36 191.15M28.62 189.37L22.54 189.37L22.54 190.68L26.68 190.68M54.6 192.17L32.55 192.17L32.55 192.48L54.6 192.48M54.6 193.08L33.05 193.08L33.05 193.39L54.6 193.39M54.6 192.78L27.96 192.78L27.96 193.24L33.05 193.24M32.55 192.33L25.72 192.33L25.72 193.01L27.96 193.01M54.6 193.99L33.47 193.99L33.47 194.3L54.6 194.3M54.6 193.69L30.22 193.69L30.22 194.14L33.47 194.14M54.6 195.21L35.74 195.21L35.74 195.51L54.6 195.51M54.6 194.9L34.82 194.9L34.82 195.36L35.74 195.36M54.6 194.6L31.54 194.6L31.54 195.13L34.82 195.13M54.6 196.42L35.7 196.42L35.7 196.72L54.6 196.72M54.6 196.12L33.35 196.12L33.35 196.57L35.7 196.57M54.6 195.81L30.87 195.81L30.87 196.34L33.35 196.34M31.54 194.86L29.12 194.86L29.12 196.08L30.87 196.08M54.6 197.33L33.1 197.33L33.1 197.63L54.6 197.63M54.6 197.03L32.03 197.03L32.03 197.48L33.1 197.48M54.6 197.94L35.94 197.94L35.94 198.24L54.6 198.24M54.6 198.85L39.2 198.85L39.2 199.15L54.6 199.15M54.6 198.54L33.86 198.54L33.86 199L39.2 199M35.94 198.09L31.43 198.09L31.43 198.77L33.86 198.77M32.03 197.25L27.21 197.25L27.21 198.43L31.43 198.43M29.12 195.47L26.99 195.47L26.99 197.84L27.21 197.84M30.22 193.92L24.2 193.92L24.2 196.66L26.99 196.66M25.72 192.67L22.25 192.67L22.25 195.29L24.2 195.29M22.54 190.02L20.22 190.02L20.22 193.98L22.25 193.98M23.69 188.46L18.48 188.46L18.48 192L20.22 192M20.48 181.59L15.38 181.59L15.38 190.23L18.48 190.23M15.48 106.17L12.07 106.17L12.07 185.91L15.38 185.91M14.24 86.31L10.49 86.31L10.49 146.04L12.07 146.04M17.68 80.7L7.5 80.7L7.5 116.18L10.49 116.18" fill="none" stroke="#000" stroke-width="0.9"/>
<text transform="translate(260.6,16.75) scale(0.84,1)" font-size="11.9" font-weight="bold" fill="#000" style="stroke:none">B</text>
<text x="294.2" y="30.3" font-size="5.8" text-anchor="middle" fill="#000">ROR1<tspan font-size="3.9" dy="-2.5">Neg</tspan></text>
<text x="366.4" y="30.3" font-size="5.8" text-anchor="middle" fill="#000">ROR1<tspan font-size="3.9" dy="-2.5">Pos</tspan></text>
<line x1="259.7" y1="34.7" x2="329.8" y2="34.7" stroke="#000" stroke-width="1.1"/>
<line x1="334.3" y1="34.7" x2="401" y2="34.7" stroke="#000" stroke-width="1.1"/>
<text transform="translate(264.52,44.1) rotate(-90)" font-size="5.0" fill="#000">9</text>
<text transform="translate(270.56,44.1) rotate(-90)" font-size="5.0" fill="#000">7</text>
<text transform="translate(276.59,44.1) rotate(-90)" font-size="5.0" fill="#000">1</text>
<text transform="translate(282.63,44.1) rotate(-90)" font-size="5.0" fill="#000">2</text>
<text transform="translate(288.67,44.1) rotate(-90)" font-size="5.0" fill="#000">10</text>
<text transform="translate(294.71,44.1) rotate(-90)" font-size="5.0" fill="#000">11</text>
<text transform="translate(300.74,44.1) rotate(-90)" font-size="5.0" fill="#000">12</text>
<text transform="translate(306.78,44.1) rotate(-90)" font-size="5.0" fill="#000">4</text>
<text transform="translate(312.82,44.1) rotate(-90)" font-size="5.0" fill="#000">6</text>
<text transform="translate(318.86,44.1) rotate(-90)" font-size="5.0" fill="#000">8</text>
<text transform="translate(324.89,44.1) rotate(-90)" font-size="5.0" fill="#000">5</text>
<text transform="translate(330.93,44.1) rotate(-90)" font-size="5.0" fill="#000">3</text>
<text transform="translate(336.97,44.1) rotate(-90)" font-size="5.0" fill="#000">19</text>
<text transform="translate(343.01,44.1) rotate(-90)" font-size="5.0" fill="#000">20</text>
<text transform="translate(349.04,44.1) rotate(-90)" font-size="5.0" fill="#000">22</text>
<text transform="translate(355.08,44.1) rotate(-90)" font-size="5.0" fill="#000">13</text>
<text transform="translate(361.12,44.1) rotate(-90)" font-size="5.0" fill="#000">15</text>
<text transform="translate(367.16,44.1) rotate(-90)" font-size="5.0" fill="#000">23</text>
<text transform="translate(373.19,44.1) rotate(-90)" font-size="5.0" fill="#000">21</text>
<text transform="translate(379.23,44.1) rotate(-90)" font-size="5.0" fill="#000">16</text>
<text transform="translate(385.27,44.1) rotate(-90)" font-size="5.0" fill="#000">18</text>
<text transform="translate(391.31,44.1) rotate(-90)" font-size="5.0" fill="#000">14</text>
<text transform="translate(397.34,44.1) rotate(-90)" font-size="5.0" fill="#000">24</text>
<text transform="translate(403.38,44.1) rotate(-90)" font-size="5.0" fill="#000">17</text>
<defs><filter id="blB" x="-2%" y="-2%" width="104%" height="104%"><feGaussianBlur stdDeviation="0.4"/></filter></defs>
<g filter="url(#blB)"><path fill="#8da1d8" d="M259.7 46.7h6.09v6.83h-6.09zM265.74 46.7h6.09v6.83h-6.09zM301.96 46.7h6.09v6.83h-6.09zM326.11 46.7h6.09v6.83h-6.09zM265.74 53.48h6.09v6.83h-6.09zM259.7 60.27h6.09v6.83h-6.09zM283.85 60.27h6.09v6.83h-6.09zM326.11 67.06h6.09v6.83h-6.09zM265.74 73.84h6.09v6.83h-6.09zM326.11 80.62h6.09v6.83h-6.09zM265.74 94.19h6.09v6.83h-6.09zM265.74 100.98h6.09v6.83h-6.09zM265.74 107.76h6.09v6.83h-6.09zM356.3 114.55h6.09v6.83h-6.09zM362.34 114.55h6.09v6.83h-6.09zM368.38 114.55h6.09v6.83h-6.09zM386.49 114.55h6.09v6.83h-6.09zM344.23 128.12h6.09v6.83h-6.09zM392.53 128.12h6.09v6.83h-6.09zM368.38 168.83h6.09v6.83h-6.09z"/>
<path fill="#9fb0e0" d="M271.77 46.7h6.09v6.83h-6.09zM308 46.7h6.09v6.83h-6.09zM265.74 87.41h6.09v6.83h-6.09zM271.77 100.98h6.09v6.83h-6.09zM326.11 107.76h6.09v6.83h-6.09zM368.38 141.69h6.09v6.83h-6.09zM362.34 162.04h6.09v6.83h-6.09zM380.45 168.83h6.09v6.83h-6.09zM392.53 168.83h6.09v6.83h-6.09zM344.23 175.62h6.09v6.83h-6.09z"/>
<path fill="#96a8dc" d="M277.81 46.7h6.09v6.83h-6.09zM259.7 53.48h6.09v6.83h-6.09zM301.96 53.48h6.09v6.83h-6.09zM326.11 53.48h6.09v6.83h-6.09zM326.11 60.27h6.09v6.83h-6.09zM277.81 73.84h6.09v6.83h-6.09zM326.11 73.84h6.09v6.83h-6.09zM265.74 80.62h6.09v6.83h-6.09zM259.7 87.41h6.09v6.83h-6.09zM301.96 87.41h6.09v6.83h-6.09zM326.11 87.41h6.09v6.83h-6.09zM271.77 94.19h6.09v6.83h-6.09zM326.11 94.19h6.09v6.83h-6.09zM332.15 128.12h6.09v6.83h-6.09zM356.3 128.12h6.09v6.83h-6.09zM320.07 141.69h6.09v6.83h-6.09zM350.26 141.69h6.09v6.83h-6.09zM356.3 141.69h6.09v6.83h-6.09zM386.49 141.69h6.09v6.83h-6.09zM392.53 148.47h6.09v6.83h-6.09zM392.53 155.26h6.09v6.83h-6.09zM398.56 162.04h6.09v6.83h-6.09zM338.19 168.83h6.09v6.83h-6.09zM350.26 175.62h6.09v6.83h-6.09zM356.3 175.62h6.09v6.83h-6.09zM368.38 175.62h6.09v6.83h-6.09z"/>
<path fill="#a8b7e3" d="M283.85 46.7h6.09v6.83h-6.09zM301.96 67.06h6.09v6.83h-6.09zM259.7 73.84h6.09v6.83h-6.09zM259.7 80.62h6.09v6.83h-6.09zM277.81 80.62h6.09v6.83h-6.09zM277.81 87.41h6.09v6.83h-6.09zM283.85 87.41h6.09v6.83h-6.09zM283.85 94.19h6.09v6.83h-6.09zM320.07 94.19h6.09v6.83h-6.09zM259.7 107.76h6.09v6.83h-6.09zM295.93 107.76h6.09v6.83h-6.09zM380.45 114.55h6.09v6.83h-6.09zM332.15 121.33h6.09v6.83h-6.09zM356.3 121.33h6.09v6.83h-6.09zM380.45 121.33h6.09v6.83h-6.09zM392.53 121.33h6.09v6.83h-6.09zM362.34 128.12h6.09v6.83h-6.09zM320.07 134.9h6.09v6.83h-6.09zM398.56 134.9h6.09v6.83h-6.09zM380.45 148.47h6.09v6.83h-6.09zM380.45 155.26h6.09v6.83h-6.09zM380.45 162.04h6.09v6.83h-6.09zM398.56 168.83h6.09v6.83h-6.09z"/>
<path fill="#eef0f9" d="M289.89 46.7h6.09v6.83h-6.09zM332.15 168.83h6.09v6.83h-6.09z"/>
<path fill="#c4ceee" d="M295.93 46.7h6.09v6.83h-6.09zM308 53.48h6.09v6.83h-6.09zM277.81 60.27h6.09v6.83h-6.09zM314.04 60.27h6.09v6.83h-6.09zM259.7 67.06h6.09v6.83h-6.09zM308 67.06h6.09v6.83h-6.09zM271.77 73.84h6.09v6.83h-6.09zM301.96 73.84h6.09v6.83h-6.09zM308 80.62h6.09v6.83h-6.09zM271.77 87.41h6.09v6.83h-6.09zM283.85 100.98h6.09v6.83h-6.09zM314.04 107.76h6.09v6.83h-6.09zM320.07 107.76h6.09v6.83h-6.09zM338.19 121.33h6.09v6.83h-6.09zM398.56 121.33h6.09v6.83h-6.09zM283.85 128.12h6.09v6.83h-6.09zM344.23 134.9h6.09v6.83h-6.09zM362.34 141.69h6.09v6.83h-6.09zM332.15 148.47h6.09v6.83h-6.09zM283.85 162.04h6.09v6.83h-6.09zM362.34 168.83h6.09v6.83h-6.09z"/>
<path fill="#bbc6ea" d="M314.04 46.7h6.09v6.83h-6.09zM283.85 53.48h6.09v6.83h-6.09zM295.93 53.48h6.09v6.83h-6.09zM314.04 53.48h6.09v6.83h-6.09zM271.77 67.06h6.09v6.83h-6.09zM295.93 80.62h6.09v6.83h-6.09zM308 114.55h6.09v6.83h-6.09zM356.3 148.47h6.09v6.83h-6.09zM356.3 155.26h6.09v6.83h-6.09zM338.19 162.04h6.09v6.83h-6.09zM398.56 175.62h6.09v6.83h-6.09z"/>
<path fill="#d9dff4" d="M320.07 46.7h6.09v6.83h-6.09zM289.89 100.98h6.09v6.83h-6.09zM301.96 107.76h6.09v6.83h-6.09zM362.34 121.33h6.09v6.83h-6.09zM289.89 128.12h6.09v6.83h-6.09zM368.38 128.12h6.09v6.83h-6.09zM380.45 141.69h6.09v6.83h-6.09zM350.26 148.47h6.09v6.83h-6.09zM386.49 148.47h6.09v6.83h-6.09zM283.85 155.26h6.09v6.83h-6.09zM338.19 155.26h6.09v6.83h-6.09zM386.49 155.26h6.09v6.83h-6.09z"/>
<path fill="#f7e5e7" d="M332.15 46.7h6.09v6.83h-6.09zM332.15 60.27h6.09v6.83h-6.09zM386.49 80.62h6.09v6.83h-6.09zM350.26 87.41h6.09v6.83h-6.09zM277.81 128.12h6.09v6.83h-6.09zM265.74 148.47h6.09v6.83h-6.09zM314.04 148.47h6.09v6.83h-6.09zM259.7 155.26h6.09v6.83h-6.09zM277.81 162.04h6.09v6.83h-6.09z"/>
<path fill="#f09090" d="M338.19 46.7h6.09v6.83h-6.09zM368.38 46.7h6.09v6.83h-6.09zM386.49 60.27h6.09v6.83h-6.09zM380.45 67.06h6.09v6.83h-6.09zM398.56 67.06h6.09v6.83h-6.09zM362.34 73.84h6.09v6.83h-6.09zM374.41 73.84h6.09v6.83h-6.09zM398.56 80.62h6.09v6.83h-6.09zM368.38 87.41h6.09v6.83h-6.09zM356.3 107.76h6.09v6.83h-6.09zM398.56 107.76h6.09v6.83h-6.09zM259.7 128.12h6.09v6.83h-6.09zM265.74 128.12h6.09v6.83h-6.09zM295.93 128.12h6.09v6.83h-6.09zM368.38 155.26h6.09v6.83h-6.09zM271.77 168.83h6.09v6.83h-6.09z"/>
<path fill="#f6d2d2" d="M344.23 46.7h6.09v6.83h-6.09zM350.26 46.7h6.09v6.83h-6.09zM356.3 53.48h6.09v6.83h-6.09zM338.19 60.27h6.09v6.83h-6.09zM332.15 73.84h6.09v6.83h-6.09zM344.23 87.41h6.09v6.83h-6.09zM398.56 87.41h6.09v6.83h-6.09zM350.26 94.19h6.09v6.83h-6.09zM386.49 94.19h6.09v6.83h-6.09zM374.41 107.76h6.09v6.83h-6.09zM259.7 121.33h6.09v6.83h-6.09zM314.04 121.33h6.09v6.83h-6.09zM301.96 155.26h6.09v6.83h-6.09zM301.96 162.04h6.09v6.83h-6.09z"/>
<path fill="#f7dbdd" d="M356.3 46.7h6.09v6.83h-6.09zM362.34 46.7h6.09v6.83h-6.09zM380.45 46.7h6.09v6.83h-6.09zM398.56 53.48h6.09v6.83h-6.09zM320.07 60.27h6.09v6.83h-6.09zM356.3 60.27h6.09v6.83h-6.09zM398.56 60.27h6.09v6.83h-6.09zM344.23 73.84h6.09v6.83h-6.09zM332.15 80.62h6.09v6.83h-6.09zM362.34 80.62h6.09v6.83h-6.09zM374.41 80.62h6.09v6.83h-6.09zM338.19 94.19h6.09v6.83h-6.09zM386.49 100.98h6.09v6.83h-6.09zM398.56 100.98h6.09v6.83h-6.09zM301.96 121.33h6.09v6.83h-6.09zM320.07 121.33h6.09v6.83h-6.09zM277.81 141.69h6.09v6.83h-6.09zM301.96 148.47h6.09v6.83h-6.09zM259.7 162.04h6.09v6.83h-6.09zM314.04 168.83h6.09v6.83h-6.09z"/>
<path fill="#ea6060" d="M374.41 46.7h6.09v6.83h-6.09zM374.41 60.27h6.09v6.83h-6.09zM368.38 73.84h6.09v6.83h-6.09zM350.26 100.98h6.09v6.83h-6.09zM380.45 134.9h6.09v6.83h-6.09zM265.74 141.69h6.09v6.83h-6.09zM344.23 148.47h6.09v6.83h-6.09zM271.77 162.04h6.09v6.83h-6.09zM271.77 175.62h6.09v6.83h-6.09z"/>
<path fill="#e4484a" d="M386.49 46.7h6.09v6.83h-6.09zM380.45 107.76h6.09v6.83h-6.09zM265.74 114.55h6.09v6.83h-6.09zM289.89 175.62h6.09v6.83h-6.09z"/>
<path fill="#f8f8fc" d="M392.53 46.7h6.09v6.83h-6.09zM320.07 53.48h6.09v6.83h-6.09zM392.53 53.48h6.09v6.83h-6.09zM295.93 60.27h6.09v6.83h-6.09zM283.85 67.06h6.09v6.83h-6.09zM320.07 67.06h6.09v6.83h-6.09zM344.23 67.06h6.09v6.83h-6.09zM362.34 67.06h6.09v6.83h-6.09zM392.53 67.06h6.09v6.83h-6.09zM283.85 73.84h6.09v6.83h-6.09zM289.89 73.84h6.09v6.83h-6.09zM308 73.84h6.09v6.83h-6.09zM380.45 80.62h6.09v6.83h-6.09zM392.53 80.62h6.09v6.83h-6.09zM289.89 87.41h6.09v6.83h-6.09zM295.93 87.41h6.09v6.83h-6.09zM308 87.41h6.09v6.83h-6.09zM332.15 87.41h6.09v6.83h-6.09zM289.89 94.19h6.09v6.83h-6.09zM368.38 94.19h6.09v6.83h-6.09zM308 100.98h6.09v6.83h-6.09zM320.07 100.98h6.09v6.83h-6.09zM356.3 100.98h6.09v6.83h-6.09zM362.34 100.98h6.09v6.83h-6.09zM283.85 107.76h6.09v6.83h-6.09zM289.89 107.76h6.09v6.83h-6.09zM362.34 107.76h6.09v6.83h-6.09zM368.38 107.76h6.09v6.83h-6.09zM392.53 107.76h6.09v6.83h-6.09zM344.23 114.55h6.09v6.83h-6.09zM374.41 114.55h6.09v6.83h-6.09zM308 121.33h6.09v6.83h-6.09zM374.41 121.33h6.09v6.83h-6.09zM326.11 128.12h6.09v6.83h-6.09zM380.45 128.12h6.09v6.83h-6.09zM289.89 134.9h6.09v6.83h-6.09zM326.11 134.9h6.09v6.83h-6.09zM392.53 134.9h6.09v6.83h-6.09zM314.04 141.69h6.09v6.83h-6.09zM398.56 141.69h6.09v6.83h-6.09zM374.41 148.47h6.09v6.83h-6.09zM308 155.26h6.09v6.83h-6.09zM374.41 155.26h6.09v6.83h-6.09zM283.85 168.83h6.09v6.83h-6.09zM386.49 168.83h6.09v6.83h-6.09zM277.81 175.62h6.09v6.83h-6.09zM283.85 175.62h6.09v6.83h-6.09zM314.04 175.62h6.09v6.83h-6.09zM320.07 175.62h6.09v6.83h-6.09zM362.34 175.62h6.09v6.83h-6.09z"/>
<path fill="#f19b9b" d="M398.56 46.7h6.09v6.83h-6.09zM380.45 73.84h6.09v6.83h-6.09zM295.93 121.33h6.09v6.83h-6.09zM344.23 121.33h6.09v6.83h-6.09zM301.96 141.69h6.09v6.83h-6.09zM301.96 175.62h6.09v6.83h-6.09z"/>
<path fill="#b2bfe7" d="M271.77 53.48h6.09v6.83h-6.09zM283.85 80.62h6.09v6.83h-6.09zM277.81 100.98h6.09v6.83h-6.09zM271.77 107.76h6.09v6.83h-6.09z"/>
<path fill="#849ad4" d="M277.81 53.48h6.09v6.83h-6.09zM301.96 80.62h6.09v6.83h-6.09zM350.26 114.55h6.09v6.83h-6.09zM374.41 134.9h6.09v6.83h-6.09zM338.19 141.69h6.09v6.83h-6.09zM392.53 141.69h6.09v6.83h-6.09zM350.26 162.04h6.09v6.83h-6.09zM356.3 162.04h6.09v6.83h-6.09zM338.19 175.62h6.09v6.83h-6.09z"/>
<path fill="#d4dbf2" d="M289.89 53.48h6.09v6.83h-6.09zM314.04 94.19h6.09v6.83h-6.09zM289.89 121.33h6.09v6.83h-6.09zM301.96 128.12h6.09v6.83h-6.09zM320.07 128.12h6.09v6.83h-6.09zM350.26 128.12h6.09v6.83h-6.09zM338.19 134.9h6.09v6.83h-6.09zM259.7 148.47h6.09v6.83h-6.09zM338.19 148.47h6.09v6.83h-6.09zM350.26 155.26h6.09v6.83h-6.09z"/>
<path fill="#f8eef2" d="M332.15 53.48h6.09v6.83h-6.09zM380.45 53.48h6.09v6.83h-6.09zM314.04 67.06h6.09v6.83h-6.09zM350.26 67.06h6.09v6.83h-6.09zM374.41 67.06h6.09v6.83h-6.09zM350.26 73.84h6.09v6.83h-6.09zM386.49 73.84h6.09v6.83h-6.09zM356.3 80.62h6.09v6.83h-6.09zM392.53 87.41h6.09v6.83h-6.09zM344.23 94.19h6.09v6.83h-6.09zM380.45 100.98h6.09v6.83h-6.09zM392.53 100.98h6.09v6.83h-6.09zM338.19 128.12h6.09v6.83h-6.09zM398.56 128.12h6.09v6.83h-6.09zM277.81 155.26h6.09v6.83h-6.09zM320.07 162.04h6.09v6.83h-6.09zM326.11 162.04h6.09v6.83h-6.09zM368.38 162.04h6.09v6.83h-6.09zM374.41 162.04h6.09v6.83h-6.09zM265.74 168.83h6.09v6.83h-6.09zM265.74 175.62h6.09v6.83h-6.09z"/>
<path fill="#f5bdbd" d="M338.19 53.48h6.09v6.83h-6.09zM350.26 60.27h6.09v6.83h-6.09zM362.34 60.27h6.09v6.83h-6.09zM338.19 87.41h6.09v6.83h-6.09zM308 128.12h6.09v6.83h-6.09zM271.77 148.47h6.09v6.83h-6.09zM289.89 148.47h6.09v6.83h-6.09zM271.77 155.26h6.09v6.83h-6.09zM289.89 155.26h6.09v6.83h-6.09zM314.04 155.26h6.09v6.83h-6.09zM259.7 168.83h6.09v6.83h-6.09zM326.11 168.83h6.09v6.83h-6.09z"/>
<path fill="#dd3035" d="M344.23 53.48h6.09v6.83h-6.09zM368.38 53.48h6.09v6.83h-6.09zM344.23 60.27h6.09v6.83h-6.09zM271.77 114.55h6.09v6.83h-6.09zM295.93 141.69h6.09v6.83h-6.09z"/>
<path fill="#f6c8c8" d="M350.26 53.48h6.09v6.83h-6.09zM362.34 53.48h6.09v6.83h-6.09zM368.38 67.06h6.09v6.83h-6.09zM392.53 73.84h6.09v6.83h-6.09zM374.41 87.41h6.09v6.83h-6.09zM338.19 107.76h6.09v6.83h-6.09zM277.81 114.55h6.09v6.83h-6.09zM326.11 114.55h6.09v6.83h-6.09zM265.74 121.33h6.09v6.83h-6.09zM259.7 175.62h6.09v6.83h-6.09z"/>
<path fill="#f3acac" d="M374.41 53.48h6.09v6.83h-6.09zM338.19 80.62h6.09v6.83h-6.09zM386.49 87.41h6.09v6.83h-6.09zM332.15 94.19h6.09v6.83h-6.09zM374.41 94.19h6.09v6.83h-6.09zM398.56 94.19h6.09v6.83h-6.09zM368.38 121.33h6.09v6.83h-6.09zM289.89 141.69h6.09v6.83h-6.09zM265.74 162.04h6.09v6.83h-6.09zM277.81 168.83h6.09v6.83h-6.09z"/>
<path fill="#f4b7b7" d="M386.49 53.48h6.09v6.83h-6.09zM350.26 80.62h6.09v6.83h-6.09zM350.26 107.76h6.09v6.83h-6.09zM386.49 107.76h6.09v6.83h-6.09zM295.93 155.26h6.09v6.83h-6.09z"/>
<path fill="#7a92d0" d="M265.74 60.27h6.09v6.83h-6.09zM265.74 67.06h6.09v6.83h-6.09zM289.89 114.55h6.09v6.83h-6.09zM344.23 141.69h6.09v6.83h-6.09z"/>
<path fill="#6884c8" d="M271.77 60.27h6.09v6.83h-6.09zM301.96 100.98h6.09v6.83h-6.09zM332.15 141.69h6.09v6.83h-6.09zM332.15 162.04h6.09v6.83h-6.09z"/>
<path fill="#718bcc" d="M289.89 60.27h6.09v6.83h-6.09zM277.81 67.06h6.09v6.83h-6.09zM301.96 94.19h6.09v6.83h-6.09zM259.7 100.98h6.09v6.83h-6.09zM326.11 100.98h6.09v6.83h-6.09zM295.93 134.9h6.09v6.83h-6.09zM368.38 134.9h6.09v6.83h-6.09zM392.53 162.04h6.09v6.83h-6.09zM350.26 168.83h6.09v6.83h-6.09zM332.15 175.62h6.09v6.83h-6.09zM392.53 175.62h6.09v6.83h-6.09z"/>
<path fill="#5e7bc2" d="M301.96 60.27h6.09v6.83h-6.09z"/>
<path fill="#f3f4fb" d="M308 60.27h6.09v6.83h-6.09zM320.07 87.41h6.09v6.83h-6.09zM314.04 100.98h6.09v6.83h-6.09z"/>
<path fill="#da242a" d="M368.38 60.27h6.09v6.83h-6.09zM368.38 80.62h6.09v6.83h-6.09zM295.93 114.55h6.09v6.83h-6.09zM301.96 134.9h6.09v6.83h-6.09zM308 134.9h6.09v6.83h-6.09z"/>
<path fill="#f8f3f7" d="M380.45 60.27h6.09v6.83h-6.09zM386.49 67.06h6.09v6.83h-6.09zM362.34 87.41h6.09v6.83h-6.09zM380.45 87.41h6.09v6.83h-6.09zM332.15 100.98h6.09v6.83h-6.09zM374.41 100.98h6.09v6.83h-6.09zM344.23 107.76h6.09v6.83h-6.09zM350.26 134.9h6.09v6.83h-6.09zM356.3 134.9h6.09v6.83h-6.09zM308 148.47h6.09v6.83h-6.09zM320.07 148.47h6.09v6.83h-6.09zM326.11 148.47h6.09v6.83h-6.09zM265.74 155.26h6.09v6.83h-6.09zM320.07 155.26h6.09v6.83h-6.09zM326.11 155.26h6.09v6.83h-6.09zM295.93 168.83h6.09v6.83h-6.09zM326.11 175.62h6.09v6.83h-6.09z"/>
<path fill="#c9d2ef" d="M392.53 60.27h6.09v6.83h-6.09zM271.77 80.62h6.09v6.83h-6.09zM314.04 80.62h6.09v6.83h-6.09zM320.07 80.62h6.09v6.83h-6.09zM295.93 94.19h6.09v6.83h-6.09zM277.81 107.76h6.09v6.83h-6.09zM283.85 114.55h6.09v6.83h-6.09zM350.26 121.33h6.09v6.83h-6.09zM332.15 134.9h6.09v6.83h-6.09zM283.85 141.69h6.09v6.83h-6.09zM374.41 141.69h6.09v6.83h-6.09zM398.56 148.47h6.09v6.83h-6.09zM332.15 155.26h6.09v6.83h-6.09zM398.56 155.26h6.09v6.83h-6.09zM386.49 162.04h6.09v6.83h-6.09zM344.23 168.83h6.09v6.83h-6.09zM374.41 168.83h6.09v6.83h-6.09zM374.41 175.62h6.09v6.83h-6.09zM386.49 175.62h6.09v6.83h-6.09z"/>
<path fill="#f7d6d8" d="M289.89 67.06h6.09v6.83h-6.09z"/>
<path fill="#4b6ab5" d="M295.93 67.06h6.09v6.83h-6.09z"/>
<path fill="#e85454" d="M332.15 67.06h6.09v6.83h-6.09zM380.45 94.19h6.09v6.83h-6.09zM320.07 114.55h6.09v6.83h-6.09zM271.77 121.33h6.09v6.83h-6.09zM271.77 128.12h6.09v6.83h-6.09zM308 141.69h6.09v6.83h-6.09zM295.93 175.62h6.09v6.83h-6.09z"/>
<path fill="#f4b2b2" d="M338.19 67.06h6.09v6.83h-6.09zM338.19 100.98h6.09v6.83h-6.09zM314.04 114.55h6.09v6.83h-6.09zM265.74 134.9h6.09v6.83h-6.09zM326.11 141.69h6.09v6.83h-6.09zM295.93 148.47h6.09v6.83h-6.09z"/>
<path fill="#eb6c6c" d="M356.3 67.06h6.09v6.83h-6.09zM344.23 80.62h6.09v6.83h-6.09zM344.23 155.26h6.09v6.83h-6.09zM308 162.04h6.09v6.83h-6.09zM314.04 162.04h6.09v6.83h-6.09zM308 168.83h6.09v6.83h-6.09z"/>
<path fill="#5572bb" d="M295.93 73.84h6.09v6.83h-6.09zM308 107.76h6.09v6.83h-6.09zM332.15 114.55h6.09v6.83h-6.09zM380.45 175.62h6.09v6.83h-6.09z"/>
<path fill="#ced6f1" d="M314.04 73.84h6.09v6.83h-6.09zM283.85 148.47h6.09v6.83h-6.09z"/>
<path fill="#3858a8" d="M320.07 73.84h6.09v6.83h-6.09z"/>
<path fill="#f19696" d="M338.19 73.84h6.09v6.83h-6.09zM356.3 94.19h6.09v6.83h-6.09zM289.89 168.83h6.09v6.83h-6.09zM301.96 168.83h6.09v6.83h-6.09z"/>
<path fill="#e3e7f6" d="M356.3 73.84h6.09v6.83h-6.09zM374.41 128.12h6.09v6.83h-6.09zM386.49 128.12h6.09v6.83h-6.09zM362.34 148.47h6.09v6.83h-6.09zM362.34 155.26h6.09v6.83h-6.09zM344.23 162.04h6.09v6.83h-6.09zM356.3 168.83h6.09v6.83h-6.09z"/>
<path fill="#f2a6a6" d="M398.56 73.84h6.09v6.83h-6.09zM259.7 114.55h6.09v6.83h-6.09zM301.96 114.55h6.09v6.83h-6.09zM314.04 128.12h6.09v6.83h-6.09zM259.7 134.9h6.09v6.83h-6.09zM277.81 134.9h6.09v6.83h-6.09zM283.85 134.9h6.09v6.83h-6.09zM314.04 134.9h6.09v6.83h-6.09z"/>
<path fill="#bfcaec" d="M289.89 80.62h6.09v6.83h-6.09zM283.85 121.33h6.09v6.83h-6.09zM386.49 121.33h6.09v6.83h-6.09z"/>
<path fill="#e8ebf8" d="M314.04 87.41h6.09v6.83h-6.09zM259.7 94.19h6.09v6.83h-6.09zM308 94.19h6.09v6.83h-6.09zM295.93 100.98h6.09v6.83h-6.09z"/>
<path fill="#f5c2c2" d="M356.3 87.41h6.09v6.83h-6.09z"/>
<path fill="#f7eaec" d="M277.81 94.19h6.09v6.83h-6.09zM326.11 121.33h6.09v6.83h-6.09z"/>
<path fill="#dee3f5" d="M362.34 94.19h6.09v6.83h-6.09zM392.53 94.19h6.09v6.83h-6.09zM271.77 134.9h6.09v6.83h-6.09zM277.81 148.47h6.09v6.83h-6.09zM320.07 168.83h6.09v6.83h-6.09z"/>
<path fill="#d61820" d="M344.23 100.98h6.09v6.83h-6.09zM368.38 100.98h6.09v6.83h-6.09zM271.77 141.69h6.09v6.83h-6.09zM295.93 162.04h6.09v6.83h-6.09zM308 175.62h6.09v6.83h-6.09z"/>
<path fill="#ee8484" d="M332.15 107.76h6.09v6.83h-6.09zM259.7 141.69h6.09v6.83h-6.09zM368.38 148.47h6.09v6.83h-6.09z"/>
<path fill="#6380c5" d="M338.19 114.55h6.09v6.83h-6.09zM362.34 134.9h6.09v6.83h-6.09z"/>
<path fill="#4261ae" d="M392.53 114.55h6.09v6.83h-6.09zM398.56 114.55h6.09v6.83h-6.09zM386.49 134.9h6.09v6.83h-6.09z"/>
<path fill="#f7e0e2" d="M277.81 121.33h6.09v6.83h-6.09zM289.89 162.04h6.09v6.83h-6.09z"/></g>
<text x="407" y="51.99" font-size="5.42" text-anchor="start" font-weight="normal" fill="#000" >protein kinase cascade</text>
<text x="407" y="58.78" font-size="5.42" text-anchor="start" font-weight="normal" fill="#000" >binding of DNA</text>
<text x="407" y="65.56" font-size="5.42" text-anchor="start" font-weight="normal" fill="#000" >binding of chromatin</text>
<text x="407" y="72.35" font-size="5.42" text-anchor="start" font-weight="normal" fill="#000" >DNA recombination</text>
<text x="407" y="79.13" font-size="5.42" text-anchor="start" font-weight="normal" fill="#000" >translation of mRNA</text>
<text x="407" y="85.92" font-size="5.42" text-anchor="start" font-weight="normal" fill="#000" >cell viability of tumor cell lines</text>
<text x="407" y="92.7" font-size="5.42" text-anchor="start" font-weight="normal" fill="#000" >growth of tumor</text>
<text x="407" y="99.49" font-size="5.42" text-anchor="start" font-weight="normal" fill="#000" >initiation of translation of protein</text>
<text x="407" y="106.27" font-size="5.42" text-anchor="start" font-weight="normal" fill="#000" >DNA damage response of cells</text>
<text x="407" y="113.06" font-size="5.42" text-anchor="start" font-weight="normal" fill="#000" >initiation of expression of RNA</text>
<text x="407" y="119.84" font-size="5.42" text-anchor="start" font-weight="normal" fill="#000" >activation-induced cell death of lymphocytes</text>
<text x="407" y="126.63" font-size="5.42" text-anchor="start" font-weight="normal" fill="#000" >G2 phase</text>
<text x="407" y="133.41" font-size="5.42" text-anchor="start" font-weight="normal" fill="#000" >nonsense-mediated mRNA decay</text>
<text x="407" y="140.2" font-size="5.42" text-anchor="start" font-weight="normal" fill="#000" >sensitization of tumor cell lines</text>
<text x="407" y="146.98" font-size="5.42" text-anchor="start" font-weight="normal" fill="#000" >molecular cleavage of DNA</text>
<text x="407" y="153.77" font-size="5.42" text-anchor="start" font-weight="normal" fill="#000" >homeostasis of blood cells</text>
<text x="407" y="160.55" font-size="5.42" text-anchor="start" font-weight="normal" fill="#000" >lymphocyte homeostasis</text>
<text x="407" y="167.34" font-size="5.42" text-anchor="start" font-weight="normal" fill="#000" >cell death of tumor cells</text>
<text x="407" y="174.12" font-size="5.42" text-anchor="start" font-weight="normal" fill="#000" >length of telomeres</text>
<text x="407" y="180.91" font-size="5.42" text-anchor="start" font-weight="normal" fill="#000" >maintenance of telomeres</text>
<defs><linearGradient id="keyB" x1="0" y1="0" x2="1" y2="0"><stop offset="0" stop-color="#2a4aa0"/><stop offset="0.25" stop-color="#8a9ed6"/><stop offset="0.5" stop-color="#f8f8fc"/><stop offset="0.75" stop-color="#e2827a"/><stop offset="1" stop-color="#c8261e"/></linearGradient></defs>
<rect x="271.1" y="193.6" width="97.4" height="6.8" fill="url(#keyB)" />
<text x="320.2" y="190" font-size="5.5" text-anchor="middle" font-weight="normal" fill="#000" >Subnetwork activity</text>
<text x="273.2" y="208.6" font-size="5.2" text-anchor="middle" font-weight="normal" fill="#000" >-2</text>
<text x="320" y="208.6" font-size="5.2" text-anchor="middle" font-weight="normal" fill="#000" >0</text>
<text x="367.3" y="208.6" font-size="5.2" text-anchor="middle" font-weight="normal" fill="#000" >2</text>
<text transform="translate(8.0,236.3) scale(0.84,1)" font-size="11.9" font-weight="bold" fill="#000" style="stroke:none">C</text>
<rect x="13.3" y="241.4" width="217.3" height="120.6" fill="none" stroke="#111" stroke-width="1"/>
<rect x="121.9" y="242.9" width="103" height="2.6" fill="#9b1236" />
<rect x="121.9" y="245.45" width="63.02" height="2.6" fill="#8c8c8c" />
<text x="233.6" y="246.1" font-size="5.5" text-anchor="start" font-weight="normal" fill="#000" >protein kinase cascade</text>
<rect x="121.9" y="251.59" width="88.22" height="2.6" fill="#9b1236" />
<text x="233.6" y="254.95" font-size="5.5" text-anchor="start" font-weight="normal" fill="#000" >binding of DNA</text>
<rect x="121.9" y="260.28" width="58.67" height="2.6" fill="#9b1236" />
<rect x="121.9" y="262.83" width="58.67" height="2.6" fill="#8c8c8c" />
<text x="233.6" y="263.8" font-size="5.5" text-anchor="start" font-weight="normal" fill="#000" >cell viability of tumor cell lines</text>
<rect x="121.9" y="268.97" width="57.37" height="2.6" fill="#9b1236" />
<rect x="121.9" y="271.52" width="39.55" height="2.6" fill="#8c8c8c" />
<text x="233.6" y="272.65" font-size="5.5" text-anchor="start" font-weight="normal" fill="#000" >growth of tumor</text>
<rect x="121.9" y="277.66" width="43.89" height="2.6" fill="#9b1236" />
<rect x="121.9" y="280.21" width="58.67" height="2.6" fill="#8c8c8c" />
<text x="233.6" y="281.5" font-size="5.5" text-anchor="start" font-weight="normal" fill="#000" >proliferation of tumor cell lines</text>
<rect x="121.9" y="286.35" width="41.72" height="2.6" fill="#9b1236" />
<rect x="121.9" y="288.9" width="6.95" height="2.6" fill="#8c8c8c" />
<text x="233.6" y="290.35" font-size="5.5" text-anchor="start" font-weight="normal" fill="#000" >hematologic cancer</text>
<rect x="121.9" y="295.04" width="28.25" height="2.6" fill="#9b1236" />
<rect x="104.52" y="297.59" width="17.38" height="2.6" fill="#72b043" />
<text x="233.6" y="299.2" font-size="5.5" text-anchor="start" font-weight="normal" fill="#000" >transcription</text>
<rect x="118.42" y="303.73" width="3.48" height="2.6" fill="#1f3a78" />
<rect x="101.47" y="306.28" width="20.43" height="2.6" fill="#72b043" />
<text x="233.6" y="308.05" font-size="5.5" text-anchor="start" font-weight="normal" fill="#000" >cell death of blood cells</text>
<rect x="111.04" y="312.42" width="10.86" height="2.6" fill="#1f3a78" />
<rect x="114.51" y="314.97" width="7.39" height="2.6" fill="#72b043" />
<text x="233.6" y="316.9" font-size="5.5" text-anchor="start" font-weight="normal" fill="#000" >metabolism of DNA</text>
<rect x="102.34" y="321.11" width="19.56" height="2.6" fill="#1f3a78" />
<rect x="121.9" y="323.66" width="49.98" height="2.6" fill="#8c8c8c" />
<text x="233.6" y="325.75" font-size="5.5" text-anchor="start" font-weight="normal" fill="#000" >repair of DNA</text>
<rect x="98" y="329.8" width="23.9" height="2.6" fill="#1f3a78" />
<rect x="97.13" y="332.35" width="24.77" height="2.6" fill="#72b043" />
<text x="233.6" y="334.6" font-size="5.5" text-anchor="start" font-weight="normal" fill="#000" >ubiquitination of protein</text>
<rect x="97.13" y="338.49" width="24.77" height="2.6" fill="#1f3a78" />
<rect x="98.43" y="341.04" width="23.47" height="2.6" fill="#72b043" />
<text x="233.6" y="343.45" font-size="5.5" text-anchor="start" font-weight="normal" fill="#000" >interphase</text>
<rect x="88" y="347.18" width="33.9" height="2.6" fill="#1f3a78" />
<rect x="106.25" y="349.73" width="15.65" height="2.6" fill="#72b043" />
<text x="233.6" y="352.3" font-size="5.5" text-anchor="start" font-weight="normal" fill="#000" >G2 phase</text>
<rect x="48.02" y="355.87" width="73.88" height="2.6" fill="#1f3a78" />
<rect x="26.72" y="358.42" width="95.18" height="2.6" fill="#72b043" />
<text x="233.6" y="361.15" font-size="5.5" text-anchor="start" font-weight="normal" fill="#000" >cell death of tumor cells</text>
<line x1="121.9" y1="241.4" x2="121.9" y2="362" stroke="#111" stroke-width="1.0"/>
<line x1="118.9" y1="250.09" x2="121.9" y2="250.09" stroke="#111" stroke-width="0.8"/>
<line x1="118.9" y1="258.78" x2="121.9" y2="258.78" stroke="#111" stroke-width="0.8"/>
<line x1="118.9" y1="267.47" x2="121.9" y2="267.47" stroke="#111" stroke-width="0.8"/>
<line x1="118.9" y1="276.16" x2="121.9" y2="276.16" stroke="#111" stroke-width="0.8"/>
<line x1="118.9" y1="284.85" x2="121.9" y2="284.85" stroke="#111" stroke-width="0.8"/>
<line x1="118.9" y1="293.54" x2="121.9" y2="293.54" stroke="#111" stroke-width="0.8"/>
<line x1="118.9" y1="302.23" x2="121.9" y2="302.23" stroke="#111" stroke-width="0.8"/>
<line x1="118.9" y1="310.92" x2="121.9" y2="310.92" stroke="#111" stroke-width="0.8"/>
<line x1="118.9" y1="319.61" x2="121.9" y2="319.61" stroke="#111" stroke-width="0.8"/>
<line x1="118.9" y1="328.3" x2="121.9" y2="328.3" stroke="#111" stroke-width="0.8"/>
<line x1="118.9" y1="336.99" x2="121.9" y2="336.99" stroke="#111" stroke-width="0.8"/>
<line x1="118.9" y1="345.68" x2="121.9" y2="345.68" stroke="#111" stroke-width="0.8"/>
<line x1="118.9" y1="354.37" x2="121.9" y2="354.37" stroke="#111" stroke-width="0.8"/>
<text x="11.3" y="371" font-size="5.2" text-anchor="middle" font-weight="normal" fill="#000" >-2.5</text>
<text x="35.03" y="371" font-size="5.2" text-anchor="middle" font-weight="normal" fill="#000" >-2</text>
<text x="56.76" y="371" font-size="5.2" text-anchor="middle" font-weight="normal" fill="#000" >-1.5</text>
<text x="78.49" y="371" font-size="5.2" text-anchor="middle" font-weight="normal" fill="#000" >-1</text>
<text x="100.22" y="371" font-size="5.2" text-anchor="middle" font-weight="normal" fill="#000" >-0.5</text>
<text x="121.95" y="371" font-size="5.2" text-anchor="middle" font-weight="normal" fill="#000" >0</text>
<text x="143.68" y="371" font-size="5.2" text-anchor="middle" font-weight="normal" fill="#000" >0.5</text>
<text x="165.41" y="371" font-size="5.2" text-anchor="middle" font-weight="normal" fill="#000" >1</text>
<text x="187.14" y="371" font-size="5.2" text-anchor="middle" font-weight="normal" fill="#000" >1.5</text>
<text x="208.87" y="371" font-size="5.2" text-anchor="middle" font-weight="normal" fill="#000" >2</text>
<text x="230.6" y="371" font-size="5.2" text-anchor="middle" font-weight="normal" fill="#000" >2.5</text>
<text x="122" y="382.9" font-size="7.95" text-anchor="middle" font-weight="normal" fill="#000" >Activation z-score</text>
<rect x="35.4" y="397.8" width="8.4" height="6.1" fill="#1f3a78" />
<text x="46.8" y="402.4" font-size="5.45" fill="#000">down in ROR1<tspan font-size="3.9" dy="-2.6">Pos</tspan><tspan dy="2.6"> vs ROR1</tspan><tspan font-size="3.9" dy="-2.6">Neg</tspan></text>
<rect x="35.4" y="410.3" width="8.4" height="6.3" fill="#72b043" />
<text x="46.8" y="415" font-size="5.45" text-anchor="start" font-weight="normal" fill="#000" >down in ROR1xTCL1 vs TCL1</text>
<rect x="129.8" y="397.4" width="8.3" height="6.1" fill="#a01030" />
<text x="140.4" y="402.4" font-size="5.45" fill="#000">up in ROR1<tspan font-size="3.9" dy="-2.6">Pos</tspan><tspan dy="2.6"> vs ROR1</tspan><tspan font-size="3.9" dy="-2.6">Neg</tspan></text>
<rect x="129.8" y="410.3" width="8.3" height="6.6" fill="#8c8c8c" />
<text x="140.4" y="415" font-size="5.45" text-anchor="start" font-weight="normal" fill="#000" >up in ROR1xTCL1 vs TCL1</text>
<text transform="translate(322.0,235.8) scale(0.84,1)" font-size="11.9" font-weight="bold" fill="#000" style="stroke:none">D</text>
<text x="388.6" y="249.8" font-size="5.8" text-anchor="middle" fill="#000">ROR1<tspan font-size="3.9" dy="-2.5">Neg</tspan></text>
<text x="444.8" y="249.8" font-size="5.8" text-anchor="middle" fill="#000">ROR1<tspan font-size="3.9" dy="-2.5">Pos</tspan></text>
<line x1="363.8" y1="253.4" x2="417.2" y2="253.4" stroke="#111" stroke-width="1.0"/>
<line x1="420.2" y1="253.4" x2="473.2" y2="253.4" stroke="#111" stroke-width="1.0"/>
<defs><filter id="blD" x="-5%" y="-20%" width="110%" height="140%"><feGaussianBlur stdDeviation="0.55"/></filter><linearGradient id="pg" x1="0" y1="0" x2="0" y2="1"><stop offset="0" stop-color="#8e8e8e"/><stop offset="0.2" stop-color="#a6a6a6"/><stop offset="0.8" stop-color="#aeaeae"/><stop offset="1" stop-color="#a0a0a0"/></linearGradient><linearGradient id="tg" x1="0" y1="0" x2="0" y2="1"><stop offset="0" stop-color="#b0b0b0"/><stop offset="0.25" stop-color="#cdcdcd"/><stop offset="1" stop-color="#d2d2d2"/></linearGradient></defs>
<rect x="361.2" y="256.6" width="112" height="13.2" fill="url(#pg)" stroke="#262626" stroke-width="1"/>
<rect x="361.2" y="279.2" width="112" height="13" fill="url(#tg)" stroke="#262626" stroke-width="1"/>
<g filter="url(#blD)"><ellipse cx="366.5" cy="263.4" rx="2.6" ry="0.9" fill="#202020" opacity="0.55"/><ellipse cx="375.6" cy="263.4" rx="2.6" ry="0.9" fill="#202020" opacity="0.5"/><ellipse cx="385.4" cy="263.4" rx="2.6" ry="0.9" fill="#202020" opacity="0.08"/><ellipse cx="394.6" cy="263.4" rx="2.6" ry="0.9" fill="#202020" opacity="0.04"/><ellipse cx="404.2" cy="263.4" rx="2.6" ry="0.9" fill="#202020" opacity="0.03"/><ellipse cx="413.6" cy="263.4" rx="2.6" ry="0.9" fill="#202020" opacity="0.05"/><ellipse cx="422.8" cy="263.4" rx="2.6" ry="0.9" fill="#202020" opacity="0.3"/><ellipse cx="432.2" cy="263.4" rx="2.6" ry="0.9" fill="#202020" opacity="0.42"/><ellipse cx="441.3" cy="263.4" rx="2.6" ry="0.9" fill="#202020" opacity="0.35"/><ellipse cx="449.8" cy="263.4" rx="2.6" ry="0.9" fill="#202020" opacity="0.4"/><ellipse cx="461.4" cy="263.1" rx="3.1" ry="1.5" fill="#202020" opacity="0.85"/><ellipse cx="469.6" cy="263.1" rx="3.4" ry="2.2" fill="#202020" opacity="1"/><ellipse cx="366.5" cy="285.7" rx="3.3" ry="0.8" fill="#000" opacity="0.85"/><ellipse cx="375.6" cy="285.5" rx="3.3" ry="0.8" fill="#000" opacity="0.85"/><ellipse cx="385.4" cy="285.3" rx="3.3" ry="0.8" fill="#000" opacity="0.85"/><ellipse cx="394.6" cy="285.1" rx="3.3" ry="0.8" fill="#000" opacity="0.85"/><ellipse cx="404.2" cy="284.9" rx="3.3" ry="0.8" fill="#000" opacity="0.85"/><ellipse cx="413.6" cy="284.7" rx="3.3" ry="0.8" fill="#000" opacity="0.85"/><ellipse cx="422.8" cy="284.5" rx="3.3" ry="0.8" fill="#000" opacity="0.85"/><ellipse cx="432.2" cy="284.3" rx="3.3" ry="0.8" fill="#000" opacity="0.85"/><ellipse cx="441.3" cy="284.1" rx="3.3" ry="0.8" fill="#000" opacity="0.85"/><ellipse cx="449.8" cy="283.9" rx="3.3" ry="0.8" fill="#000" opacity="0.85"/><ellipse cx="461.4" cy="283.7" rx="3.3" ry="0.8" fill="#000" opacity="0.85"/><ellipse cx="469.6" cy="283.5" rx="3.3" ry="0.8" fill="#000" opacity="0.85"/></g>
<text x="357.8" y="265.5" font-size="5.25" text-anchor="end" font-weight="normal" fill="#000" >p-AKT</text>
<text x="357.8" y="287.1" font-size="5.25" text-anchor="end" font-weight="normal" fill="#000" >t-AKT</text>
<text transform="translate(365.2,276.6)" font-size="5.6" text-anchor="middle" fill="#000">1.8</text>
<text transform="translate(374.5,276.6)" font-size="5.6" text-anchor="middle" fill="#000">2.6</text>
<text transform="translate(384.6,276.6)" font-size="5.6" text-anchor="middle" fill="#000">0.5</text>
<text transform="translate(394,276.6)" font-size="5.6" text-anchor="middle" fill="#000">0.4</text>
<text transform="translate(403.8,276.6)" font-size="5.6" text-anchor="middle" fill="#000">0.2</text>
<text transform="translate(413.5,276.6)" font-size="5.6" text-anchor="middle" fill="#000">0.5</text>
<text transform="translate(421.5,276.6)" font-size="5.6" text-anchor="middle" fill="#000">2.8</text>
<text transform="translate(431.3,276.6)" font-size="5.6" text-anchor="middle" fill="#000">3.5</text>
<text transform="translate(440.7,276.6)" font-size="5.6" text-anchor="middle" fill="#000">3.2</text>
<text transform="translate(450,276.6)" font-size="5.6" text-anchor="middle" fill="#000">2.8</text>
<text transform="translate(460.3,276.6)" font-size="5.6" text-anchor="middle" fill="#000">11</text>
<text transform="translate(469.8,276.6)" font-size="5.6" text-anchor="middle" fill="#000">26</text>
<text x="415.8" y="306.1" font-size="7.6" text-anchor="middle" font-weight="normal" fill="#000" >p-AKT expression</text>
<line x1="356.3" y1="311" x2="356.3" y2="319.2" stroke="#111" stroke-width="1.0"/>
<line x1="356.3" y1="323.2" x2="356.3" y2="376.3" stroke="#111" stroke-width="1.0"/>
<line x1="355.8" y1="376.3" x2="474.6" y2="376.3" stroke="#111" stroke-width="1.0"/>
<line x1="353.4" y1="312.2" x2="356.3" y2="312.2" stroke="#111" stroke-width="0.9"/>
<line x1="353.4" y1="318.8" x2="356.3" y2="318.8" stroke="#111" stroke-width="0.9"/>
<line x1="353.4" y1="323.6" x2="356.3" y2="323.6" stroke="#111" stroke-width="0.9"/>
<line x1="353.4" y1="350.5" x2="356.3" y2="350.5" stroke="#111" stroke-width="0.9"/>
<line x1="353.4" y1="376.3" x2="356.3" y2="376.3" stroke="#111" stroke-width="0.9"/>
<text transform="translate(347.9,313.6) rotate(-90)" font-size="3.6" text-anchor="middle" fill="#000">26</text>
<text transform="translate(347.9,318.7) rotate(-90)" font-size="3.6" text-anchor="middle" fill="#000">4</text>
<text transform="translate(347.9,323.7) rotate(-90)" font-size="3.6" text-anchor="middle" fill="#000">4</text>
<text transform="translate(347.9,350.5) rotate(-90)" font-size="4.8" text-anchor="middle" fill="#000">2</text>
<text transform="translate(347.9,376) rotate(-90)" font-size="4.8" text-anchor="middle" fill="#000">0</text>
<text transform="translate(336.6,342.2) rotate(-90)" font-size="6.8" text-anchor="middle" fill="#000">p-AKT/t-AKT (ratio)</text>
<line x1="386.1" y1="376.6" x2="386.1" y2="379.6" stroke="#111" stroke-width="0.8"/>
<line x1="444.3" y1="376.6" x2="444.3" y2="379.6" stroke="#111" stroke-width="0.8"/>
<text x="386.0" y="387.9" font-size="5.9" text-anchor="middle" fill="#000">ROR1<tspan font-size="4.0" dy="-2.5">Neg</tspan></text>
<text x="442.6" y="387.9" font-size="5.9" text-anchor="middle" fill="#000">ROR1<tspan font-size="4.0" dy="-2.5">Pos</tspan></text>
<text x="415.4" y="324" font-size="5.3" text-anchor="middle" font-weight="normal" fill="#000" >p=0.003</text>
<rect x="384.8" y="341.5" width="2.6" height="2.6" fill="#000"/>
<rect x="384.8" y="351.7" width="2.6" height="2.6" fill="#000"/>
<rect x="380" y="368.5" width="2.6" height="2.6" fill="#000"/>
<rect x="384.8" y="368.5" width="2.6" height="2.6" fill="#000"/>
<rect x="389.1" y="369.9" width="2.6" height="2.6" fill="#000"/>
<rect x="384.8" y="372.7" width="2.6" height="2.6" fill="#000"/>
<rect x="438.5" y="313.1" width="2.6" height="2.6" fill="#000"/>
<rect x="443.2" y="316.7" width="2.6" height="2.6" fill="#000"/>
<rect x="443.2" y="330" width="2.6" height="2.6" fill="#000"/>
<rect x="443.2" y="333.1" width="2.6" height="2.6" fill="#000"/>
<rect x="437.9" y="338.9" width="2.6" height="2.6" fill="#000"/>
<rect x="447.7" y="338.9" width="2.6" height="2.6" fill="#000"/>
<line x1="371.1" y1="369.7" x2="399.8" y2="369.7" stroke="#111" stroke-width="1.0"/>
<line x1="428.9" y1="332.7" x2="458.9" y2="332.7" stroke="#111" stroke-width="1.0"/>
<rect x="0" y="0" width="520" height="1.2" fill="#000" />
<rect x="0" y="0" width="1.5" height="424" fill="#000" />
<rect x="518.3" y="0" width="1.7" height="424" fill="#000" />
<rect x="0" y="422.2" width="520" height="1.8" fill="#000" />
</svg>
</body></html>
